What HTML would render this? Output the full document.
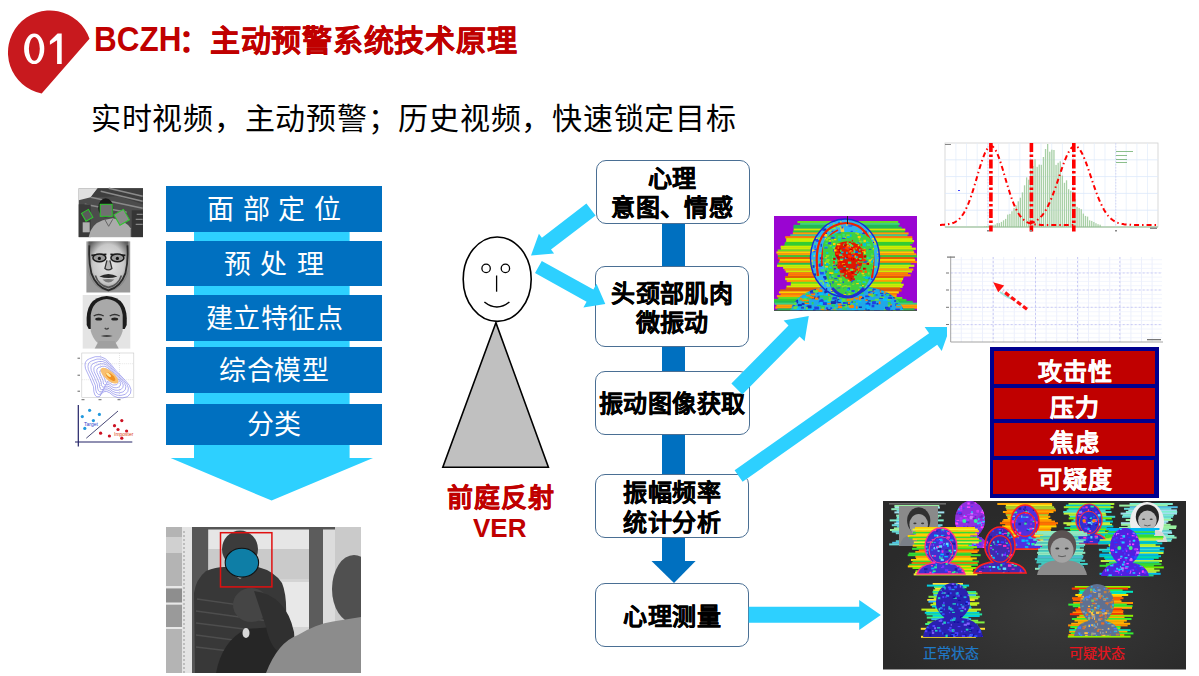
<!DOCTYPE html>
<html lang="zh-CN">
<head>
<meta charset="utf-8">
<style>
html,body{margin:0;padding:0;}
body{width:1199px;height:676px;overflow:hidden;position:relative;background:#fff;font-family:"Liberation Sans",sans-serif;}
.a{position:absolute;left:0;top:0;}
.t{position:absolute;white-space:nowrap;line-height:1;}
.bb{position:absolute;left:166px;width:216px;background:#0070C0;}
.bt{position:absolute;left:166px;width:216px;text-align:center;letter-spacing:0.5px;text-indent:0.5px;color:#fff;font-size:27px;line-height:1;white-space:nowrap;}
.fb{position:absolute;border:1.3px solid #4A6F94;border-radius:10px;background:#fff;box-sizing:border-box;}
.ft{position:absolute;-webkit-text-stroke:0.3px #000;left:595px;width:154px;letter-spacing:0.4px;text-indent:0.4px;text-align:center;color:#000;font-weight:bold;font-size:24px;line-height:1;white-space:nowrap;}
.con{position:absolute;left:662px;width:23px;background:#0070C0;}
.rc{position:absolute;left:994px;width:161px;background:#C00000;}
.rt{position:absolute;-webkit-text-stroke:0.3px #fff;left:994px;width:161px;text-align:center;letter-spacing:1px;text-indent:1px;color:#fff;font-weight:bold;font-size:24px;line-height:1;white-space:nowrap;}
</style>
</head>
<body>
<!-- badge -->
<svg class="a" width="100" height="100">
<path d="M89.5,38.8 A41.9,41.9 0 1 0 41.7,93.5 Z" fill="#C8191E"/>
</svg>
<svg class="a" width="100" height="100"><path fill="#fff" fill-rule="evenodd" d="M24.1,48.85 A10.1,15.25 0 1 0 44.3,48.85 A10.1,15.25 0 1 0 24.1,48.85 Z M28.9,48.85 A5.45,11.95 0 1 0 39.8,48.85 A5.45,11.95 0 1 0 28.9,48.85 Z"/><polygon fill="#fff" points="57.6,33.6 61.7,33.6 61.7,64.1 57.1,64.1 57.1,40.2 49.9,44.8 49.9,41 "/></svg>
<div class="t" style="left:93.5px;top:22px;font-size:34.2px;font-weight:bold;color:#C00000;transform:scaleX(0.92);transform-origin:0 0;">BCZH</div>
<div class="t" style="left:179px;top:26px;font-size:30px;letter-spacing:0.75px;font-weight:bold;color:#C00000;-webkit-text-stroke:0.4px #C00000;">：主动预警系统技术原理</div>
<div class="t" style="left:91px;top:104px;font-size:30px;letter-spacing:0.74px;color:#000;">实时视频，主动预警；历史视频，快速锁定目标</div>

<!-- big cyan arrow -->
<svg class="a" width="400" height="520">
<polygon points="194,186 349.6,186 349.6,458 373,458 271.6,500.6 170.6,458 194,458" fill="#2DD0FF"/>
</svg>
<div class="bb" style="top:186px;height:45.6px;"></div>
<div class="bb" style="top:241px;height:44.6px;"></div>
<div class="bb" style="top:295px;height:45.6px;"></div>
<div class="bb" style="top:347px;height:45.6px;"></div>
<div class="bb" style="top:404px;height:40.6px;"></div>
<div class="bt" style="top:196.5px;letter-spacing:8.7px;text-indent:8.7px">面部定位</div>
<div class="bt" style="top:251.5px;letter-spacing:9.3px;text-indent:9.3px">预处理</div>
<div class="bt" style="top:305.5px;">建立特征点</div>
<div class="bt" style="top:357.5px;">综合模型</div>
<div class="bt" style="top:411.5px;">分类</div>

<svg class="a" width="400" height="676"><g transform="translate(78.7,188.3)"><rect width="64.3" height="48.8" fill="#4C4C4C"/><polygon points="0,0 19,0 12,9 0,12" fill="#E0E0E0"/><polygon points="19,0 64.3,0 64.3,16 40,8 12,9" fill="#3E3E3E"/><path d="M12,9 L64,20 M22,3 L64,13 M6,16 L48,24 M30,0 L64,8" stroke="#8A8A8A" stroke-width="1.6"/><rect x="0" y="16" width="12" height="32.8" fill="#3A3A3A"/><rect x="4" y="34" width="7" height="10" fill="#B0B0B0"/><rect x="53" y="22" width="11.3" height="26.8" fill="#353535"/><path d="M58,26 H64 M57,31 H64 M57,36 H64" stroke="#9a9a9a" stroke-width="1"/><path d="M10,48.8 Q12,36 24,32 L34,30 Q48,33 52,40 L52,48.8 Z" fill="#ABABAB"/><path d="M26,31 L30,38 L34,31" stroke="#666" stroke-width="1" fill="none"/><ellipse cx="27" cy="19.5" rx="7.5" ry="9.5" fill="#1A1A1A"/><rect x="21.5" y="16" width="12" height="12" fill="#707070" stroke="#2EC82E" stroke-width="1"/><rect x="4.5" y="22.5" width="8" height="9" fill="#5a5a5a" stroke="#2EC82E" stroke-width="1" transform="rotate(-30 8.5 27)"/><rect x="37.5" y="23" width="11" height="12" fill="#8a8a8a" stroke="#2EC82E" stroke-width="1" transform="rotate(-30 43 29)"/></g><defs><radialGradient id="t2g" cx="0.5" cy="0.45" r="0.6"><stop offset="0" stop-color="#E6E6E6"/><stop offset="0.65" stop-color="#C8C8C8"/><stop offset="1" stop-color="#606060"/></radialGradient></defs><g transform="translate(86.4,241.4)"><rect width="43.8" height="51.1" fill="#9A9A9A"/><path d="M2,0 L42,0 L42,30 Q38,47 22,50 Q6,47 2,30 Z" fill="url(#t2g)"/><path d="M3,4 Q2,20 5,32 Q10,46 22,49 Q34,46 39,32 Q42,20 41,4" fill="none" stroke="#2a2a2a" stroke-width="1.8"/><path d="M5,14 L20,13 M24,13 L39,14" stroke="#1a1a1a" stroke-width="1.8"/><ellipse cx="13" cy="16.5" rx="6.5" ry="3.8" fill="#9a9a9a" stroke="#1a1a1a" stroke-width="1.5"/><ellipse cx="31" cy="16.5" rx="6.5" ry="3.8" fill="#9a9a9a" stroke="#1a1a1a" stroke-width="1.5"/><circle cx="13" cy="17" r="1.6" fill="#111"/><circle cx="31" cy="17" r="1.6" fill="#111"/><path d="M20.5,19 L18.5,27 Q22,30 25.5,27 L23.5,19" fill="#b8b8b8" stroke="#333" stroke-width="1.3"/><path d="M13,35 Q22,30 31,35 Q22,38 13,35 Z" fill="#2a2a2a"/><path d="M16,38 Q22,37 28,38 Q22,44 16,38 Z" fill="#7a7a7a"/><path d="M9,34 Q12,44 22,46 Q32,44 35,34" fill="none" stroke="#555" stroke-width="1.6"/></g><g transform="translate(82.7,295)"><rect width="47.6" height="53.6" fill="#E4E4E4"/><path d="M4,30 Q2,2 24,1 Q46,2 44,30 L42,34 L6,34 Z" fill="#1C1C1C"/><path d="M8,20 Q10,5 24,4 Q38,5 40,20 L40,36 Q36,50 24,52 Q12,50 8,36 Z" fill="#A9A9A9"/><path d="M12,53.6 L16,46 L32,46 L36,53.6 Z" fill="#A0A0A0"/><path d="M11,21 Q16,18 21,21 M27,21 Q32,18 37,21" stroke="#333" stroke-width="1.4" fill="none"/><ellipse cx="16" cy="24" rx="3.5" ry="1.6" fill="#222"/><ellipse cx="32" cy="24" rx="3.5" ry="1.6" fill="#222"/><path d="M22,33 Q24,35 26,33" stroke="#444" stroke-width="1.2" fill="none"/><path d="M18,41 Q24,39 30,41 Q24,43 18,41 Z" fill="#444"/></g><g transform="translate(79.5,352.7)"><rect x="2.3" y="0.3" width="52" height="44.5" fill="#fff" stroke="#c8c8c8" stroke-width="0.6"/><path d="M2.3,11 H54.3 M2.3,27 H54.3 M21,0.3 V44.8 M40,0.3 V44.8" stroke="#ccc" stroke-width="0.5" stroke-dasharray="1,1"/><g fill="#666"><rect x="-2" y="5" width="2.5" height="1"/><rect x="-2" y="22" width="2.5" height="1"/><rect x="-2" y="38" width="2.5" height="1"/><rect x="2" y="46.5" width="3" height="1"/><rect x="19" y="46.5" width="3" height="1"/><rect x="38" y="46.5" width="3" height="1"/></g><path transform="translate(30,24) scale(1.00)" d="M-20,-18 Q-8,-24 0,-14 Q6,-6 16,4 Q26,14 18,20 Q8,24 0,16 Q-6,12 -10,20 Q-16,22 -16,10 Q-20,0 -24,-8 Q-26,-16 -20,-18 Z" fill="none" stroke="#7878E8" stroke-width="0.60"/><path transform="translate(30,24) scale(0.88)" d="M-20,-18 Q-8,-24 0,-14 Q6,-6 16,4 Q26,14 18,20 Q8,24 0,16 Q-6,12 -10,20 Q-16,22 -16,10 Q-20,0 -24,-8 Q-26,-16 -20,-18 Z" fill="none" stroke="#7878E8" stroke-width="0.68"/><path transform="translate(30,24) scale(0.76)" d="M-20,-18 Q-8,-24 0,-14 Q6,-6 16,4 Q26,14 18,20 Q8,24 0,16 Q-6,12 -10,20 Q-16,22 -16,10 Q-20,0 -24,-8 Q-26,-16 -20,-18 Z" fill="none" stroke="#7878E8" stroke-width="0.79"/><path transform="translate(30,24) scale(0.64)" d="M-20,-18 Q-8,-24 0,-14 Q6,-6 16,4 Q26,14 18,20 Q8,24 0,16 Q-6,12 -10,20 Q-16,22 -16,10 Q-20,0 -24,-8 Q-26,-16 -20,-18 Z" fill="none" stroke="#7878E8" stroke-width="0.94"/><path transform="translate(30,24) scale(0.52)" d="M-20,-18 Q-8,-24 0,-14 Q6,-6 16,4 Q26,14 18,20 Q8,24 0,16 Q-6,12 -10,20 Q-16,22 -16,10 Q-20,0 -24,-8 Q-26,-16 -20,-18 Z" fill="none" stroke="#7878E8" stroke-width="1.15"/><path transform="translate(30,24) scale(0.40)" d="M-20,-18 Q-8,-24 0,-14 Q6,-6 16,4 Q26,14 18,20 Q8,24 0,16 Q-6,12 -10,20 Q-16,22 -16,10 Q-20,0 -24,-8 Q-26,-16 -20,-18 Z" fill="none" stroke="#7878E8" stroke-width="1.50"/><path transform="translate(30,24) scale(0.28)" d="M-20,-18 Q-8,-24 0,-14 Q6,-6 16,4 Q26,14 18,20 Q8,24 0,16 Q-6,12 -10,20 Q-16,22 -16,10 Q-20,0 -24,-8 Q-26,-16 -20,-18 Z" fill="none" stroke="#7878E8" stroke-width="2.14"/><ellipse cx="30" cy="23" rx="11" ry="4.5" transform="rotate(40 30 23)" fill="#F8C070"/><ellipse cx="31" cy="24" rx="6" ry="2.5" transform="rotate(40 31 24)" fill="#F09020"/><ellipse cx="29" cy="22" rx="3" ry="1.3" transform="rotate(40 29 22)" fill="#FFE8A0"/></g><g><path d="M78.3,405 V446.5 M75,442 H132.3" stroke="#222266" stroke-width="1.2"/><path d="M86.3,438.2 L118,411" stroke="#333366" stroke-width="0.9"/><circle cx="89.6" cy="410.3" r="1.6" fill="#2299DD"/><circle cx="82.3" cy="416.6" r="1.6" fill="#2299DD"/><circle cx="93.4" cy="420.6" r="1.6" fill="#2299DD"/><circle cx="99.4" cy="414.4" r="1.6" fill="#2299DD"/><circle cx="84.8" cy="428.4" r="1.6" fill="#2299DD"/><circle cx="121.8" cy="420.6" r="1.6" fill="#CC1122"/><circle cx="114.5" cy="425.7" r="1.6" fill="#CC1122"/><circle cx="118" cy="429.5" r="1.6" fill="#CC1122"/><circle cx="126.6" cy="431" r="1.6" fill="#CC1122"/><circle cx="100.6" cy="433.2" r="1.6" fill="#CC1122"/><circle cx="109.4" cy="436" r="1.6" fill="#CC1122"/><circle cx="121.8" cy="438.2" r="1.6" fill="#CC1122"/><text x="84" y="426" font-size="5" fill="#3344cc" font-family="Liberation Sans">Target</text><text x="114" y="435.5" font-size="5" fill="#dd4411" font-family="Liberation Sans">Imposter</text></g></svg>

<svg class="a" style="left:166px;top:527px" width="195" height="146" viewBox="0 0 195 146"><rect width="195" height="146" fill="#BDBDBD"/><rect x="0" y="0" width="16" height="146" fill="#B4B4B4"/><rect x="0" y="10" width="16" height="16" fill="#D0D0D0"/><rect x="0" y="62" width="16" height="14" fill="#8E8E8E"/><rect x="0" y="78" width="16" height="22" fill="#9A9A9A"/><path d="M0,60 H16 M0,76.5 H16 M0,101 H16" stroke="#E8E8E8" stroke-width="2"/><rect x="16" y="0" width="10" height="146" fill="#E4E4E4"/><path d="M18,4 V146" stroke="#B0B0B0" stroke-width="1.5" stroke-dasharray="2,2"/><rect x="26" y="0" width="16.5" height="146" fill="#575757"/><rect x="42.5" y="2" width="100.5" height="144" fill="#D4D4D4"/><rect x="42.5" y="2" width="100.5" height="20" fill="#E6E6E6"/><rect x="42.5" y="22" width="100.5" height="30" fill="#CACACA"/><rect x="100" y="55" width="43" height="45" fill="#E8E8E8"/><rect x="143" y="0" width="14" height="146" fill="#5C5C5C"/><rect x="157" y="0" width="12" height="146" fill="#DCDCDC"/><rect x="169" y="0" width="26" height="146" fill="#CACACA"/><rect x="26" y="0" width="143" height="2.5" fill="#555"/><path d="M29,146 L28,66 Q30,52 40,44 Q50,40 58,40 L92,40 Q108,44 116,56 Q121,68 120,90 L121,146 Z" fill="#383838"/><path d="M31,72 L116,84 M30,84 L117,96 M30,96 L110,106 M30,108 L90,116 M30,120 L80,126" stroke="#4e4e4e" stroke-width="1.3"/><ellipse cx="74" cy="22" rx="18" ry="18.5" fill="#3C3C3C"/><path d="M62,44 L74,52 L86,44" fill="#9a9a9a"/><path d="M50,146 Q56,114 80,102 L108,100 Q122,108 120,146 Z" fill="#262626"/><ellipse cx="85" cy="78" rx="18" ry="17" fill="#454545"/><path d="M88,64 Q120,68 128,105 Q130,122 118,128 Q105,124 100,100 Z" fill="#303030"/><ellipse cx="80" cy="106" rx="3.5" ry="5" fill="#d8d8d8"/><ellipse cx="188" cy="62" rx="22" ry="34" fill="#505050"/><path d="M100,146 Q112,115 132,108 Q150,97 167,94.5 L195,90 L195,146 Z" fill="#8C8C8C"/><rect x="54.5" y="5.7" width="51.4" height="54.2" fill="none" stroke="#E01010" stroke-width="1.5"/><ellipse cx="75.9" cy="35.7" rx="16.7" ry="14.4" fill="#0E7EA6" stroke="#111" stroke-width="1.1"/></svg>

<!-- stick figure -->
<svg class="a" width="600" height="560">
<polygon points="495.9,322.7 442.8,467.2 548.4,467.2" fill="#C0C0C0" stroke="#000" stroke-width="1.6" stroke-linejoin="miter"/>
<ellipse cx="497.2" cy="279.2" rx="34" ry="42.2" fill="#fff" stroke="#000" stroke-width="1.6"/>
<circle cx="486.1" cy="268.4" r="4.2" fill="none" stroke="#000" stroke-width="1.3"/>
<circle cx="505.4" cy="268.4" r="4.2" fill="none" stroke="#000" stroke-width="1.3"/>
<line x1="496.6" y1="275.5" x2="496.6" y2="291.7" stroke="#000" stroke-width="1.3"/>
<path d="M484.4,302 Q496.9,312 509.4,302" fill="none" stroke="#000" stroke-width="1.5"/>
</svg>
<div class="t" style="left:447px;top:485px;font-size:26px;letter-spacing:0.9px;font-weight:bold;color:#C00000;-webkit-text-stroke:0.35px #C00000;">前庭反射</div>
<div class="t" style="left:473px;top:515px;font-size:26px;font-weight:bold;color:#C00000;">VER</div>

<!-- flowchart -->
<div class="con" style="top:220px;height:50px;"></div>
<div class="con" style="top:343px;height:30px;"></div>
<div class="con" style="top:431px;height:46px;"></div>
<div class="con" style="top:535px;height:27px;"></div>
<svg class="a" width="760" height="600">
<polygon points="651.5,561 695.6,561 674,583" fill="#0070C0"/>
</svg>
<div class="fb" style="left:596px;top:160px;width:154px;height:64px;"></div>
<div class="fb" style="left:595px;top:265.5px;width:154px;height:81.5px;"></div>
<div class="fb" style="left:595px;top:370.5px;width:155px;height:64px;"></div>
<div class="fb" style="left:595px;top:474px;width:154px;height:63.5px;"></div>
<div class="fb" style="left:595px;top:582.5px;width:154px;height:64px;"></div>
<div class="ft" style="top:166.5px;">心理</div>
<div class="ft" style="top:195.5px;">意图、情感</div>
<div class="ft" style="top:281.5px;">头颈部肌肉</div>
<div class="ft" style="top:310.5px;">微振动</div>
<div class="ft" style="top:391.5px;">振动图像获取</div>
<div class="ft" style="top:480.5px;">振幅频率</div>
<div class="ft" style="top:510.5px;">统计分析</div>
<div class="ft" style="top:604.5px;">心理测量</div>

<!-- arrows -->
<svg class="a" width="1199" height="676">
<g fill="#2DD0FF">
<polygon points="586.4,203.5 541.9,237.7 538.9,233.7 531.0,255.5 554.1,253.6 551.0,249.6 595.6,215.5"/>
<polygon points="535.0,273.1 586.6,301.7 583.4,307.4 605.3,304.1 596.5,283.8 593.4,289.5 541.8,260.9"/>
<polygon points="742.4,394.4 799.6,336.4 804.6,341.3 808.8,316.0 783.6,320.6 788.5,325.5 731.4,383.6"/>
<polygon points="742.6,481.7 937.2,344.7 941.7,351.1 950.3,326.9 924.6,326.9 929.1,333.3 734.6,470.3"/>
<polygon points="748.7,606.7 859.2,606.7 859.2,600 880.8,615 859.2,630 859.2,622.7 748.7,622.7"/>
</g>
</svg>

<svg class="a" style="left:774px;top:216px" width="143" height="95.3" viewBox="0 0 143 95.3"><rect width="143" height="95.3" fill="#9A05D2"/><rect x="23.4" y="5.0" width="100.8" height="2.2" fill="#66DD22"/><rect x="26.1" y="6.9" width="99.5" height="2.2" fill="#40D080"/><rect x="19.6" y="8.8" width="105.0" height="2.2" fill="#22BB55"/><rect x="19.4" y="10.7" width="108.3" height="2.2" fill="#22BB55"/><rect x="19.7" y="12.6" width="111.6" height="2.2" fill="#CCEE00"/><rect x="18.9" y="14.5" width="111.8" height="2.2" fill="#33CC33"/><rect x="18.8" y="16.4" width="115.8" height="2.2" fill="#FFA000"/><rect x="16.3" y="18.3" width="117.2" height="2.2" fill="#40D080"/><rect x="11.1" y="20.2" width="127.2" height="2.2" fill="#FF7F00"/><rect x="12.2" y="22.1" width="126.2" height="2.2" fill="#CCEE00"/><rect x="12.2" y="24.0" width="127.9" height="2.2" fill="#CCEE00"/><rect x="10.9" y="25.9" width="127.8" height="2.2" fill="#33CC33"/><rect x="10.3" y="27.8" width="125.9" height="2.2" fill="#33CC33"/><rect x="6.6" y="29.7" width="131.2" height="2.2" fill="#CCEE00"/><rect x="6.8" y="31.6" width="135.0" height="2.2" fill="#CCEE00"/><rect x="3.7" y="33.5" width="135.8" height="2.2" fill="#66DD22"/><rect x="2.4" y="35.4" width="137.8" height="2.2" fill="#FFD000"/><rect x="3.5" y="37.3" width="138.8" height="2.2" fill="#FFA000"/><rect x="4.0" y="39.2" width="140.7" height="2.2" fill="#33CC33"/><rect x="3.8" y="41.1" width="136.7" height="2.2" fill="#E06000"/><rect x="5.7" y="43.0" width="135.5" height="2.2" fill="#FFD000"/><rect x="4.8" y="44.9" width="138.1" height="2.2" fill="#FF7F00"/><rect x="3.5" y="46.8" width="133.2" height="2.2" fill="#22BB55"/><rect x="3.0" y="48.7" width="137.3" height="2.2" fill="#CCEE00"/><rect x="9.1" y="50.6" width="125.8" height="2.2" fill="#CCEE00"/><rect x="10.5" y="52.5" width="128.8" height="2.2" fill="#FFA000"/><rect x="11.7" y="54.4" width="126.2" height="2.2" fill="#CCEE00"/><rect x="14.5" y="56.3" width="119.5" height="2.2" fill="#FF7F00"/><rect x="14.0" y="58.2" width="122.6" height="2.2" fill="#FF7F00"/><rect x="11.0" y="60.1" width="118.9" height="2.2" fill="#E06000"/><rect x="11.2" y="62.0" width="117.9" height="2.2" fill="#CCEE00"/><rect x="12.7" y="63.9" width="115.4" height="2.2" fill="#FFA000"/><rect x="16.9" y="65.8" width="110.3" height="2.2" fill="#66DD22"/><rect x="16.8" y="67.7" width="112.9" height="2.2" fill="#CCEE00"/><rect x="12.5" y="69.6" width="116.1" height="2.2" fill="#CCEE00"/><rect x="11.8" y="71.5" width="114.4" height="2.2" fill="#E06000"/><rect x="6.2" y="73.4" width="121.4" height="2.2" fill="#E06000"/><rect x="4.9" y="75.3" width="119.9" height="2.2" fill="#FFD000"/><rect x="6.6" y="77.2" width="116.2" height="2.2" fill="#FF7F00"/><rect x="2.9" y="79.1" width="119.7" height="2.2" fill="#FFA000"/><rect x="4.2" y="81.0" width="124.1" height="2.2" fill="#66DD22"/><rect x="-0.7" y="82.9" width="133.1" height="2.2" fill="#33CC33"/><rect x="-0.8" y="84.8" width="139.6" height="2.2" fill="#22BB55"/><rect x="0.6" y="86.7" width="143.9" height="2.2" fill="#40D080"/><rect x="2.4" y="88.6" width="141.1" height="2.2" fill="#FFA000"/><rect x="1.3" y="90.5" width="143.4" height="2.2" fill="#FFA000"/><rect x="3.2" y="92.4" width="137.3" height="2.2" fill="#22BB55"/><rect x="-1.1" y="94.3" width="143.7" height="2.2" fill="#33CC33"/><clipPath id="hsh"><path d="M16,95.3 Q22,76 50,71 L95,71 Q124,76 130,95.3 Z"/></clipPath><path d="M16,95.3 Q22,76 50,71 L95,71 Q124,76 130,95.3 Z" fill="#20A8E8"/><g clip-path="url(#hsh)"><rect x="57.5" y="77.9" width="2.8" height="2.2" fill="#00C0FF"/><rect x="105.8" y="72.7" width="4.3" height="2.9" fill="#1830B0"/><rect x="99.8" y="77.8" width="2.3" height="2.6" fill="#30D060"/><rect x="53.4" y="87.2" width="3.8" height="1.2" fill="#FF8000"/><rect x="52.7" y="78.4" width="4.4" height="1.9" fill="#30D060"/><rect x="25.1" y="88.8" width="2.3" height="2.1" fill="#00C0FF"/><rect x="41.7" y="73.1" width="3.4" height="1.4" fill="#FF8000"/><rect x="36.9" y="77.0" width="4.3" height="2.3" fill="#FF8000"/><rect x="55.4" y="73.3" width="2.5" height="2.6" fill="#00C0FF"/><rect x="69.0" y="86.0" width="2.5" height="2.1" fill="#2040E0"/><rect x="120.9" y="73.9" width="1.5" height="2.9" fill="#FF8000"/><rect x="128.5" y="81.0" width="4.8" height="2.9" fill="#30D060"/><rect x="19.7" y="81.6" width="4.1" height="2.5" fill="#00C0FF"/><rect x="78.0" y="92.5" width="4.5" height="2.7" fill="#00C0FF"/><rect x="29.7" y="76.2" width="1.6" height="2.6" fill="#FF8000"/><rect x="121.3" y="92.7" width="4.6" height="2.2" fill="#2040E0"/><rect x="70.8" y="73.1" width="3.3" height="1.5" fill="#2040E0"/><rect x="75.8" y="80.5" width="4.8" height="2.2" fill="#00C0FF"/><rect x="30.3" y="94.6" width="3.4" height="2.6" fill="#2040E0"/><rect x="56.1" y="75.0" width="3.4" height="2.6" fill="#30D060"/><rect x="43.3" y="76.9" width="4.6" height="1.3" fill="#2040E0"/><rect x="71.6" y="84.4" width="2.9" height="2.5" fill="#30D060"/><rect x="46.6" y="83.3" width="3.0" height="1.9" fill="#2040E0"/><rect x="113.7" y="89.6" width="1.7" height="1.1" fill="#60E040"/><rect x="127.1" y="91.6" width="1.8" height="2.0" fill="#00C0FF"/><rect x="33.9" y="71.8" width="2.9" height="1.8" fill="#00C0FF"/><rect x="57.1" y="74.8" width="2.7" height="1.2" fill="#FF8000"/><rect x="16.4" y="88.3" width="4.3" height="2.1" fill="#2040E0"/><rect x="58.6" y="85.3" width="4.2" height="1.8" fill="#2040E0"/><rect x="87.0" y="80.9" width="2.8" height="2.0" fill="#1830B0"/><rect x="51.9" y="94.0" width="3.0" height="1.0" fill="#30D060"/><rect x="77.1" y="87.6" width="1.8" height="1.8" fill="#60E040"/><rect x="30.9" y="70.7" width="2.6" height="2.9" fill="#FF8000"/><rect x="106.2" y="76.6" width="3.1" height="1.2" fill="#1830B0"/><rect x="91.5" y="92.4" width="4.3" height="2.3" fill="#1830B0"/><rect x="52.3" y="83.5" width="4.3" height="2.4" fill="#60E040"/><rect x="32.4" y="89.6" width="1.7" height="1.2" fill="#2040E0"/><rect x="91.1" y="79.5" width="4.4" height="1.7" fill="#2040E0"/><rect x="18.9" y="72.9" width="3.2" height="2.4" fill="#00C0FF"/><rect x="82.0" y="90.2" width="1.6" height="2.5" fill="#FF8000"/><rect x="76.3" y="76.0" width="3.4" height="1.2" fill="#FF8000"/><rect x="23.0" y="78.2" width="3.5" height="2.7" fill="#30D060"/><rect x="129.8" y="86.3" width="3.1" height="2.4" fill="#60E040"/><rect x="44.8" y="85.2" width="4.8" height="2.1" fill="#2040E0"/><rect x="58.8" y="76.0" width="4.8" height="2.7" fill="#30D060"/><rect x="63.3" y="84.4" width="3.5" height="2.8" fill="#1830B0"/><rect x="71.1" y="86.3" width="4.6" height="1.3" fill="#2040E0"/><rect x="72.8" y="82.2" width="3.9" height="2.9" fill="#FF8000"/><rect x="98.0" y="74.7" width="2.4" height="1.4" fill="#FF8000"/><rect x="74.8" y="93.7" width="4.5" height="2.1" fill="#00C0FF"/><rect x="92.5" y="91.6" width="3.6" height="2.2" fill="#00C0FF"/><rect x="117.4" y="77.8" width="2.4" height="2.6" fill="#30D060"/><rect x="35.6" y="79.1" width="2.6" height="2.5" fill="#30D060"/><rect x="63.7" y="87.6" width="4.0" height="1.4" fill="#FF8000"/><rect x="111.1" y="90.8" width="3.4" height="2.0" fill="#1830B0"/><rect x="24.3" y="94.0" width="4.2" height="2.8" fill="#2040E0"/><rect x="69.3" y="75.8" width="2.3" height="2.4" fill="#1830B0"/><rect x="23.9" y="75.5" width="2.4" height="2.8" fill="#00C0FF"/><rect x="31.7" y="85.7" width="3.9" height="1.1" fill="#00C0FF"/><rect x="35.3" y="71.1" width="2.1" height="1.2" fill="#2040E0"/><rect x="29.4" y="76.7" width="4.7" height="1.1" fill="#60E040"/><rect x="82.2" y="87.1" width="1.5" height="1.7" fill="#60E040"/><rect x="59.3" y="72.0" width="3.8" height="2.5" fill="#60E040"/><rect x="60.6" y="83.8" width="1.9" height="1.5" fill="#1830B0"/><rect x="65.3" y="81.1" width="3.3" height="1.5" fill="#FF8000"/><rect x="123.3" y="79.5" width="4.2" height="2.5" fill="#00C0FF"/><rect x="91.6" y="87.0" width="4.8" height="2.6" fill="#2040E0"/><rect x="102.0" y="94.3" width="3.9" height="2.1" fill="#2040E0"/><rect x="92.0" y="82.9" width="1.7" height="1.6" fill="#1830B0"/><rect x="80.6" y="74.6" width="3.8" height="2.3" fill="#30D060"/><rect x="58.3" y="93.3" width="3.1" height="1.2" fill="#FF8000"/><rect x="32.1" y="78.4" width="4.0" height="2.2" fill="#FF8000"/><rect x="50.3" y="74.7" width="3.2" height="2.6" fill="#1830B0"/><rect x="23.8" y="88.1" width="4.1" height="2.1" fill="#1830B0"/><rect x="60.7" y="72.5" width="2.4" height="1.1" fill="#30D060"/><rect x="20.8" y="82.8" width="2.4" height="2.5" fill="#00C0FF"/><rect x="115.8" y="93.9" width="3.1" height="2.6" fill="#2040E0"/><rect x="56.2" y="91.4" width="1.9" height="1.5" fill="#2040E0"/><rect x="93.7" y="84.3" width="4.7" height="1.2" fill="#1830B0"/><rect x="37.6" y="80.5" width="4.1" height="2.6" fill="#1830B0"/><rect x="30.6" y="85.4" width="4.5" height="2.6" fill="#FF8000"/><rect x="76.1" y="84.4" width="2.2" height="1.5" fill="#00C0FF"/><rect x="19.4" y="90.3" width="4.6" height="2.9" fill="#60E040"/><rect x="52.0" y="92.9" width="2.6" height="2.0" fill="#FF8000"/><rect x="94.3" y="77.6" width="4.5" height="2.0" fill="#FF8000"/><rect x="37.7" y="86.0" width="1.9" height="2.5" fill="#30D060"/><rect x="72.1" y="83.2" width="3.1" height="1.4" fill="#FF8000"/><rect x="40.2" y="90.6" width="4.7" height="2.9" fill="#2040E0"/><rect x="80.5" y="94.3" width="4.6" height="1.3" fill="#2040E0"/><rect x="87.1" y="71.3" width="2.8" height="1.5" fill="#2040E0"/><rect x="72.8" y="70.5" width="2.7" height="1.7" fill="#00C0FF"/><rect x="95.2" y="73.4" width="4.5" height="2.2" fill="#2040E0"/><rect x="97.6" y="88.7" width="2.7" height="2.6" fill="#2040E0"/><rect x="114.2" y="81.1" width="4.1" height="2.0" fill="#2040E0"/><rect x="105.7" y="80.3" width="4.5" height="2.4" fill="#60E040"/><rect x="72.7" y="87.7" width="3.4" height="1.8" fill="#1830B0"/><rect x="71.7" y="70.6" width="3.1" height="2.4" fill="#60E040"/><rect x="36.6" y="92.8" width="4.0" height="1.7" fill="#00C0FF"/><rect x="67.0" y="79.1" width="2.9" height="2.9" fill="#30D060"/><rect x="45.5" y="79.4" width="4.5" height="2.1" fill="#30D060"/><rect x="39.9" y="74.3" width="2.9" height="1.3" fill="#2040E0"/><rect x="31.9" y="85.4" width="3.0" height="1.4" fill="#2040E0"/><rect x="62.0" y="78.0" width="1.6" height="2.4" fill="#30D060"/><rect x="62.0" y="80.0" width="1.6" height="2.9" fill="#30D060"/><rect x="43.5" y="79.8" width="2.2" height="1.7" fill="#2040E0"/><rect x="55.5" y="73.1" width="1.7" height="2.5" fill="#00C0FF"/><rect x="127.9" y="93.8" width="4.3" height="2.9" fill="#60E040"/><rect x="44.5" y="76.7" width="4.4" height="2.3" fill="#00C0FF"/><rect x="52.1" y="71.4" width="3.0" height="1.2" fill="#FF8000"/><rect x="16.4" y="70.8" width="1.8" height="1.3" fill="#2040E0"/><rect x="70.9" y="74.8" width="3.3" height="1.7" fill="#60E040"/><rect x="54.8" y="82.1" width="2.7" height="2.3" fill="#60E040"/><rect x="50.7" y="85.4" width="4.8" height="1.2" fill="#00C0FF"/><rect x="37.0" y="80.5" width="3.3" height="2.1" fill="#FF8000"/><rect x="93.5" y="93.5" width="2.1" height="2.5" fill="#1830B0"/><rect x="60.0" y="93.7" width="2.8" height="1.4" fill="#60E040"/><rect x="66.0" y="81.2" width="4.0" height="1.7" fill="#30D060"/><rect x="73.8" y="89.0" width="4.7" height="2.4" fill="#60E040"/><rect x="20.9" y="74.3" width="4.1" height="2.6" fill="#2040E0"/><rect x="102.5" y="87.1" width="1.8" height="1.5" fill="#1830B0"/><rect x="22.4" y="85.5" width="1.7" height="1.9" fill="#1830B0"/><rect x="89.7" y="95.2" width="1.5" height="1.4" fill="#2040E0"/><rect x="54.6" y="77.9" width="3.1" height="2.6" fill="#30D060"/><rect x="43.4" y="71.2" width="2.0" height="2.3" fill="#FF8000"/><rect x="128.3" y="72.8" width="2.5" height="1.4" fill="#FF8000"/><rect x="74.8" y="82.8" width="4.7" height="1.6" fill="#FF8000"/><rect x="105.2" y="81.8" width="3.7" height="1.1" fill="#2040E0"/><rect x="84.2" y="91.7" width="1.9" height="2.9" fill="#00C0FF"/><rect x="25.8" y="81.8" width="2.3" height="2.7" fill="#FF8000"/><rect x="28.4" y="82.3" width="3.8" height="2.4" fill="#60E040"/><rect x="84.8" y="81.3" width="1.9" height="2.7" fill="#FF8000"/><rect x="66.6" y="79.6" width="1.9" height="1.0" fill="#00C0FF"/><rect x="99.0" y="72.0" width="2.7" height="2.0" fill="#2040E0"/><rect x="121.3" y="87.4" width="2.8" height="2.6" fill="#2040E0"/><rect x="85.1" y="75.4" width="2.7" height="3.0" fill="#00C0FF"/><rect x="42.9" y="81.1" width="2.4" height="1.6" fill="#1830B0"/><rect x="122.1" y="88.4" width="4.6" height="3.0" fill="#FF8000"/><rect x="68.8" y="88.0" width="4.5" height="1.7" fill="#30D060"/><rect x="119.0" y="94.0" width="3.2" height="2.5" fill="#60E040"/><rect x="69.5" y="84.9" width="1.6" height="2.9" fill="#2040E0"/><rect x="37.0" y="72.4" width="4.0" height="1.6" fill="#FF8000"/><rect x="23.0" y="81.9" width="2.2" height="1.4" fill="#60E040"/><rect x="65.3" y="78.7" width="4.1" height="2.5" fill="#00C0FF"/><rect x="32.3" y="81.2" width="4.7" height="1.9" fill="#30D060"/><rect x="33.5" y="89.3" width="4.0" height="3.0" fill="#1830B0"/><rect x="58.5" y="74.1" width="2.6" height="1.9" fill="#FF8000"/><rect x="129.8" y="75.6" width="4.8" height="1.6" fill="#2040E0"/><rect x="68.8" y="92.4" width="4.3" height="1.6" fill="#30D060"/><rect x="122.0" y="83.1" width="1.6" height="2.3" fill="#30D060"/><rect x="77.1" y="74.2" width="1.7" height="1.4" fill="#60E040"/><rect x="56.5" y="94.4" width="2.8" height="2.1" fill="#60E040"/><rect x="37.1" y="70.3" width="3.0" height="1.7" fill="#2040E0"/><rect x="84.8" y="90.5" width="3.1" height="1.5" fill="#1830B0"/><rect x="107.4" y="80.6" width="2.4" height="1.1" fill="#60E040"/><rect x="20.3" y="95.2" width="2.1" height="2.5" fill="#FF8000"/><rect x="44.2" y="73.4" width="4.2" height="2.6" fill="#FF8000"/><rect x="101.6" y="78.5" width="2.0" height="1.0" fill="#2040E0"/><rect x="17.9" y="86.3" width="4.6" height="2.8" fill="#60E040"/><rect x="75.4" y="89.1" width="4.5" height="3.0" fill="#FF8000"/><rect x="63.2" y="83.1" width="2.1" height="1.4" fill="#1830B0"/><rect x="31.9" y="91.1" width="1.9" height="2.5" fill="#60E040"/><rect x="67.9" y="90.3" width="3.1" height="2.9" fill="#30D060"/><rect x="81.8" y="73.5" width="1.6" height="2.0" fill="#30D060"/><rect x="110.3" y="93.6" width="3.6" height="1.1" fill="#FF8000"/><rect x="84.1" y="72.9" width="1.9" height="2.6" fill="#00C0FF"/><rect x="27.7" y="86.9" width="2.8" height="2.0" fill="#1830B0"/><rect x="67.1" y="77.9" width="2.7" height="2.3" fill="#60E040"/><rect x="52.0" y="76.9" width="4.8" height="2.9" fill="#00C0FF"/><rect x="85.6" y="84.0" width="1.6" height="1.8" fill="#60E040"/><rect x="127.7" y="72.0" width="2.3" height="1.4" fill="#2040E0"/><rect x="95.6" y="72.9" width="3.7" height="1.2" fill="#2040E0"/><rect x="123.4" y="94.7" width="3.9" height="1.9" fill="#60E040"/><rect x="68.6" y="77.3" width="3.5" height="1.3" fill="#60E040"/><rect x="125.2" y="73.6" width="4.7" height="1.4" fill="#60E040"/><rect x="92.9" y="86.4" width="2.0" height="1.1" fill="#1830B0"/><rect x="36.1" y="74.8" width="4.4" height="2.7" fill="#2040E0"/><rect x="75.7" y="73.8" width="2.2" height="2.6" fill="#60E040"/><rect x="60.4" y="95.0" width="2.5" height="1.3" fill="#30D060"/><rect x="49.6" y="79.7" width="4.8" height="2.2" fill="#30D060"/><rect x="16.8" y="79.4" width="2.0" height="2.0" fill="#2040E0"/><rect x="56.4" y="94.1" width="3.2" height="2.4" fill="#00C0FF"/><rect x="69.9" y="88.7" width="3.4" height="2.7" fill="#60E040"/><rect x="80.9" y="81.7" width="3.4" height="1.9" fill="#FF8000"/><rect x="68.0" y="79.7" width="4.1" height="1.6" fill="#1830B0"/><rect x="112.7" y="74.5" width="4.9" height="2.7" fill="#30D060"/><rect x="52.1" y="91.3" width="2.0" height="2.2" fill="#2040E0"/><rect x="62.7" y="92.1" width="1.9" height="1.0" fill="#2040E0"/><rect x="106.5" y="95.1" width="3.9" height="2.1" fill="#00C0FF"/><rect x="26.5" y="83.7" width="3.0" height="1.3" fill="#FF8000"/><rect x="40.9" y="81.5" width="3.5" height="2.3" fill="#FF8000"/><rect x="56.9" y="85.2" width="4.9" height="2.9" fill="#1830B0"/><rect x="111.2" y="77.3" width="4.9" height="1.5" fill="#2040E0"/><rect x="84.6" y="75.6" width="5.0" height="2.5" fill="#30D060"/><rect x="48.2" y="94.5" width="3.1" height="2.0" fill="#FF8000"/><rect x="105.9" y="74.4" width="3.7" height="2.0" fill="#FF8000"/><rect x="21.9" y="80.6" width="3.4" height="2.2" fill="#00C0FF"/><rect x="22.8" y="91.6" width="2.8" height="3.0" fill="#00C0FF"/><rect x="74.6" y="71.4" width="3.2" height="1.2" fill="#1830B0"/><rect x="114.9" y="88.0" width="2.8" height="1.6" fill="#FF8000"/><rect x="58.3" y="81.1" width="4.7" height="2.4" fill="#2040E0"/><rect x="82.6" y="73.7" width="2.3" height="1.7" fill="#FF8000"/><rect x="16.0" y="92.4" width="2.2" height="1.9" fill="#30D060"/><rect x="19.4" y="83.6" width="4.7" height="2.1" fill="#1830B0"/><rect x="57.5" y="88.2" width="4.3" height="1.4" fill="#00C0FF"/><rect x="93.8" y="73.1" width="4.6" height="1.8" fill="#60E040"/><rect x="31.8" y="77.8" width="3.4" height="1.2" fill="#30D060"/><rect x="84.3" y="72.1" width="1.6" height="1.7" fill="#2040E0"/><rect x="71.9" y="94.9" width="3.2" height="1.3" fill="#30D060"/><rect x="74.3" y="80.9" width="3.7" height="2.3" fill="#60E040"/><rect x="48.7" y="86.2" width="4.1" height="2.8" fill="#2040E0"/><rect x="66.4" y="89.1" width="5.0" height="1.1" fill="#2040E0"/><rect x="53.0" y="93.1" width="3.7" height="1.2" fill="#1830B0"/><rect x="53.8" y="80.6" width="3.5" height="2.8" fill="#30D060"/><rect x="89.9" y="94.2" width="1.7" height="2.0" fill="#FF8000"/><rect x="75.7" y="84.5" width="1.8" height="1.5" fill="#60E040"/><rect x="110.0" y="93.2" width="2.9" height="1.7" fill="#60E040"/><rect x="91.4" y="83.4" width="2.2" height="1.6" fill="#FF8000"/><rect x="31.2" y="83.4" width="3.7" height="1.7" fill="#FF8000"/><rect x="113.8" y="88.7" width="2.2" height="1.1" fill="#60E040"/><rect x="113.8" y="85.9" width="3.2" height="2.7" fill="#30D060"/><rect x="109.8" y="93.7" width="1.9" height="2.8" fill="#60E040"/><rect x="112.0" y="78.0" width="4.1" height="1.7" fill="#30D060"/><rect x="59.8" y="91.5" width="4.4" height="1.1" fill="#60E040"/><rect x="57.8" y="75.7" width="2.5" height="1.7" fill="#2040E0"/><rect x="95.1" y="78.6" width="1.9" height="1.4" fill="#60E040"/><rect x="35.7" y="74.3" width="3.2" height="1.4" fill="#1830B0"/><rect x="57.6" y="75.9" width="3.9" height="2.1" fill="#FF8000"/><rect x="77.5" y="85.1" width="3.7" height="1.9" fill="#2040E0"/><rect x="25.0" y="83.6" width="3.1" height="1.0" fill="#30D060"/><rect x="46.6" y="92.7" width="3.9" height="1.4" fill="#FF8000"/><rect x="128.4" y="78.8" width="5.0" height="2.0" fill="#30D060"/><rect x="29.1" y="80.6" width="4.5" height="1.3" fill="#00C0FF"/><rect x="28.3" y="83.4" width="4.5" height="2.0" fill="#FF8000"/><rect x="33.3" y="93.3" width="2.8" height="1.1" fill="#00C0FF"/><rect x="109.9" y="75.1" width="1.8" height="2.5" fill="#FF8000"/><rect x="83.6" y="84.8" width="3.9" height="1.6" fill="#00C0FF"/><rect x="128.7" y="91.1" width="4.1" height="1.6" fill="#2040E0"/><rect x="64.2" y="84.1" width="4.2" height="1.8" fill="#00C0FF"/><rect x="80.7" y="76.3" width="3.9" height="2.1" fill="#60E040"/><rect x="97.3" y="78.2" width="2.1" height="2.8" fill="#60E040"/><rect x="35.7" y="80.0" width="2.2" height="1.8" fill="#FF8000"/><rect x="57.7" y="88.3" width="3.6" height="2.4" fill="#30D060"/><rect x="73.6" y="74.2" width="1.9" height="2.1" fill="#60E040"/><rect x="115.0" y="83.0" width="2.9" height="1.1" fill="#00C0FF"/><rect x="94.0" y="75.8" width="2.4" height="1.4" fill="#2040E0"/><rect x="70.3" y="81.0" width="2.4" height="2.9" fill="#30D060"/><rect x="46.2" y="89.7" width="4.8" height="2.3" fill="#30D060"/><rect x="128.3" y="90.0" width="4.1" height="2.8" fill="#2040E0"/><rect x="115.0" y="73.4" width="1.8" height="3.0" fill="#00C0FF"/><rect x="127.1" y="78.3" width="4.2" height="1.3" fill="#1830B0"/><rect x="72.0" y="95.2" width="2.0" height="2.8" fill="#60E040"/><rect x="100.9" y="82.8" width="3.9" height="1.9" fill="#60E040"/><rect x="45.4" y="83.8" width="3.5" height="1.8" fill="#2040E0"/><rect x="19.6" y="80.9" width="1.5" height="2.6" fill="#30D060"/><rect x="73.6" y="94.1" width="4.5" height="2.5" fill="#00C0FF"/><rect x="45.3" y="85.9" width="3.5" height="2.9" fill="#00C0FF"/><rect x="39.1" y="74.0" width="4.9" height="2.5" fill="#60E040"/><rect x="64.8" y="77.3" width="1.9" height="1.7" fill="#FF8000"/><rect x="99.3" y="76.6" width="1.8" height="1.2" fill="#1830B0"/><rect x="31.7" y="70.2" width="1.8" height="2.6" fill="#60E040"/><rect x="96.7" y="84.0" width="3.8" height="1.9" fill="#30D060"/><rect x="95.9" y="70.1" width="2.5" height="2.4" fill="#30D060"/><rect x="16.8" y="78.5" width="4.0" height="2.7" fill="#00C0FF"/><rect x="27.6" y="90.3" width="2.9" height="2.6" fill="#60E040"/><rect x="122.7" y="88.2" width="3.7" height="1.9" fill="#30D060"/><rect x="107.2" y="78.7" width="2.3" height="1.8" fill="#2040E0"/><rect x="61.1" y="94.8" width="1.9" height="2.3" fill="#30D060"/><rect x="49.1" y="70.6" width="1.6" height="1.7" fill="#30D060"/><rect x="67.8" y="82.9" width="3.7" height="3.0" fill="#60E040"/><rect x="91.5" y="88.6" width="3.3" height="1.9" fill="#00C0FF"/><rect x="107.2" y="74.5" width="3.1" height="2.1" fill="#00C0FF"/><rect x="121.6" y="84.7" width="3.7" height="1.9" fill="#30D060"/><rect x="51.2" y="83.2" width="2.3" height="2.1" fill="#00C0FF"/><rect x="29.9" y="82.6" width="3.2" height="1.5" fill="#60E040"/><rect x="18.3" y="70.6" width="3.7" height="1.1" fill="#FF8000"/><rect x="115.1" y="92.9" width="1.7" height="2.4" fill="#00C0FF"/><rect x="109.1" y="82.4" width="4.2" height="2.6" fill="#00C0FF"/><rect x="87.3" y="72.2" width="4.9" height="1.1" fill="#1830B0"/><rect x="37.8" y="72.1" width="4.1" height="2.1" fill="#1830B0"/><rect x="74.0" y="86.0" width="1.8" height="2.3" fill="#FF8000"/><rect x="113.4" y="82.9" width="3.2" height="1.7" fill="#60E040"/><rect x="121.6" y="80.7" width="4.0" height="2.1" fill="#60E040"/><rect x="65.5" y="78.7" width="4.8" height="1.6" fill="#60E040"/><rect x="100.1" y="76.5" width="3.2" height="1.5" fill="#00C0FF"/><rect x="27.1" y="76.6" width="3.2" height="1.8" fill="#30D060"/><rect x="98.1" y="85.2" width="3.8" height="3.0" fill="#2040E0"/><rect x="85.7" y="76.1" width="2.1" height="1.2" fill="#30D060"/><rect x="120.1" y="81.4" width="3.0" height="1.8" fill="#FF8000"/><rect x="54.8" y="80.9" width="1.6" height="2.5" fill="#60E040"/><rect x="57.5" y="88.4" width="2.5" height="1.4" fill="#30D060"/><rect x="116.2" y="89.4" width="1.6" height="1.8" fill="#2040E0"/><rect x="84.9" y="80.1" width="3.2" height="2.0" fill="#FF8000"/><rect x="65.3" y="75.1" width="2.9" height="2.3" fill="#1830B0"/><rect x="34.4" y="70.6" width="3.5" height="2.4" fill="#1830B0"/><rect x="27.1" y="90.7" width="2.9" height="2.0" fill="#2040E0"/><rect x="29.9" y="85.0" width="4.8" height="1.6" fill="#30D060"/><rect x="119.3" y="81.0" width="2.0" height="1.4" fill="#1830B0"/><rect x="64.1" y="78.0" width="3.1" height="2.9" fill="#00C0FF"/><rect x="78.7" y="84.9" width="2.7" height="2.1" fill="#30D060"/><rect x="127.2" y="77.1" width="1.8" height="2.8" fill="#30D060"/><rect x="113.4" y="92.1" width="2.7" height="2.5" fill="#2040E0"/><rect x="54.0" y="77.7" width="2.3" height="2.1" fill="#FF8000"/><rect x="99.2" y="70.0" width="3.8" height="2.6" fill="#30D060"/><rect x="122.5" y="89.1" width="4.4" height="1.1" fill="#00C0FF"/><rect x="55.2" y="77.4" width="2.7" height="1.4" fill="#30D060"/><rect x="120.2" y="84.1" width="1.9" height="1.9" fill="#2040E0"/><rect x="76.8" y="80.0" width="3.5" height="2.7" fill="#FF8000"/><rect x="38.9" y="93.3" width="2.6" height="2.3" fill="#2040E0"/><rect x="64.1" y="89.6" width="4.0" height="2.6" fill="#FF8000"/><rect x="43.1" y="88.9" width="3.6" height="1.2" fill="#30D060"/><rect x="115.3" y="78.7" width="2.1" height="1.7" fill="#2040E0"/><rect x="104.8" y="85.4" width="1.7" height="2.8" fill="#FF8000"/><rect x="49.2" y="82.3" width="4.2" height="1.9" fill="#30D060"/><rect x="71.0" y="73.0" width="2.1" height="2.7" fill="#60E040"/><rect x="47.7" y="91.4" width="2.2" height="1.9" fill="#60E040"/><rect x="57.2" y="79.3" width="1.5" height="2.1" fill="#60E040"/><rect x="80.3" y="83.5" width="1.5" height="1.1" fill="#00C0FF"/><rect x="37.2" y="94.8" width="1.9" height="2.7" fill="#30D060"/><rect x="100.0" y="94.3" width="2.6" height="1.7" fill="#2040E0"/><rect x="111.6" y="91.4" width="4.6" height="3.0" fill="#2040E0"/></g><clipPath id="hhd"><ellipse cx="71" cy="42" rx="34.5" ry="39"/></clipPath><ellipse cx="71" cy="42" rx="34.5" ry="39" fill="#30B0F0"/><g clip-path="url(#hhd)"><rect x="104.9" y="16.0" width="2.9" height="2.0" fill="#00D0FF"/><rect x="88.1" y="65.9" width="4.0" height="2.4" fill="#FFD020"/><rect x="74.4" y="9.4" width="3.7" height="1.2" fill="#2050F0"/><rect x="50.1" y="11.2" width="1.2" height="1.7" fill="#40E070"/><rect x="39.5" y="37.8" width="1.4" height="2.8" fill="#FFD020"/><rect x="51.0" y="58.7" width="3.2" height="2.2" fill="#00D0FF"/><rect x="84.9" y="4.1" width="1.6" height="2.1" fill="#2050F0"/><rect x="51.2" y="49.4" width="1.4" height="2.7" fill="#80F040"/><rect x="72.4" y="35.4" width="2.4" height="2.2" fill="#00D0FF"/><rect x="96.2" y="25.2" width="1.7" height="1.3" fill="#00D0FF"/><rect x="66.7" y="33.8" width="2.6" height="2.4" fill="#00D0FF"/><rect x="56.4" y="30.2" width="3.3" height="1.3" fill="#00D0FF"/><rect x="41.2" y="76.3" width="3.2" height="2.2" fill="#80F040"/><rect x="103.6" y="43.3" width="3.5" height="2.8" fill="#FFD020"/><rect x="60.6" y="50.5" width="2.1" height="2.9" fill="#FFD020"/><rect x="80.8" y="44.9" width="3.5" height="1.5" fill="#80F040"/><rect x="73.4" y="61.8" width="3.3" height="2.5" fill="#00D0FF"/><rect x="42.1" y="57.6" width="3.4" height="2.6" fill="#80F040"/><rect x="85.8" y="19.0" width="1.8" height="1.3" fill="#1830C0"/><rect x="99.5" y="23.7" width="4.0" height="2.9" fill="#FFD020"/><rect x="103.0" y="38.9" width="2.7" height="1.6" fill="#FFD020"/><rect x="49.4" y="43.8" width="1.3" height="1.7" fill="#00D0FF"/><rect x="70.2" y="6.5" width="3.4" height="1.6" fill="#00D0FF"/><rect x="48.5" y="39.3" width="2.7" height="1.6" fill="#1830C0"/><rect x="69.3" y="22.0" width="1.6" height="1.1" fill="#1830C0"/><rect x="41.2" y="67.9" width="1.5" height="1.9" fill="#00D0FF"/><rect x="42.6" y="70.3" width="2.7" height="1.5" fill="#FFD020"/><rect x="71.6" y="45.5" width="1.0" height="2.1" fill="#FFD020"/><rect x="105.8" y="14.2" width="1.9" height="1.5" fill="#00D0FF"/><rect x="76.6" y="14.8" width="2.3" height="2.4" fill="#2050F0"/><rect x="68.4" y="34.8" width="1.1" height="2.3" fill="#1830C0"/><rect x="41.6" y="75.5" width="2.3" height="1.7" fill="#2050F0"/><rect x="48.6" y="66.1" width="1.3" height="2.5" fill="#80F040"/><rect x="84.3" y="36.4" width="1.7" height="1.2" fill="#80F040"/><rect x="39.0" y="24.0" width="2.1" height="1.9" fill="#FFD020"/><rect x="60.4" y="35.6" width="1.1" height="1.5" fill="#1830C0"/><rect x="61.0" y="43.1" width="3.2" height="2.6" fill="#00D0FF"/><rect x="84.6" y="25.7" width="1.5" height="1.7" fill="#FFD020"/><rect x="36.0" y="54.2" width="2.5" height="1.4" fill="#1830C0"/><rect x="97.1" y="80.4" width="3.3" height="2.1" fill="#80F040"/><rect x="97.9" y="16.0" width="3.5" height="2.7" fill="#80F040"/><rect x="89.2" y="34.0" width="1.6" height="2.3" fill="#40E070"/><rect x="97.1" y="55.3" width="2.1" height="2.6" fill="#00D0FF"/><rect x="57.2" y="74.4" width="3.0" height="1.8" fill="#1830C0"/><rect x="90.1" y="15.2" width="2.0" height="1.2" fill="#00D0FF"/><rect x="98.0" y="62.9" width="1.8" height="1.4" fill="#FFD020"/><rect x="84.6" y="34.5" width="3.5" height="2.3" fill="#40E070"/><rect x="72.6" y="32.5" width="2.8" height="1.9" fill="#FFD020"/><rect x="99.1" y="12.3" width="3.2" height="2.0" fill="#2050F0"/><rect x="82.0" y="48.8" width="3.6" height="1.1" fill="#1830C0"/><rect x="74.3" y="77.1" width="1.9" height="1.7" fill="#FFD020"/><rect x="72.8" y="23.4" width="3.8" height="2.6" fill="#80F040"/><rect x="89.8" y="56.1" width="1.8" height="1.5" fill="#FFD020"/><rect x="96.1" y="63.4" width="3.3" height="1.2" fill="#00D0FF"/><rect x="36.8" y="47.6" width="2.5" height="1.1" fill="#80F040"/><rect x="66.3" y="12.2" width="2.2" height="1.8" fill="#00D0FF"/><rect x="60.9" y="73.9" width="2.2" height="1.2" fill="#40E070"/><rect x="41.0" y="23.0" width="3.3" height="1.2" fill="#1830C0"/><rect x="40.8" y="21.5" width="2.6" height="1.6" fill="#FFD020"/><rect x="93.8" y="48.8" width="2.9" height="1.6" fill="#80F040"/><rect x="39.4" y="8.9" width="2.7" height="1.3" fill="#1830C0"/><rect x="51.8" y="65.6" width="1.6" height="1.3" fill="#2050F0"/><rect x="47.8" y="80.2" width="2.4" height="2.8" fill="#00D0FF"/><rect x="50.5" y="65.1" width="2.2" height="1.4" fill="#2050F0"/><rect x="42.2" y="8.4" width="3.2" height="2.3" fill="#40E070"/><rect x="48.8" y="17.5" width="3.1" height="1.1" fill="#80F040"/><rect x="71.0" y="15.1" width="1.7" height="2.3" fill="#00D0FF"/><rect x="64.3" y="56.1" width="3.7" height="1.5" fill="#00D0FF"/><rect x="93.6" y="31.0" width="1.2" height="1.3" fill="#FFD020"/><rect x="79.4" y="38.4" width="3.3" height="1.5" fill="#2050F0"/><rect x="95.9" y="69.2" width="2.7" height="2.8" fill="#FFD020"/><rect x="50.8" y="64.3" width="3.8" height="1.6" fill="#80F040"/><rect x="53.5" y="39.4" width="1.4" height="2.9" fill="#1830C0"/><rect x="79.8" y="50.8" width="1.5" height="2.3" fill="#1830C0"/><rect x="54.7" y="12.9" width="3.4" height="2.8" fill="#80F040"/><rect x="37.9" y="33.5" width="3.5" height="2.1" fill="#FFD020"/><rect x="47.5" y="9.0" width="2.4" height="2.6" fill="#40E070"/><rect x="52.6" y="67.7" width="3.5" height="2.9" fill="#80F040"/><rect x="100.0" y="39.3" width="1.2" height="2.8" fill="#00D0FF"/><rect x="77.5" y="7.9" width="3.8" height="1.6" fill="#2050F0"/><rect x="48.6" y="12.4" width="3.6" height="2.4" fill="#1830C0"/><rect x="105.2" y="52.9" width="3.6" height="2.6" fill="#FFD020"/><rect x="98.8" y="7.0" width="2.0" height="2.7" fill="#00D0FF"/><rect x="50.3" y="61.5" width="2.0" height="2.2" fill="#1830C0"/><rect x="88.3" y="32.9" width="2.2" height="1.2" fill="#1830C0"/><rect x="50.9" y="56.0" width="3.9" height="1.8" fill="#2050F0"/><rect x="79.0" y="77.6" width="2.6" height="2.5" fill="#FFD020"/><rect x="53.3" y="20.5" width="3.2" height="1.8" fill="#FFD020"/><rect x="80.4" y="26.0" width="3.1" height="2.9" fill="#40E070"/><rect x="85.2" y="52.6" width="3.8" height="1.0" fill="#40E070"/><rect x="71.4" y="38.8" width="3.2" height="1.8" fill="#80F040"/><rect x="88.0" y="43.5" width="1.9" height="1.8" fill="#80F040"/><rect x="91.3" y="27.0" width="3.1" height="2.2" fill="#FFD020"/><rect x="58.1" y="11.4" width="3.7" height="1.8" fill="#80F040"/><rect x="54.2" y="39.7" width="1.3" height="1.5" fill="#1830C0"/><rect x="85.8" y="71.4" width="1.5" height="1.2" fill="#80F040"/><rect x="86.1" y="19.7" width="2.3" height="1.0" fill="#1830C0"/><rect x="104.8" y="56.6" width="1.9" height="1.3" fill="#40E070"/><rect x="86.6" y="6.3" width="2.2" height="1.8" fill="#80F040"/><rect x="96.3" y="37.0" width="1.0" height="2.5" fill="#80F040"/><rect x="103.2" y="35.5" width="1.3" height="1.4" fill="#FFD020"/><rect x="83.8" y="53.9" width="1.3" height="2.1" fill="#FFD020"/><rect x="99.7" y="75.6" width="3.2" height="1.7" fill="#2050F0"/><rect x="57.7" y="53.6" width="2.9" height="2.2" fill="#80F040"/><rect x="59.1" y="3.2" width="2.1" height="2.4" fill="#2050F0"/><rect x="97.6" y="77.4" width="1.0" height="1.5" fill="#00D0FF"/><rect x="76.7" y="8.5" width="2.9" height="1.0" fill="#2050F0"/><rect x="57.2" y="76.0" width="3.7" height="1.3" fill="#80F040"/><rect x="53.3" y="37.4" width="2.5" height="1.1" fill="#2050F0"/><rect x="53.3" y="4.5" width="3.1" height="1.6" fill="#1830C0"/><rect x="39.3" y="20.9" width="1.2" height="1.2" fill="#FFD020"/><rect x="96.4" y="22.2" width="1.5" height="2.7" fill="#00D0FF"/><rect x="48.0" y="78.0" width="2.1" height="2.1" fill="#2050F0"/><rect x="99.5" y="17.1" width="1.3" height="2.7" fill="#00D0FF"/><rect x="51.8" y="72.0" width="1.4" height="2.1" fill="#1830C0"/><rect x="68.5" y="25.9" width="1.3" height="1.1" fill="#2050F0"/><rect x="93.5" y="73.9" width="2.7" height="1.5" fill="#FFD020"/><rect x="50.1" y="16.5" width="2.9" height="2.7" fill="#1830C0"/><rect x="72.8" y="58.5" width="3.6" height="1.4" fill="#FFD020"/><rect x="105.2" y="65.6" width="3.3" height="1.2" fill="#40E070"/><rect x="64.0" y="3.8" width="3.4" height="2.9" fill="#2050F0"/><rect x="62.1" y="81.7" width="2.1" height="2.1" fill="#00D0FF"/><rect x="90.5" y="37.9" width="4.0" height="2.7" fill="#00D0FF"/><rect x="85.5" y="18.4" width="3.1" height="2.2" fill="#80F040"/><rect x="51.8" y="38.3" width="3.1" height="2.4" fill="#00D0FF"/><rect x="92.8" y="40.6" width="1.4" height="2.0" fill="#40E070"/><rect x="59.7" y="14.8" width="2.0" height="2.7" fill="#00D0FF"/><rect x="36.2" y="21.6" width="2.1" height="1.5" fill="#1830C0"/><rect x="67.1" y="13.2" width="1.4" height="2.0" fill="#00D0FF"/><rect x="77.7" y="43.7" width="3.1" height="2.8" fill="#80F040"/><rect x="98.9" y="9.4" width="2.2" height="2.7" fill="#1830C0"/><rect x="44.7" y="47.9" width="3.3" height="2.7" fill="#1830C0"/><rect x="37.2" y="37.7" width="3.6" height="1.6" fill="#00D0FF"/><rect x="64.0" y="61.5" width="3.7" height="1.2" fill="#80F040"/><rect x="42.2" y="44.7" width="1.4" height="2.2" fill="#1830C0"/><rect x="67.7" y="24.6" width="2.9" height="2.4" fill="#2050F0"/><rect x="63.6" y="3.8" width="3.5" height="2.1" fill="#00D0FF"/><rect x="82.1" y="23.2" width="3.7" height="1.7" fill="#40E070"/><rect x="87.8" y="16.7" width="3.4" height="2.2" fill="#2050F0"/><rect x="65.2" y="38.0" width="3.9" height="2.9" fill="#80F040"/><rect x="52.8" y="28.9" width="2.5" height="1.5" fill="#00D0FF"/><rect x="37.8" y="49.2" width="2.7" height="2.6" fill="#1830C0"/><rect x="67.2" y="40.3" width="2.8" height="2.4" fill="#2050F0"/><rect x="88.2" y="42.3" width="3.1" height="1.3" fill="#00D0FF"/><rect x="89.0" y="30.7" width="1.1" height="1.9" fill="#80F040"/><rect x="57.9" y="49.9" width="1.1" height="2.1" fill="#40E070"/><rect x="89.3" y="44.8" width="1.9" height="2.7" fill="#80F040"/><rect x="70.2" y="43.6" width="1.9" height="1.7" fill="#00D0FF"/><rect x="99.6" y="77.3" width="3.0" height="1.3" fill="#40E070"/><rect x="69.3" y="47.0" width="1.2" height="1.0" fill="#1830C0"/><rect x="70.3" y="36.6" width="3.0" height="2.7" fill="#80F040"/><rect x="84.9" y="32.8" width="2.1" height="2.4" fill="#1830C0"/><rect x="39.7" y="43.6" width="2.5" height="1.4" fill="#40E070"/><rect x="46.6" y="27.8" width="1.2" height="3.0" fill="#1830C0"/><rect x="72.5" y="34.5" width="2.1" height="1.6" fill="#40E070"/><rect x="36.5" y="4.5" width="2.4" height="1.6" fill="#FFD020"/><rect x="57.5" y="80.3" width="3.8" height="1.3" fill="#FFD020"/><rect x="44.7" y="68.1" width="1.5" height="1.3" fill="#1830C0"/><rect x="91.1" y="53.3" width="3.9" height="2.1" fill="#FFD020"/><rect x="68.2" y="69.3" width="3.9" height="2.0" fill="#40E070"/><rect x="82.8" y="28.1" width="1.9" height="2.3" fill="#00D0FF"/><rect x="84.1" y="45.3" width="3.1" height="1.4" fill="#00D0FF"/><rect x="44.9" y="74.4" width="2.9" height="1.6" fill="#40E070"/><rect x="65.3" y="31.5" width="3.6" height="1.9" fill="#2050F0"/><rect x="97.3" y="36.9" width="2.3" height="2.5" fill="#1830C0"/><rect x="72.8" y="31.2" width="3.8" height="1.7" fill="#FFD020"/><rect x="53.9" y="68.2" width="1.4" height="1.2" fill="#00D0FF"/><rect x="62.2" y="44.9" width="2.8" height="2.4" fill="#00D0FF"/><rect x="36.3" y="69.1" width="3.6" height="1.4" fill="#1830C0"/><rect x="79.8" y="27.0" width="3.2" height="1.8" fill="#1830C0"/><rect x="92.2" y="34.5" width="2.1" height="2.6" fill="#FFD020"/><rect x="88.9" y="77.5" width="1.7" height="1.4" fill="#40E070"/><rect x="45.1" y="64.3" width="3.8" height="1.5" fill="#80F040"/><rect x="56.8" y="65.2" width="2.5" height="1.9" fill="#2050F0"/><rect x="65.4" y="32.9" width="2.4" height="1.5" fill="#80F040"/><rect x="42.3" y="23.5" width="4.0" height="2.5" fill="#2050F0"/><rect x="88.5" y="13.6" width="2.2" height="2.9" fill="#FFD020"/><rect x="105.4" y="67.8" width="3.1" height="2.5" fill="#FFD020"/><rect x="66.0" y="5.6" width="1.9" height="1.0" fill="#00D0FF"/><rect x="80.0" y="31.3" width="3.8" height="2.4" fill="#1830C0"/><rect x="61.1" y="43.8" width="2.8" height="2.9" fill="#2050F0"/><rect x="69.3" y="46.8" width="2.1" height="2.1" fill="#80F040"/><rect x="82.0" y="67.3" width="1.0" height="2.8" fill="#00D0FF"/><rect x="96.7" y="27.8" width="2.8" height="1.3" fill="#00D0FF"/><rect x="55.4" y="22.7" width="3.2" height="1.9" fill="#40E070"/><rect x="71.7" y="67.3" width="1.7" height="2.6" fill="#2050F0"/><rect x="95.0" y="53.6" width="3.4" height="1.6" fill="#40E070"/><rect x="73.1" y="4.8" width="1.3" height="2.5" fill="#FFD020"/><rect x="86.7" y="43.1" width="2.6" height="1.2" fill="#1830C0"/><rect x="39.9" y="57.7" width="2.7" height="2.0" fill="#80F040"/><rect x="81.5" y="30.7" width="1.7" height="2.5" fill="#1830C0"/><rect x="64.0" y="61.8" width="3.4" height="1.8" fill="#40E070"/><rect x="63.0" y="18.8" width="1.0" height="2.4" fill="#2050F0"/><rect x="90.6" y="30.0" width="1.3" height="2.0" fill="#80F040"/><rect x="49.3" y="49.2" width="2.7" height="1.7" fill="#80F040"/><rect x="82.5" y="74.6" width="2.8" height="2.9" fill="#80F040"/><rect x="102.7" y="62.4" width="2.6" height="2.0" fill="#1830C0"/><rect x="99.7" y="4.5" width="2.3" height="2.1" fill="#2050F0"/><rect x="42.9" y="80.5" width="2.1" height="3.0" fill="#1830C0"/><rect x="55.1" y="19.8" width="3.7" height="3.0" fill="#1830C0"/><rect x="69.8" y="62.1" width="3.9" height="2.0" fill="#1830C0"/><rect x="56.2" y="68.3" width="3.9" height="2.1" fill="#2050F0"/><rect x="97.8" y="21.9" width="3.8" height="1.7" fill="#FFD020"/><rect x="80.9" y="58.3" width="1.5" height="2.0" fill="#FFD020"/><rect x="62.1" y="18.6" width="1.5" height="1.0" fill="#80F040"/><rect x="104.5" y="10.1" width="1.2" height="1.4" fill="#FFD020"/><rect x="92.0" y="20.8" width="3.4" height="1.8" fill="#2050F0"/><rect x="38.8" y="57.4" width="3.4" height="2.4" fill="#1830C0"/><rect x="93.2" y="51.5" width="3.6" height="2.1" fill="#2050F0"/><rect x="41.3" y="50.9" width="3.2" height="1.4" fill="#FFD020"/><rect x="43.4" y="73.7" width="1.8" height="2.5" fill="#40E070"/><rect x="38.8" y="20.1" width="2.8" height="1.8" fill="#FFD020"/><rect x="80.9" y="5.4" width="2.3" height="1.5" fill="#40E070"/><rect x="46.1" y="77.3" width="2.1" height="2.7" fill="#80F040"/><rect x="83.1" y="39.0" width="3.2" height="2.6" fill="#FFD020"/><rect x="61.7" y="35.1" width="2.2" height="1.8" fill="#1830C0"/><rect x="102.7" y="70.5" width="2.1" height="1.3" fill="#00D0FF"/><rect x="93.0" y="19.0" width="1.3" height="2.8" fill="#FFD020"/><rect x="45.8" y="41.2" width="4.0" height="2.2" fill="#1830C0"/><rect x="54.8" y="45.0" width="2.9" height="2.9" fill="#00D0FF"/><rect x="79.1" y="68.8" width="1.1" height="1.6" fill="#1830C0"/><rect x="50.1" y="43.2" width="2.4" height="1.4" fill="#80F040"/><rect x="41.5" y="81.8" width="1.9" height="1.7" fill="#80F040"/><rect x="103.8" y="20.2" width="2.1" height="2.9" fill="#2050F0"/><rect x="87.0" y="43.5" width="1.6" height="2.8" fill="#1830C0"/><rect x="66.3" y="10.8" width="3.7" height="3.0" fill="#FFD020"/><rect x="48.6" y="70.0" width="1.5" height="1.1" fill="#00D0FF"/><rect x="57.3" y="14.8" width="2.1" height="1.1" fill="#2050F0"/><rect x="49.2" y="60.0" width="3.8" height="2.2" fill="#1830C0"/><rect x="67.5" y="45.9" width="3.4" height="1.6" fill="#1830C0"/><rect x="38.6" y="56.4" width="1.1" height="2.3" fill="#80F040"/><rect x="64.3" y="72.8" width="1.5" height="2.3" fill="#40E070"/><rect x="61.5" y="9.4" width="3.8" height="1.4" fill="#40E070"/><rect x="77.1" y="33.7" width="3.3" height="2.7" fill="#00D0FF"/><rect x="50.2" y="80.6" width="2.3" height="2.4" fill="#00D0FF"/><rect x="75.7" y="61.4" width="3.1" height="1.5" fill="#FFD020"/><rect x="86.0" y="39.2" width="3.3" height="1.4" fill="#1830C0"/><rect x="48.5" y="18.1" width="2.2" height="1.9" fill="#FFD020"/><rect x="44.1" y="45.1" width="2.4" height="2.4" fill="#40E070"/><rect x="52.1" y="74.9" width="2.4" height="2.0" fill="#2050F0"/><rect x="77.0" y="17.6" width="2.2" height="1.7" fill="#00D0FF"/><rect x="52.4" y="25.8" width="1.9" height="2.1" fill="#00D0FF"/><rect x="72.0" y="45.1" width="3.7" height="1.8" fill="#1830C0"/><rect x="83.8" y="60.9" width="3.2" height="1.8" fill="#40E070"/><rect x="61.2" y="58.5" width="1.5" height="1.1" fill="#00D0FF"/><rect x="40.7" y="64.9" width="3.7" height="2.9" fill="#2050F0"/><rect x="43.9" y="81.0" width="1.6" height="2.3" fill="#00D0FF"/><rect x="49.3" y="20.2" width="1.1" height="1.6" fill="#1830C0"/><rect x="50.7" y="4.7" width="2.2" height="1.1" fill="#FFD020"/><rect x="57.4" y="30.1" width="3.2" height="2.9" fill="#1830C0"/><rect x="54.2" y="56.3" width="2.9" height="1.5" fill="#40E070"/><rect x="102.8" y="31.1" width="2.7" height="2.3" fill="#00D0FF"/><rect x="98.8" y="62.9" width="2.3" height="2.5" fill="#FFD020"/><rect x="61.6" y="74.6" width="1.1" height="1.9" fill="#00D0FF"/><rect x="63.1" y="56.9" width="1.5" height="2.8" fill="#FFD020"/><rect x="89.7" y="71.0" width="1.2" height="2.9" fill="#40E070"/><rect x="89.5" y="81.5" width="1.9" height="1.3" fill="#40E070"/><rect x="57.5" y="17.7" width="2.8" height="1.6" fill="#FFD020"/><rect x="61.2" y="64.1" width="2.1" height="1.7" fill="#80F040"/><rect x="93.0" y="70.3" width="3.1" height="2.7" fill="#00D0FF"/><rect x="91.6" y="40.1" width="2.3" height="2.1" fill="#80F040"/><rect x="56.7" y="72.3" width="3.6" height="2.9" fill="#FFD020"/><rect x="64.9" y="70.0" width="2.8" height="2.3" fill="#80F040"/><rect x="93.5" y="26.1" width="1.7" height="2.1" fill="#40E070"/><rect x="103.3" y="29.7" width="2.9" height="1.8" fill="#00D0FF"/><rect x="97.8" y="63.4" width="2.6" height="1.1" fill="#1830C0"/><rect x="78.9" y="73.2" width="2.6" height="2.0" fill="#00D0FF"/><rect x="91.4" y="70.6" width="2.6" height="1.3" fill="#80F040"/><rect x="73.6" y="48.9" width="3.8" height="2.5" fill="#00D0FF"/><rect x="81.7" y="14.0" width="1.9" height="1.0" fill="#40E070"/><rect x="53.5" y="43.2" width="1.2" height="2.6" fill="#FFD020"/><rect x="105.8" y="30.9" width="3.1" height="1.9" fill="#FFD020"/><rect x="66.1" y="65.6" width="2.4" height="2.5" fill="#40E070"/><rect x="55.0" y="57.6" width="1.6" height="1.2" fill="#40E070"/><rect x="60.9" y="3.2" width="2.3" height="1.4" fill="#40E070"/><rect x="101.2" y="71.9" width="2.1" height="2.1" fill="#40E070"/><rect x="45.4" y="47.3" width="3.8" height="2.4" fill="#2050F0"/><rect x="64.9" y="59.6" width="2.6" height="1.1" fill="#40E070"/><rect x="86.5" y="64.3" width="1.4" height="1.2" fill="#00D0FF"/><rect x="66.4" y="4.9" width="1.1" height="2.6" fill="#FFD020"/><rect x="53.0" y="5.4" width="1.8" height="2.8" fill="#1830C0"/><rect x="88.2" y="80.3" width="3.6" height="2.8" fill="#80F040"/><rect x="99.3" y="50.1" width="3.6" height="1.5" fill="#FFD020"/><rect x="64.4" y="6.9" width="1.5" height="1.8" fill="#2050F0"/><rect x="69.0" y="71.4" width="1.6" height="1.5" fill="#40E070"/><rect x="83.3" y="81.1" width="2.4" height="2.2" fill="#FFD020"/><rect x="84.0" y="47.7" width="3.3" height="2.1" fill="#2050F0"/><rect x="65.9" y="34.2" width="2.4" height="3.0" fill="#1830C0"/><rect x="95.4" y="26.9" width="3.0" height="1.7" fill="#40E070"/><rect x="64.8" y="16.2" width="2.4" height="2.4" fill="#00D0FF"/><rect x="75.5" y="37.6" width="2.1" height="1.9" fill="#2050F0"/><rect x="40.4" y="32.6" width="3.1" height="1.8" fill="#2050F0"/><rect x="73.6" y="15.8" width="2.9" height="1.2" fill="#00D0FF"/><rect x="77.1" y="70.4" width="3.6" height="2.4" fill="#40E070"/><rect x="82.8" y="45.9" width="1.2" height="2.9" fill="#40E070"/><rect x="77.7" y="15.9" width="2.9" height="2.7" fill="#00D0FF"/><rect x="71.7" y="67.1" width="3.8" height="2.4" fill="#2050F0"/><rect x="44.4" y="22.0" width="3.3" height="2.4" fill="#40E070"/><rect x="54.1" y="43.5" width="2.4" height="2.8" fill="#80F040"/><rect x="103.7" y="37.9" width="2.9" height="3.0" fill="#2050F0"/><rect x="48.3" y="13.3" width="1.6" height="1.2" fill="#2050F0"/><rect x="74.0" y="40.6" width="2.1" height="2.0" fill="#80F040"/><rect x="41.0" y="17.0" width="1.1" height="1.4" fill="#80F040"/><rect x="96.8" y="62.2" width="1.5" height="1.8" fill="#2050F0"/><rect x="60.9" y="48.2" width="1.6" height="2.6" fill="#00D0FF"/><rect x="71.0" y="36.8" width="3.5" height="2.4" fill="#40E070"/><rect x="65.7" y="38.1" width="1.3" height="1.8" fill="#00D0FF"/><rect x="97.8" y="75.8" width="3.4" height="1.1" fill="#00D0FF"/><rect x="100.5" y="26.5" width="1.9" height="2.1" fill="#FFD020"/><rect x="83.3" y="24.1" width="2.0" height="1.9" fill="#40E070"/><rect x="67.4" y="10.5" width="2.0" height="2.0" fill="#2050F0"/><rect x="91.1" y="61.7" width="2.2" height="1.0" fill="#80F040"/><rect x="54.4" y="10.9" width="3.3" height="2.8" fill="#00D0FF"/><rect x="98.2" y="25.7" width="1.1" height="1.2" fill="#FFD020"/><rect x="46.9" y="5.2" width="3.7" height="2.6" fill="#40E070"/><rect x="104.7" y="80.6" width="1.1" height="2.2" fill="#FFD020"/><rect x="84.7" y="45.2" width="1.2" height="2.1" fill="#FFD020"/><rect x="43.7" y="69.7" width="2.0" height="2.4" fill="#FFD020"/><rect x="104.4" y="38.3" width="3.6" height="2.4" fill="#00D0FF"/><rect x="68.9" y="17.7" width="1.9" height="2.4" fill="#FFD020"/><rect x="50.3" y="34.3" width="3.0" height="1.2" fill="#FFD020"/><rect x="95.2" y="68.0" width="3.6" height="1.9" fill="#40E070"/><rect x="91.1" y="78.8" width="2.7" height="1.8" fill="#00D0FF"/><rect x="101.5" y="50.1" width="2.1" height="2.2" fill="#40E070"/><rect x="61.6" y="19.8" width="3.0" height="1.0" fill="#00D0FF"/><rect x="103.8" y="43.2" width="1.6" height="3.0" fill="#40E070"/><rect x="103.7" y="3.9" width="2.3" height="2.0" fill="#FFD020"/><rect x="60.9" y="22.1" width="1.9" height="1.8" fill="#40E070"/><rect x="94.7" y="16.3" width="3.4" height="2.2" fill="#FFD020"/><rect x="37.0" y="53.9" width="2.3" height="2.2" fill="#2050F0"/><rect x="86.2" y="77.4" width="2.4" height="2.9" fill="#80F040"/><rect x="75.8" y="47.0" width="3.1" height="1.3" fill="#80F040"/><rect x="46.5" y="45.3" width="2.0" height="1.1" fill="#1830C0"/><rect x="58.8" y="74.4" width="2.1" height="1.4" fill="#80F040"/><rect x="100.2" y="22.7" width="1.1" height="2.2" fill="#40E070"/><rect x="72.9" y="23.7" width="2.1" height="1.0" fill="#2050F0"/><rect x="86.9" y="34.5" width="3.5" height="1.3" fill="#2050F0"/><rect x="71.8" y="19.9" width="3.8" height="1.3" fill="#40E070"/><rect x="66.4" y="67.5" width="2.0" height="1.2" fill="#2050F0"/><rect x="51.8" y="60.0" width="1.7" height="2.6" fill="#1830C0"/><rect x="45.1" y="36.7" width="3.3" height="1.5" fill="#80F040"/><rect x="40.0" y="3.0" width="1.2" height="1.5" fill="#2050F0"/><rect x="104.1" y="47.3" width="1.5" height="3.0" fill="#2050F0"/><rect x="65.0" y="42.2" width="2.1" height="2.1" fill="#2050F0"/><rect x="78.6" y="49.2" width="3.5" height="1.2" fill="#FFD020"/><rect x="36.5" y="68.6" width="3.0" height="1.2" fill="#00D0FF"/><rect x="45.3" y="75.2" width="1.9" height="1.4" fill="#80F040"/><rect x="59.0" y="29.5" width="2.5" height="2.6" fill="#FFD020"/><rect x="53.3" y="12.4" width="2.2" height="2.4" fill="#FFD020"/><rect x="100.5" y="32.2" width="2.9" height="1.1" fill="#40E070"/><rect x="50.7" y="22.1" width="3.6" height="2.5" fill="#FFD020"/><rect x="87.9" y="48.8" width="2.9" height="1.7" fill="#FFD020"/><rect x="44.5" y="38.3" width="3.7" height="2.3" fill="#00D0FF"/><rect x="105.0" y="39.8" width="3.8" height="2.3" fill="#2050F0"/><rect x="89.3" y="14.8" width="3.3" height="2.9" fill="#1830C0"/><rect x="71.5" y="70.0" width="3.5" height="2.6" fill="#00D0FF"/><rect x="62.9" y="66.9" width="2.5" height="2.3" fill="#40E070"/><rect x="93.6" y="69.0" width="1.1" height="1.0" fill="#2050F0"/><rect x="75.9" y="69.5" width="3.5" height="2.7" fill="#80F040"/><rect x="76.5" y="67.2" width="3.6" height="2.0" fill="#FFD020"/><rect x="64.7" y="37.8" width="2.6" height="2.1" fill="#80F040"/><rect x="77.1" y="16.2" width="2.6" height="1.2" fill="#80F040"/><rect x="48.3" y="31.8" width="2.8" height="1.7" fill="#40E070"/><rect x="59.3" y="36.9" width="3.2" height="2.0" fill="#FFD020"/><rect x="45.9" y="55.6" width="3.9" height="2.9" fill="#2050F0"/><rect x="60.6" y="66.2" width="1.6" height="1.6" fill="#40E070"/><rect x="67.7" y="16.3" width="3.5" height="2.0" fill="#40E070"/><rect x="85.7" y="55.3" width="1.4" height="1.8" fill="#FFD020"/><rect x="39.3" y="35.1" width="2.4" height="1.1" fill="#2050F0"/><rect x="58.9" y="7.5" width="1.9" height="1.8" fill="#80F040"/><rect x="73.9" y="73.4" width="1.1" height="1.4" fill="#80F040"/><rect x="86.5" y="25.6" width="3.0" height="1.6" fill="#40E070"/><rect x="40.5" y="29.2" width="1.2" height="2.8" fill="#2050F0"/><rect x="95.2" y="23.3" width="2.2" height="1.6" fill="#00D0FF"/><rect x="94.3" y="77.0" width="1.4" height="1.6" fill="#2050F0"/><rect x="69.7" y="64.1" width="3.1" height="2.4" fill="#1830C0"/><rect x="40.4" y="27.5" width="2.0" height="1.2" fill="#40E070"/><rect x="69.2" y="65.8" width="3.3" height="1.6" fill="#80F040"/><rect x="100.2" y="27.3" width="2.7" height="1.6" fill="#80F040"/><rect x="41.3" y="23.7" width="4.0" height="1.5" fill="#2050F0"/><rect x="89.1" y="65.9" width="2.7" height="2.4" fill="#1830C0"/><rect x="103.1" y="26.5" width="1.4" height="2.8" fill="#1830C0"/><rect x="72.3" y="7.6" width="1.0" height="2.4" fill="#FFD020"/><rect x="100.0" y="64.0" width="2.1" height="2.4" fill="#80F040"/><rect x="65.3" y="51.4" width="2.2" height="1.7" fill="#40E070"/><rect x="43.0" y="72.6" width="2.2" height="2.1" fill="#80F040"/><rect x="81.2" y="21.3" width="1.4" height="2.7" fill="#40E070"/><rect x="70.6" y="68.7" width="2.5" height="2.5" fill="#1830C0"/><rect x="36.1" y="25.2" width="2.6" height="1.9" fill="#40E070"/><rect x="104.6" y="77.3" width="2.3" height="2.8" fill="#40E070"/><rect x="53.8" y="4.7" width="2.8" height="1.5" fill="#FFD020"/><rect x="44.2" y="21.2" width="3.6" height="2.8" fill="#80F040"/><rect x="52.5" y="17.9" width="1.8" height="3.0" fill="#40E070"/><rect x="94.4" y="58.0" width="2.5" height="1.1" fill="#FFD020"/><rect x="91.8" y="33.9" width="2.4" height="2.2" fill="#40E070"/><rect x="88.6" y="49.7" width="2.1" height="2.6" fill="#00D0FF"/><rect x="96.2" y="55.6" width="1.9" height="2.5" fill="#40E070"/><rect x="47.1" y="6.8" width="3.3" height="1.6" fill="#00D0FF"/><rect x="98.5" y="67.6" width="1.7" height="2.9" fill="#1830C0"/><rect x="41.3" y="73.1" width="2.9" height="1.6" fill="#80F040"/><rect x="98.8" y="25.9" width="1.3" height="1.1" fill="#1830C0"/><rect x="37.2" y="73.8" width="1.9" height="1.9" fill="#00D0FF"/><rect x="85.8" y="51.0" width="3.5" height="2.3" fill="#80F040"/><rect x="103.8" y="71.1" width="2.8" height="1.8" fill="#1830C0"/><rect x="79.8" y="48.2" width="3.1" height="2.2" fill="#00D0FF"/><rect x="63.2" y="9.7" width="3.9" height="1.7" fill="#80F040"/><rect x="95.6" y="51.9" width="2.0" height="1.5" fill="#40E070"/><rect x="78.2" y="77.1" width="2.1" height="1.9" fill="#00D0FF"/><rect x="50.0" y="31.6" width="1.3" height="2.1" fill="#80F040"/><rect x="52.7" y="8.2" width="2.1" height="1.9" fill="#80F040"/><rect x="83.6" y="46.1" width="1.1" height="2.1" fill="#1830C0"/><rect x="71.5" y="21.0" width="1.6" height="2.9" fill="#2050F0"/><rect x="62.6" y="44.8" width="1.3" height="1.0" fill="#1830C0"/><rect x="54.2" y="20.0" width="3.2" height="2.7" fill="#2050F0"/><rect x="36.7" y="49.3" width="1.8" height="2.5" fill="#80F040"/><rect x="90.7" y="9.9" width="3.0" height="2.1" fill="#00D0FF"/><rect x="50.4" y="18.0" width="2.7" height="2.6" fill="#FFD020"/><rect x="102.7" y="21.2" width="3.6" height="1.3" fill="#FFD020"/><rect x="93.0" y="5.3" width="1.5" height="1.7" fill="#2050F0"/><rect x="51.4" y="35.5" width="1.6" height="2.7" fill="#FFD020"/><rect x="78.9" y="29.4" width="3.0" height="1.5" fill="#FFD020"/><rect x="41.6" y="72.8" width="2.5" height="2.9" fill="#00D0FF"/><rect x="97.6" y="51.6" width="2.4" height="2.0" fill="#80F040"/><rect x="57.3" y="69.3" width="1.6" height="2.7" fill="#2050F0"/><rect x="66.6" y="14.0" width="3.6" height="1.9" fill="#FFD020"/><rect x="101.0" y="61.3" width="1.9" height="1.5" fill="#40E070"/><rect x="101.6" y="16.4" width="2.0" height="1.0" fill="#40E070"/><rect x="83.2" y="15.1" width="2.2" height="1.3" fill="#00D0FF"/><rect x="36.9" y="43.7" width="1.7" height="2.5" fill="#FFD020"/><rect x="95.4" y="81.8" width="1.1" height="2.7" fill="#00D0FF"/><rect x="90.2" y="57.8" width="1.6" height="2.6" fill="#2050F0"/><rect x="69.8" y="52.2" width="2.9" height="1.7" fill="#FFD020"/><rect x="52.8" y="66.3" width="2.7" height="1.2" fill="#00D0FF"/><rect x="92.9" y="72.5" width="3.9" height="1.7" fill="#00D0FF"/><rect x="37.4" y="46.2" width="1.3" height="1.2" fill="#80F040"/><rect x="94.8" y="54.7" width="3.6" height="2.9" fill="#00D0FF"/><rect x="74.1" y="12.8" width="1.5" height="1.0" fill="#00D0FF"/><rect x="59.1" y="71.3" width="2.0" height="1.8" fill="#80F040"/><rect x="96.2" y="66.5" width="1.2" height="1.7" fill="#FFD020"/><rect x="46.6" y="53.1" width="3.9" height="2.7" fill="#40E070"/><rect x="91.1" y="49.1" width="2.1" height="2.1" fill="#2050F0"/><rect x="101.9" y="75.1" width="2.7" height="2.2" fill="#40E070"/><rect x="87.5" y="37.7" width="1.7" height="2.3" fill="#2050F0"/><rect x="96.8" y="66.0" width="1.5" height="1.6" fill="#00D0FF"/><rect x="81.2" y="31.9" width="3.8" height="1.7" fill="#80F040"/><rect x="95.7" y="48.4" width="3.1" height="2.9" fill="#FFD020"/><rect x="82.9" y="80.0" width="3.2" height="1.9" fill="#2050F0"/><rect x="37.2" y="19.0" width="3.9" height="2.2" fill="#40E070"/><rect x="61.0" y="42.3" width="1.2" height="1.6" fill="#FFD020"/><rect x="59.5" y="15.3" width="1.7" height="2.3" fill="#40E070"/></g><ellipse cx="71" cy="42" rx="34.5" ry="39" fill="none" stroke="#1A2AD0" stroke-width="1.4"/><path d="M44,60 Q38,20 60,10 Q72,4 84,10 Q104,22 98,62" fill="none" stroke="#F02000" stroke-width="2.2"/><path d="M48,50 Q46,22 64,14" fill="none" stroke="#F02000" stroke-width="1.6"/><clipPath id="hfc"><path d="M49,30 Q50,16 74,16 Q99,16 100,32 Q101,62 88,74 Q74,86 60,74 Q48,62 49,30 Z"/></clipPath><path d="M49,30 Q50,16 74,16 Q99,16 100,32 Q101,62 88,74 Q74,86 60,74 Q48,62 49,30 Z" fill="#40D040"/><g clip-path="url(#hfc)"><path d="M63,28 Q72,23 82,27 Q91,32 89,44 Q87,55 82,60 Q75,66 69,60 Q61,51 64,44 Q58,36 63,28 Z" fill="#E01800"/><rect x="56.0" y="62.9" width="2.4" height="1.4" fill="#2050E0"/><rect x="63.1" y="63.8" width="1.0" height="1.4" fill="#00C0E0"/><rect x="63.5" y="59.6" width="1.5" height="1.2" fill="#FFD000"/><rect x="85.3" y="45.4" width="3.5" height="1.3" fill="#40D040"/><rect x="88.2" y="77.2" width="2.0" height="1.5" fill="#2050E0"/><rect x="61.5" y="53.8" width="2.5" height="1.7" fill="#30E080"/><rect x="63.9" y="19.7" width="3.2" height="1.9" fill="#30E080"/><rect x="87.6" y="69.0" width="1.9" height="2.3" fill="#2050E0"/><rect x="50.6" y="30.7" width="1.4" height="1.5" fill="#30E080"/><rect x="65.0" y="38.2" width="3.4" height="1.8" fill="#30E080"/><rect x="90.4" y="54.5" width="2.5" height="2.4" fill="#FF6000"/><rect x="89.4" y="45.4" width="3.2" height="1.8" fill="#2050E0"/><rect x="61.5" y="65.2" width="1.4" height="1.6" fill="#40D040"/><rect x="74.4" y="63.1" width="3.3" height="1.9" fill="#E81000"/><rect x="55.4" y="76.0" width="2.0" height="2.0" fill="#40D040"/><rect x="69.4" y="32.0" width="3.3" height="1.9" fill="#E81000"/><rect x="73.3" y="69.6" width="3.4" height="1.6" fill="#90E020"/><rect x="97.1" y="45.1" width="1.8" height="1.1" fill="#00C0E0"/><rect x="96.2" y="29.6" width="1.1" height="1.0" fill="#90E020"/><rect x="93.5" y="41.5" width="3.0" height="1.4" fill="#00C0E0"/><rect x="64.4" y="58.8" width="3.2" height="1.6" fill="#30E080"/><rect x="69.7" y="69.0" width="3.2" height="1.6" fill="#90E020"/><rect x="91.2" y="74.1" width="2.0" height="1.3" fill="#FFD000"/><rect x="51.6" y="42.4" width="1.3" height="2.0" fill="#00C0E0"/><rect x="63.3" y="67.7" width="2.5" height="1.9" fill="#FFD000"/><rect x="73.7" y="73.0" width="1.4" height="2.0" fill="#2050E0"/><rect x="72.2" y="35.8" width="1.4" height="2.2" fill="#00C0E0"/><rect x="74.6" y="74.4" width="2.6" height="1.3" fill="#30E080"/><rect x="93.0" y="69.7" width="2.8" height="2.0" fill="#00C0E0"/><rect x="77.9" y="23.9" width="1.0" height="1.7" fill="#E81000"/><rect x="89.0" y="80.4" width="2.3" height="2.3" fill="#30E080"/><rect x="75.7" y="52.7" width="3.4" height="2.3" fill="#30E080"/><rect x="53.9" y="69.4" width="2.8" height="1.2" fill="#2050E0"/><rect x="51.2" y="40.0" width="2.6" height="1.5" fill="#40D040"/><rect x="99.9" y="63.5" width="2.6" height="1.3" fill="#2050E0"/><rect x="58.2" y="65.2" width="1.5" height="2.3" fill="#2050E0"/><rect x="64.3" y="22.5" width="2.4" height="1.5" fill="#30E080"/><rect x="77.4" y="53.2" width="3.5" height="1.1" fill="#FFD000"/><rect x="92.2" y="80.9" width="3.1" height="2.3" fill="#00C0E0"/><rect x="48.6" y="17.7" width="3.2" height="1.6" fill="#FFD000"/><rect x="59.1" y="33.2" width="2.4" height="2.4" fill="#2050E0"/><rect x="81.5" y="15.3" width="2.4" height="2.2" fill="#FFD000"/><rect x="69.5" y="53.4" width="2.7" height="1.3" fill="#C80000"/><rect x="77.4" y="35.9" width="3.3" height="2.0" fill="#FF6000"/><rect x="82.2" y="17.3" width="2.9" height="2.1" fill="#40D040"/><rect x="59.3" y="16.2" width="3.1" height="1.9" fill="#30E080"/><rect x="73.9" y="39.4" width="2.6" height="2.4" fill="#FF6000"/><rect x="97.1" y="43.2" width="1.9" height="1.6" fill="#40D040"/><rect x="89.6" y="39.4" width="2.2" height="2.3" fill="#C80000"/><rect x="92.6" y="70.8" width="1.7" height="2.4" fill="#40D040"/><rect x="64.8" y="61.9" width="3.1" height="2.3" fill="#90E020"/><rect x="100.6" y="54.2" width="2.3" height="1.2" fill="#FFD000"/><rect x="60.2" y="61.9" width="3.1" height="1.3" fill="#2050E0"/><rect x="58.1" y="82.4" width="1.3" height="1.1" fill="#2050E0"/><rect x="76.0" y="28.1" width="2.1" height="2.4" fill="#90E020"/><rect x="65.4" y="35.2" width="1.1" height="1.3" fill="#C80000"/><rect x="65.7" y="57.8" width="3.0" height="1.0" fill="#FF6000"/><rect x="78.7" y="59.6" width="1.4" height="1.1" fill="#2050E0"/><rect x="68.9" y="82.0" width="3.3" height="2.2" fill="#40D040"/><rect x="72.4" y="76.4" width="1.2" height="2.0" fill="#40D040"/><rect x="66.1" y="16.3" width="2.2" height="1.5" fill="#40D040"/><rect x="81.6" y="50.6" width="2.2" height="1.8" fill="#2050E0"/><rect x="89.3" y="65.0" width="2.3" height="2.0" fill="#90E020"/><rect x="78.0" y="34.8" width="1.3" height="1.8" fill="#FF3000"/><rect x="95.0" y="68.8" width="1.5" height="1.1" fill="#FFD000"/><rect x="94.1" y="60.9" width="2.6" height="2.4" fill="#2050E0"/><rect x="61.5" y="38.3" width="2.1" height="1.9" fill="#C80000"/><rect x="85.4" y="70.0" width="2.9" height="1.4" fill="#90E020"/><rect x="80.6" y="30.9" width="3.1" height="1.0" fill="#FF3000"/><rect x="90.1" y="42.4" width="1.9" height="1.4" fill="#90E020"/><rect x="98.9" y="74.3" width="2.8" height="2.4" fill="#FFD000"/><rect x="96.2" y="60.4" width="2.7" height="1.5" fill="#00C0E0"/><rect x="89.1" y="28.2" width="3.1" height="1.2" fill="#90E020"/><rect x="71.6" y="72.9" width="1.9" height="1.4" fill="#00C0E0"/><rect x="83.1" y="26.2" width="2.7" height="1.5" fill="#2050E0"/><rect x="65.1" y="72.5" width="1.5" height="2.1" fill="#40D040"/><rect x="66.2" y="35.8" width="1.9" height="2.4" fill="#2050E0"/><rect x="69.4" y="79.3" width="2.3" height="2.3" fill="#2050E0"/><rect x="92.6" y="74.3" width="1.4" height="1.1" fill="#00C0E0"/><rect x="59.6" y="51.9" width="2.0" height="2.5" fill="#2050E0"/><rect x="86.4" y="32.2" width="2.1" height="1.5" fill="#FF3000"/><rect x="95.5" y="46.5" width="1.1" height="1.6" fill="#30E080"/><rect x="64.4" y="81.6" width="3.1" height="1.9" fill="#2050E0"/><rect x="52.9" y="18.3" width="1.8" height="1.8" fill="#FFD000"/><rect x="49.4" y="64.0" width="3.0" height="1.4" fill="#40D040"/><rect x="94.0" y="21.5" width="2.6" height="1.7" fill="#40D040"/><rect x="55.9" y="61.4" width="1.0" height="1.0" fill="#FFD000"/><rect x="73.7" y="63.8" width="1.8" height="1.8" fill="#FFD000"/><rect x="65.8" y="64.4" width="2.1" height="1.9" fill="#90E020"/><rect x="58.2" y="76.3" width="2.1" height="1.9" fill="#90E020"/><rect x="97.7" y="38.3" width="2.7" height="1.8" fill="#40D040"/><rect x="95.6" y="84.2" width="3.0" height="1.3" fill="#30E080"/><rect x="53.4" y="71.7" width="3.3" height="1.2" fill="#40D040"/><rect x="95.3" y="76.0" width="2.6" height="2.4" fill="#40D040"/><rect x="97.9" y="51.3" width="3.1" height="2.4" fill="#90E020"/><rect x="67.6" y="79.1" width="2.1" height="2.4" fill="#FFD000"/><rect x="67.2" y="57.4" width="2.9" height="1.2" fill="#30E080"/><rect x="54.8" y="24.3" width="2.3" height="1.3" fill="#FFD000"/><rect x="64.7" y="59.4" width="3.4" height="1.1" fill="#FF3000"/><rect x="55.7" y="22.4" width="2.8" height="1.6" fill="#40D040"/><rect x="55.2" y="50.6" width="2.3" height="1.4" fill="#30E080"/><rect x="97.9" y="32.6" width="3.1" height="1.0" fill="#90E020"/><rect x="60.4" y="41.5" width="2.4" height="1.8" fill="#00C0E0"/><rect x="86.3" y="22.5" width="2.1" height="1.0" fill="#30E080"/><rect x="67.9" y="47.4" width="3.5" height="1.9" fill="#FFD000"/><rect x="51.8" y="64.2" width="2.6" height="1.3" fill="#90E020"/><rect x="98.2" y="83.9" width="3.3" height="1.7" fill="#90E020"/><rect x="64.7" y="59.7" width="1.3" height="1.0" fill="#40D040"/><rect x="92.9" y="40.7" width="1.9" height="2.3" fill="#30E080"/><rect x="50.2" y="50.2" width="1.5" height="2.2" fill="#30E080"/><rect x="74.3" y="77.6" width="2.2" height="1.1" fill="#FFD000"/><rect x="65.7" y="35.1" width="1.9" height="2.3" fill="#C80000"/><rect x="77.9" y="28.9" width="1.4" height="2.0" fill="#30E080"/><rect x="63.1" y="76.2" width="2.1" height="1.4" fill="#00C0E0"/><rect x="62.2" y="71.6" width="1.3" height="1.7" fill="#2050E0"/><rect x="61.8" y="48.3" width="1.8" height="1.5" fill="#00C0E0"/><rect x="70.9" y="41.4" width="2.7" height="1.7" fill="#00C0E0"/><rect x="99.1" y="59.3" width="1.6" height="2.1" fill="#40D040"/><rect x="83.0" y="84.5" width="1.8" height="1.5" fill="#90E020"/><rect x="54.5" y="26.5" width="1.3" height="1.8" fill="#FFD000"/><rect x="50.2" y="50.4" width="2.1" height="1.3" fill="#00C0E0"/><rect x="64.4" y="31.8" width="2.0" height="2.4" fill="#C80000"/><rect x="99.2" y="31.7" width="1.8" height="1.5" fill="#FFD000"/><rect x="56.7" y="80.1" width="3.4" height="2.1" fill="#30E080"/><rect x="78.1" y="66.9" width="2.1" height="2.0" fill="#90E020"/><rect x="85.5" y="70.8" width="2.5" height="1.5" fill="#00C0E0"/><rect x="60.4" y="26.6" width="1.0" height="1.4" fill="#90E020"/><rect x="96.1" y="71.7" width="3.4" height="1.1" fill="#2050E0"/><rect x="98.9" y="19.9" width="1.0" height="2.4" fill="#FFD000"/><rect x="58.2" y="71.5" width="2.2" height="1.8" fill="#30E080"/><rect x="50.6" y="46.1" width="1.7" height="2.0" fill="#FFD000"/><rect x="73.4" y="25.0" width="1.1" height="2.3" fill="#40D040"/><rect x="98.5" y="18.4" width="3.2" height="1.6" fill="#90E020"/><rect x="85.1" y="32.9" width="1.4" height="1.8" fill="#30E080"/><rect x="77.0" y="36.3" width="2.2" height="1.4" fill="#40D040"/><rect x="73.0" y="28.6" width="1.9" height="1.4" fill="#FFD000"/><rect x="100.4" y="38.2" width="3.4" height="1.2" fill="#30E080"/><rect x="79.0" y="32.1" width="1.8" height="2.0" fill="#FF6000"/><rect x="79.2" y="22.3" width="1.4" height="1.2" fill="#40D040"/><rect x="74.1" y="75.6" width="1.6" height="1.4" fill="#40D040"/><rect x="56.6" y="82.2" width="1.8" height="1.3" fill="#30E080"/><rect x="87.1" y="24.8" width="2.5" height="2.1" fill="#30E080"/><rect x="48.4" y="64.3" width="2.9" height="1.5" fill="#FFD000"/><rect x="88.5" y="65.3" width="3.1" height="1.7" fill="#00C0E0"/><rect x="60.9" y="83.1" width="2.6" height="1.5" fill="#30E080"/><rect x="55.1" y="16.7" width="1.6" height="2.1" fill="#90E020"/><rect x="79.7" y="71.5" width="3.2" height="1.6" fill="#40D040"/><rect x="78.0" y="63.0" width="2.5" height="1.8" fill="#2050E0"/><rect x="89.3" y="17.5" width="2.2" height="1.6" fill="#30E080"/><rect x="77.4" y="84.1" width="1.4" height="1.1" fill="#00C0E0"/><rect x="72.6" y="26.4" width="1.9" height="1.5" fill="#90E020"/><rect x="77.9" y="73.2" width="1.9" height="1.7" fill="#00C0E0"/><rect x="100.8" y="55.5" width="3.3" height="1.6" fill="#90E020"/><rect x="100.8" y="64.2" width="3.3" height="2.1" fill="#30E080"/><rect x="93.0" y="27.9" width="3.4" height="2.0" fill="#30E080"/><rect x="63.0" y="75.6" width="1.1" height="1.6" fill="#90E020"/><rect x="63.5" y="49.9" width="2.6" height="2.2" fill="#E81000"/><rect x="69.4" y="31.9" width="1.3" height="1.1" fill="#2050E0"/><rect x="74.7" y="27.1" width="2.2" height="2.2" fill="#30E080"/><rect x="51.4" y="54.6" width="1.4" height="2.2" fill="#2050E0"/><rect x="89.6" y="32.2" width="1.9" height="1.7" fill="#90E020"/><rect x="72.0" y="55.7" width="1.1" height="1.7" fill="#FF6000"/><rect x="50.6" y="30.4" width="3.1" height="1.6" fill="#00C0E0"/><rect x="97.4" y="37.4" width="1.1" height="2.1" fill="#30E080"/><rect x="61.0" y="71.9" width="1.7" height="1.2" fill="#40D040"/><rect x="83.5" y="45.2" width="1.9" height="1.6" fill="#90E020"/><rect x="60.8" y="65.0" width="2.7" height="1.2" fill="#90E020"/><rect x="87.8" y="25.9" width="1.3" height="2.1" fill="#40D040"/><rect x="85.6" y="52.7" width="1.0" height="1.1" fill="#30E080"/><rect x="62.4" y="46.6" width="1.8" height="2.3" fill="#C80000"/><rect x="97.3" y="53.2" width="1.6" height="1.1" fill="#2050E0"/><rect x="67.1" y="35.5" width="2.4" height="1.6" fill="#00C0E0"/><rect x="92.5" y="60.6" width="3.3" height="1.2" fill="#00C0E0"/><rect x="94.8" y="32.9" width="2.4" height="1.0" fill="#2050E0"/><rect x="58.7" y="30.5" width="1.5" height="1.5" fill="#00C0E0"/><rect x="68.0" y="42.5" width="1.8" height="1.1" fill="#2050E0"/><rect x="77.1" y="39.0" width="3.5" height="2.3" fill="#FF3000"/><rect x="88.5" y="59.0" width="2.5" height="1.2" fill="#90E020"/><rect x="83.8" y="42.8" width="1.6" height="1.4" fill="#C80000"/><rect x="55.4" y="63.3" width="3.4" height="1.8" fill="#90E020"/><rect x="84.5" y="66.7" width="2.4" height="1.3" fill="#00C0E0"/><rect x="48.2" y="68.1" width="1.9" height="1.5" fill="#30E080"/><rect x="84.6" y="83.8" width="1.1" height="2.3" fill="#2050E0"/><rect x="94.2" y="50.0" width="3.3" height="2.3" fill="#40D040"/><rect x="63.7" y="44.0" width="2.1" height="1.8" fill="#FF6000"/><rect x="65.4" y="53.9" width="2.1" height="1.1" fill="#FF3000"/><rect x="80.7" y="56.4" width="2.3" height="1.4" fill="#30E080"/><rect x="69.3" y="28.6" width="2.8" height="1.4" fill="#90E020"/><rect x="86.6" y="27.7" width="1.5" height="2.4" fill="#FF3000"/><rect x="56.0" y="28.9" width="1.3" height="2.0" fill="#30E080"/><rect x="52.4" y="37.4" width="3.0" height="1.2" fill="#40D040"/><rect x="82.1" y="46.4" width="3.0" height="1.4" fill="#FF3000"/><rect x="55.7" y="71.1" width="1.0" height="1.8" fill="#00C0E0"/><rect x="50.8" y="69.1" width="2.5" height="1.4" fill="#00C0E0"/><rect x="64.4" y="15.0" width="2.3" height="1.7" fill="#2050E0"/><rect x="79.0" y="38.5" width="1.1" height="1.9" fill="#C80000"/><rect x="99.7" y="33.7" width="2.2" height="1.5" fill="#90E020"/><rect x="78.5" y="60.3" width="3.1" height="1.3" fill="#90E020"/><rect x="52.0" y="47.1" width="2.8" height="2.3" fill="#00C0E0"/><rect x="58.2" y="15.9" width="3.4" height="1.3" fill="#40D040"/><rect x="92.4" y="24.8" width="1.8" height="1.6" fill="#30E080"/><rect x="57.7" y="42.7" width="1.3" height="1.1" fill="#90E020"/><rect x="51.4" y="16.3" width="3.1" height="1.9" fill="#00C0E0"/><rect x="81.8" y="46.3" width="1.2" height="1.4" fill="#40D040"/><rect x="90.2" y="77.9" width="1.7" height="1.5" fill="#FFD000"/><rect x="93.2" y="69.6" width="3.2" height="2.4" fill="#30E080"/><rect x="73.9" y="45.6" width="3.4" height="2.2" fill="#30E080"/><rect x="71.3" y="76.1" width="1.0" height="1.5" fill="#2050E0"/><rect x="69.3" y="78.2" width="2.8" height="1.3" fill="#FFD000"/><rect x="55.6" y="21.4" width="1.0" height="2.1" fill="#2050E0"/><rect x="52.0" y="75.3" width="1.4" height="1.9" fill="#FFD000"/><rect x="73.3" y="17.0" width="1.7" height="1.9" fill="#40D040"/><rect x="59.0" y="27.0" width="2.4" height="2.1" fill="#FFD000"/><rect x="96.7" y="78.1" width="2.0" height="1.9" fill="#FFD000"/><rect x="76.5" y="61.9" width="2.1" height="1.6" fill="#C80000"/><rect x="80.0" y="83.6" width="2.0" height="2.4" fill="#FFD000"/><rect x="60.0" y="44.3" width="3.0" height="2.3" fill="#30E080"/><rect x="73.9" y="32.4" width="2.4" height="1.5" fill="#FF3000"/><rect x="68.1" y="39.7" width="1.5" height="1.4" fill="#FF6000"/><rect x="88.0" y="69.0" width="1.9" height="1.8" fill="#FFD000"/><rect x="94.2" y="44.7" width="2.3" height="1.3" fill="#30E080"/><rect x="89.6" y="52.5" width="1.4" height="2.0" fill="#30E080"/><rect x="81.2" y="25.8" width="2.0" height="1.3" fill="#40D040"/><rect x="77.0" y="42.2" width="3.4" height="2.0" fill="#C80000"/><rect x="99.2" y="66.5" width="2.2" height="1.6" fill="#00C0E0"/><rect x="84.3" y="82.7" width="2.7" height="1.2" fill="#FFD000"/><rect x="62.8" y="69.1" width="3.2" height="1.0" fill="#30E080"/><rect x="77.0" y="65.0" width="2.0" height="1.9" fill="#2050E0"/><rect x="72.8" y="82.2" width="2.2" height="1.1" fill="#40D040"/><rect x="58.1" y="30.2" width="2.2" height="1.4" fill="#00C0E0"/><rect x="66.3" y="43.6" width="2.3" height="1.6" fill="#FFD000"/><rect x="89.9" y="44.5" width="2.6" height="1.0" fill="#E81000"/><rect x="54.4" y="46.8" width="1.5" height="1.3" fill="#90E020"/><rect x="69.3" y="48.7" width="2.2" height="1.4" fill="#E81000"/><rect x="72.3" y="18.6" width="3.0" height="1.8" fill="#40D040"/><rect x="81.6" y="32.1" width="1.3" height="1.2" fill="#90E020"/><rect x="73.9" y="39.8" width="3.0" height="2.1" fill="#FF3000"/><rect x="86.4" y="18.4" width="1.0" height="1.4" fill="#30E080"/><rect x="75.3" y="59.7" width="2.3" height="1.5" fill="#E81000"/><rect x="59.9" y="33.4" width="2.7" height="2.1" fill="#FFD000"/><rect x="84.8" y="42.0" width="2.5" height="1.3" fill="#90E020"/><rect x="57.7" y="60.1" width="1.4" height="1.8" fill="#2050E0"/><rect x="79.0" y="59.3" width="3.1" height="2.2" fill="#40D040"/><rect x="71.1" y="46.8" width="1.7" height="2.4" fill="#E81000"/><rect x="51.4" y="26.8" width="2.4" height="1.3" fill="#30E080"/><rect x="55.6" y="57.8" width="1.1" height="1.6" fill="#2050E0"/><rect x="82.9" y="63.9" width="3.4" height="1.5" fill="#30E080"/><rect x="90.6" y="75.6" width="2.5" height="2.2" fill="#FFD000"/><rect x="52.8" y="53.4" width="2.4" height="1.2" fill="#30E080"/><rect x="84.8" y="61.8" width="3.2" height="1.3" fill="#40D040"/><rect x="91.0" y="61.3" width="3.3" height="1.7" fill="#00C0E0"/><rect x="73.5" y="71.5" width="2.5" height="2.4" fill="#2050E0"/><rect x="86.1" y="20.1" width="1.7" height="1.5" fill="#40D040"/><rect x="89.3" y="60.7" width="3.2" height="1.3" fill="#00C0E0"/><rect x="92.0" y="60.0" width="1.0" height="2.1" fill="#00C0E0"/><rect x="92.8" y="46.2" width="2.7" height="2.5" fill="#FFD000"/><rect x="95.8" y="64.8" width="1.9" height="1.5" fill="#2050E0"/><rect x="57.4" y="22.4" width="1.3" height="1.7" fill="#30E080"/><rect x="94.3" y="71.1" width="2.3" height="1.2" fill="#FFD000"/><rect x="83.9" y="84.5" width="1.1" height="1.5" fill="#30E080"/><rect x="97.1" y="42.6" width="2.4" height="1.2" fill="#FFD000"/><rect x="50.6" y="63.3" width="1.6" height="2.3" fill="#00C0E0"/><rect x="66.4" y="48.7" width="3.5" height="2.1" fill="#E81000"/><rect x="77.2" y="25.8" width="1.5" height="1.1" fill="#40D040"/><rect x="58.0" y="84.9" width="1.4" height="1.2" fill="#00C0E0"/><rect x="50.6" y="80.4" width="1.3" height="2.0" fill="#FFD000"/><rect x="80.9" y="38.8" width="2.2" height="1.3" fill="#E81000"/><rect x="86.3" y="21.1" width="2.5" height="2.3" fill="#40D040"/><rect x="100.6" y="57.5" width="2.4" height="1.5" fill="#FFD000"/><rect x="100.5" y="32.8" width="2.2" height="2.4" fill="#FFD000"/><rect x="51.0" y="50.1" width="2.9" height="1.7" fill="#FFD000"/><rect x="57.2" y="20.9" width="3.5" height="1.9" fill="#2050E0"/><rect x="92.9" y="71.3" width="1.3" height="1.4" fill="#00C0E0"/><rect x="71.4" y="61.5" width="2.3" height="1.3" fill="#FF3000"/><rect x="94.4" y="16.6" width="1.8" height="1.2" fill="#FFD000"/><rect x="98.0" y="76.1" width="2.2" height="2.2" fill="#FFD000"/><rect x="99.4" y="25.6" width="3.3" height="2.1" fill="#00C0E0"/><rect x="69.0" y="71.6" width="2.6" height="1.3" fill="#2050E0"/><rect x="55.1" y="56.3" width="2.2" height="1.3" fill="#FFD000"/><rect x="63.3" y="58.9" width="2.8" height="2.1" fill="#2050E0"/><rect x="91.5" y="50.3" width="1.9" height="1.2" fill="#40D040"/><rect x="92.5" y="46.7" width="2.7" height="2.2" fill="#C80000"/><rect x="87.0" y="19.4" width="1.7" height="1.8" fill="#00C0E0"/><rect x="100.8" y="39.0" width="2.6" height="1.1" fill="#30E080"/><rect x="88.9" y="27.3" width="3.1" height="2.1" fill="#00C0E0"/><rect x="94.7" y="43.5" width="2.9" height="2.0" fill="#FFD000"/><rect x="49.7" y="84.0" width="1.2" height="1.4" fill="#40D040"/><rect x="97.7" y="71.5" width="2.7" height="1.9" fill="#FFD000"/><rect x="88.8" y="33.1" width="3.3" height="2.3" fill="#FF6000"/><rect x="88.2" y="42.7" width="3.5" height="2.3" fill="#FF3000"/><rect x="82.9" y="57.7" width="1.9" height="1.5" fill="#30E080"/><rect x="74.3" y="80.6" width="2.3" height="2.0" fill="#40D040"/><rect x="63.6" y="30.6" width="1.6" height="2.3" fill="#FF6000"/><rect x="80.6" y="39.4" width="1.6" height="2.4" fill="#FFD000"/><rect x="79.8" y="74.8" width="1.3" height="2.5" fill="#00C0E0"/><rect x="66.4" y="66.9" width="1.1" height="1.4" fill="#30E080"/><rect x="99.3" y="50.7" width="2.4" height="2.2" fill="#30E080"/><rect x="84.6" y="21.7" width="1.4" height="2.3" fill="#90E020"/><rect x="69.8" y="20.8" width="2.4" height="1.0" fill="#FFD000"/><rect x="65.4" y="52.4" width="3.2" height="1.1" fill="#2050E0"/><rect x="59.0" y="30.9" width="2.0" height="1.9" fill="#90E020"/><rect x="58.6" y="48.2" width="2.0" height="1.2" fill="#FFD000"/><rect x="79.5" y="35.7" width="3.0" height="1.4" fill="#30E080"/><rect x="51.6" y="22.5" width="2.6" height="2.2" fill="#90E020"/><rect x="81.8" y="41.7" width="1.5" height="1.5" fill="#90E020"/><rect x="49.5" y="51.4" width="2.8" height="2.1" fill="#30E080"/><rect x="94.7" y="18.9" width="1.5" height="1.7" fill="#40D040"/><rect x="92.8" y="80.7" width="2.9" height="2.1" fill="#FFD000"/><rect x="70.8" y="31.1" width="2.6" height="2.2" fill="#FF3000"/><rect x="68.5" y="48.1" width="2.9" height="1.1" fill="#C80000"/><rect x="88.1" y="34.8" width="2.9" height="1.3" fill="#FFD000"/><rect x="74.8" y="30.6" width="2.2" height="1.8" fill="#FFD000"/><rect x="67.7" y="69.7" width="2.9" height="1.6" fill="#90E020"/><rect x="65.8" y="75.7" width="1.6" height="2.0" fill="#40D040"/><rect x="63.9" y="71.4" width="2.4" height="1.0" fill="#2050E0"/><rect x="48.4" y="26.6" width="1.3" height="1.6" fill="#40D040"/><rect x="97.7" y="24.2" width="1.9" height="1.9" fill="#00C0E0"/><rect x="99.3" y="81.6" width="1.2" height="1.4" fill="#FFD000"/><rect x="65.9" y="42.6" width="3.3" height="1.6" fill="#30E080"/><rect x="92.7" y="69.5" width="3.0" height="2.4" fill="#FFD000"/><rect x="65.5" y="84.7" width="2.5" height="1.5" fill="#30E080"/><rect x="73.7" y="54.6" width="2.8" height="1.5" fill="#FF6000"/><rect x="78.5" y="62.2" width="2.4" height="1.8" fill="#E81000"/><rect x="63.5" y="53.0" width="1.9" height="2.4" fill="#00C0E0"/><rect x="63.5" y="76.7" width="1.9" height="2.3" fill="#00C0E0"/><rect x="96.8" y="80.4" width="2.1" height="2.0" fill="#2050E0"/><rect x="62.8" y="34.1" width="1.4" height="1.2" fill="#FF3000"/><rect x="76.9" y="72.4" width="3.1" height="2.3" fill="#40D040"/><rect x="72.0" y="82.8" width="3.4" height="1.3" fill="#30E080"/><rect x="52.2" y="36.2" width="2.1" height="1.6" fill="#00C0E0"/><rect x="88.1" y="34.3" width="2.3" height="1.0" fill="#E81000"/><rect x="88.5" y="46.9" width="3.2" height="1.4" fill="#FF6000"/><rect x="100.3" y="26.7" width="1.9" height="1.4" fill="#40D040"/><rect x="77.4" y="58.1" width="3.4" height="1.5" fill="#FF3000"/><rect x="63.6" y="79.9" width="3.4" height="2.2" fill="#2050E0"/><rect x="60.4" y="19.8" width="1.7" height="1.8" fill="#00C0E0"/><rect x="98.1" y="43.1" width="2.7" height="1.5" fill="#00C0E0"/><rect x="62.0" y="48.1" width="1.3" height="2.0" fill="#C80000"/><rect x="97.3" y="82.3" width="2.7" height="2.4" fill="#FFD000"/><rect x="81.0" y="34.8" width="3.0" height="2.2" fill="#2050E0"/><rect x="68.2" y="80.3" width="1.2" height="1.1" fill="#40D040"/><rect x="55.5" y="29.1" width="2.4" height="1.2" fill="#90E020"/><rect x="83.3" y="76.8" width="2.0" height="1.3" fill="#30E080"/><rect x="77.5" y="60.1" width="2.5" height="1.6" fill="#E81000"/><rect x="75.0" y="32.0" width="3.1" height="1.0" fill="#FF3000"/><rect x="74.7" y="34.6" width="1.9" height="2.1" fill="#FF6000"/><rect x="74.4" y="41.6" width="1.4" height="1.6" fill="#E81000"/><rect x="83.7" y="19.9" width="3.0" height="2.2" fill="#FFD000"/><rect x="76.4" y="33.3" width="1.1" height="2.3" fill="#FFD000"/><rect x="85.0" y="24.6" width="2.6" height="1.9" fill="#90E020"/><rect x="72.5" y="70.0" width="1.8" height="1.0" fill="#90E020"/><rect x="88.2" y="75.6" width="1.6" height="2.3" fill="#2050E0"/><rect x="98.5" y="71.6" width="2.1" height="1.1" fill="#40D040"/><rect x="48.2" y="67.5" width="2.1" height="1.5" fill="#40D040"/><rect x="77.8" y="41.6" width="1.2" height="2.1" fill="#E81000"/><rect x="65.2" y="45.0" width="3.5" height="1.8" fill="#E81000"/><rect x="52.3" y="43.0" width="3.3" height="2.3" fill="#90E020"/><rect x="66.0" y="33.7" width="1.7" height="2.4" fill="#40D040"/><rect x="90.0" y="71.9" width="1.4" height="1.2" fill="#90E020"/><rect x="90.0" y="35.8" width="1.7" height="2.3" fill="#FFD000"/><rect x="69.4" y="49.8" width="2.5" height="1.0" fill="#30E080"/><rect x="96.3" y="46.0" width="1.5" height="1.7" fill="#90E020"/><rect x="67.0" y="54.1" width="2.8" height="1.5" fill="#C80000"/><rect x="77.1" y="55.5" width="2.4" height="2.4" fill="#C80000"/><rect x="69.2" y="71.5" width="3.4" height="2.4" fill="#40D040"/><rect x="60.9" y="46.4" width="2.8" height="2.2" fill="#40D040"/><rect x="69.6" y="27.6" width="1.5" height="2.2" fill="#30E080"/><rect x="89.1" y="83.6" width="3.3" height="1.4" fill="#2050E0"/><rect x="55.2" y="60.3" width="1.5" height="2.2" fill="#00C0E0"/><rect x="81.3" y="77.5" width="2.2" height="1.4" fill="#30E080"/><rect x="82.0" y="76.6" width="2.6" height="2.0" fill="#FFD000"/><rect x="62.0" y="82.9" width="2.0" height="2.0" fill="#40D040"/><rect x="59.1" y="45.0" width="1.8" height="2.5" fill="#FF3000"/><rect x="64.1" y="22.5" width="2.8" height="2.3" fill="#00C0E0"/><rect x="77.8" y="39.0" width="1.8" height="1.5" fill="#2050E0"/><rect x="59.2" y="41.8" width="2.5" height="2.0" fill="#C80000"/><rect x="91.0" y="52.3" width="1.6" height="1.0" fill="#FF3000"/><rect x="77.7" y="65.8" width="1.9" height="2.4" fill="#40D040"/><rect x="84.5" y="50.3" width="2.3" height="1.0" fill="#40D040"/><rect x="72.3" y="29.2" width="1.0" height="1.4" fill="#FF6000"/><rect x="100.4" y="77.1" width="2.6" height="1.6" fill="#90E020"/><rect x="99.7" y="48.7" width="1.1" height="1.8" fill="#30E080"/><rect x="98.6" y="20.3" width="1.7" height="2.4" fill="#40D040"/><rect x="57.4" y="39.7" width="1.6" height="1.9" fill="#30E080"/><rect x="94.5" y="19.9" width="2.2" height="1.4" fill="#FFD000"/><rect x="87.0" y="56.7" width="2.0" height="1.0" fill="#90E020"/><rect x="49.8" y="79.6" width="2.5" height="1.4" fill="#FFD000"/><rect x="92.8" y="34.2" width="1.0" height="1.3" fill="#30E080"/><rect x="77.9" y="37.6" width="2.7" height="1.2" fill="#FF3000"/><rect x="84.5" y="73.3" width="1.0" height="1.8" fill="#FFD000"/><rect x="86.5" y="54.3" width="2.2" height="2.3" fill="#FF6000"/><rect x="67.9" y="21.6" width="3.5" height="1.4" fill="#2050E0"/><rect x="81.7" y="26.6" width="3.2" height="1.2" fill="#30E080"/><rect x="82.2" y="17.4" width="2.1" height="1.2" fill="#FFD000"/><rect x="84.3" y="82.0" width="2.5" height="1.8" fill="#00C0E0"/><rect x="81.1" y="83.4" width="1.4" height="2.1" fill="#90E020"/><rect x="74.4" y="31.1" width="2.1" height="1.1" fill="#2050E0"/><rect x="55.5" y="67.1" width="1.4" height="1.7" fill="#2050E0"/><rect x="50.2" y="31.5" width="3.4" height="1.0" fill="#2050E0"/><rect x="89.6" y="79.9" width="1.2" height="1.8" fill="#00C0E0"/><rect x="81.3" y="18.1" width="1.7" height="1.3" fill="#2050E0"/><rect x="92.6" y="80.5" width="2.0" height="1.7" fill="#90E020"/><rect x="91.4" y="44.7" width="2.1" height="1.5" fill="#2050E0"/><rect x="53.9" y="26.9" width="2.6" height="1.2" fill="#2050E0"/><rect x="57.9" y="59.1" width="2.4" height="2.1" fill="#30E080"/><rect x="70.0" y="28.3" width="2.6" height="1.7" fill="#C80000"/><rect x="83.1" y="50.4" width="2.4" height="2.2" fill="#FF6000"/><rect x="50.3" y="56.0" width="1.0" height="1.0" fill="#00C0E0"/><rect x="94.4" y="34.7" width="2.3" height="1.5" fill="#40D040"/><rect x="68.6" y="65.5" width="1.4" height="1.5" fill="#2050E0"/><rect x="89.6" y="28.6" width="2.5" height="1.8" fill="#00C0E0"/><rect x="82.1" y="54.6" width="2.1" height="1.8" fill="#40D040"/><rect x="87.8" y="56.9" width="2.4" height="1.5" fill="#FFD000"/><rect x="88.2" y="70.0" width="2.7" height="1.4" fill="#40D040"/><rect x="77.5" y="74.0" width="3.1" height="2.0" fill="#2050E0"/><rect x="82.7" y="48.5" width="1.7" height="1.3" fill="#2050E0"/><rect x="82.2" y="67.0" width="2.7" height="1.2" fill="#FFD000"/><rect x="60.6" y="53.8" width="1.3" height="1.4" fill="#00C0E0"/><rect x="89.4" y="77.1" width="2.8" height="1.7" fill="#00C0E0"/><rect x="64.8" y="37.6" width="2.4" height="1.6" fill="#FF6000"/><rect x="81.6" y="16.8" width="3.4" height="1.9" fill="#90E020"/><rect x="83.8" y="28.8" width="1.3" height="1.5" fill="#FFD000"/><rect x="60.5" y="55.3" width="3.3" height="1.7" fill="#00C0E0"/><rect x="90.8" y="65.9" width="1.5" height="1.4" fill="#30E080"/><rect x="68.7" y="19.7" width="2.1" height="2.0" fill="#30E080"/><rect x="57.6" y="84.3" width="1.8" height="1.9" fill="#00C0E0"/><rect x="57.5" y="23.3" width="2.2" height="2.1" fill="#90E020"/><rect x="53.0" y="68.8" width="1.7" height="2.1" fill="#90E020"/><rect x="91.0" y="39.3" width="1.3" height="1.9" fill="#C80000"/><rect x="89.5" y="23.8" width="2.4" height="2.4" fill="#FFD000"/><rect x="85.6" y="54.2" width="2.0" height="1.3" fill="#FF3000"/><rect x="72.6" y="29.6" width="3.2" height="1.9" fill="#FF6000"/><rect x="82.4" y="51.6" width="2.5" height="1.0" fill="#FF6000"/><rect x="62.7" y="40.4" width="3.0" height="2.2" fill="#C80000"/><rect x="97.6" y="58.1" width="1.9" height="2.2" fill="#40D040"/><rect x="75.5" y="18.4" width="2.1" height="2.4" fill="#00C0E0"/><rect x="100.1" y="81.0" width="2.5" height="2.4" fill="#40D040"/><rect x="53.4" y="17.1" width="1.3" height="1.1" fill="#00C0E0"/><rect x="55.8" y="56.3" width="3.5" height="1.7" fill="#FFD000"/><rect x="51.5" y="44.5" width="3.4" height="2.4" fill="#90E020"/><rect x="68.4" y="17.8" width="2.5" height="1.9" fill="#30E080"/><rect x="61.8" y="37.0" width="3.0" height="1.8" fill="#FF3000"/><rect x="73.3" y="72.8" width="1.9" height="1.9" fill="#00C0E0"/><rect x="50.8" y="81.2" width="3.0" height="1.0" fill="#FFD000"/><rect x="97.8" y="60.8" width="1.3" height="2.3" fill="#00C0E0"/><rect x="79.6" y="33.7" width="1.7" height="2.4" fill="#30E080"/><rect x="52.0" y="38.9" width="3.5" height="2.2" fill="#90E020"/><rect x="94.0" y="56.3" width="1.6" height="2.2" fill="#90E020"/><rect x="85.6" y="42.1" width="2.0" height="1.7" fill="#30E080"/><rect x="83.9" y="36.5" width="3.2" height="1.3" fill="#30E080"/><rect x="52.6" y="51.7" width="1.5" height="2.5" fill="#00C0E0"/><rect x="90.4" y="71.0" width="1.7" height="2.1" fill="#2050E0"/><rect x="75.9" y="56.8" width="1.7" height="2.2" fill="#E81000"/><rect x="99.2" y="44.3" width="1.7" height="2.0" fill="#FFD000"/><rect x="48.4" y="81.7" width="2.1" height="2.3" fill="#40D040"/><rect x="50.8" y="15.0" width="2.7" height="2.4" fill="#30E080"/><rect x="63.0" y="27.7" width="3.3" height="1.6" fill="#FFD000"/><rect x="72.3" y="18.5" width="3.4" height="2.2" fill="#90E020"/><rect x="63.6" y="15.6" width="3.2" height="1.7" fill="#2050E0"/><rect x="48.3" y="39.5" width="1.5" height="2.4" fill="#30E080"/><rect x="65.6" y="38.0" width="1.2" height="2.2" fill="#30E080"/><rect x="91.7" y="79.8" width="1.8" height="1.4" fill="#FFD000"/><rect x="92.2" y="26.2" width="3.3" height="1.0" fill="#00C0E0"/><rect x="97.5" y="20.7" width="3.3" height="1.6" fill="#00C0E0"/><rect x="58.4" y="17.9" width="2.3" height="1.9" fill="#00C0E0"/><rect x="97.2" y="39.3" width="2.7" height="1.2" fill="#90E020"/><rect x="81.8" y="80.4" width="1.1" height="1.1" fill="#40D040"/><rect x="60.5" y="52.0" width="1.2" height="1.1" fill="#C80000"/><rect x="79.4" y="52.3" width="1.5" height="1.3" fill="#C80000"/><rect x="54.3" y="26.0" width="2.9" height="2.5" fill="#2050E0"/><rect x="65.6" y="68.1" width="1.7" height="1.3" fill="#FFD000"/><rect x="66.8" y="53.8" width="1.7" height="1.8" fill="#E81000"/><rect x="84.0" y="52.7" width="1.3" height="2.2" fill="#FF6000"/><rect x="72.1" y="40.8" width="2.0" height="1.7" fill="#C80000"/><rect x="71.8" y="58.9" width="1.3" height="1.9" fill="#30E080"/><rect x="54.7" y="39.7" width="3.5" height="2.4" fill="#40D040"/><rect x="98.6" y="47.4" width="1.6" height="1.7" fill="#30E080"/><rect x="95.0" y="72.4" width="3.3" height="1.7" fill="#90E020"/><rect x="64.4" y="47.1" width="1.3" height="2.2" fill="#FF3000"/><rect x="84.0" y="50.1" width="1.2" height="1.5" fill="#40D040"/><rect x="97.1" y="44.5" width="1.9" height="2.3" fill="#00C0E0"/><rect x="72.8" y="20.2" width="2.9" height="1.8" fill="#00C0E0"/><rect x="58.1" y="80.4" width="2.9" height="1.4" fill="#00C0E0"/><rect x="60.0" y="22.9" width="2.3" height="1.4" fill="#FFD000"/><rect x="59.1" y="48.7" width="2.5" height="1.4" fill="#2050E0"/><rect x="54.9" y="17.4" width="2.5" height="1.9" fill="#2050E0"/><rect x="58.3" y="30.6" width="1.3" height="1.7" fill="#30E080"/><rect x="53.2" y="21.1" width="3.3" height="2.0" fill="#90E020"/><rect x="72.6" y="32.5" width="1.7" height="1.0" fill="#FF6000"/><rect x="72.0" y="51.8" width="2.4" height="1.7" fill="#30E080"/><rect x="81.2" y="40.4" width="2.9" height="1.4" fill="#00C0E0"/><rect x="56.6" y="50.7" width="1.4" height="1.8" fill="#00C0E0"/><rect x="100.0" y="52.7" width="1.5" height="1.8" fill="#FFD000"/><rect x="80.1" y="18.3" width="2.7" height="2.1" fill="#40D040"/><rect x="49.0" y="78.6" width="2.4" height="1.9" fill="#00C0E0"/><rect x="75.5" y="32.8" width="2.5" height="1.3" fill="#C80000"/><rect x="68.9" y="74.9" width="1.5" height="1.0" fill="#40D040"/><rect x="99.6" y="26.6" width="1.6" height="1.7" fill="#00C0E0"/><rect x="89.0" y="51.7" width="2.6" height="2.0" fill="#C80000"/><rect x="50.7" y="41.3" width="2.4" height="1.0" fill="#FFD000"/></g><path d="M58,72 Q74,90 90,72" fill="none" stroke="#2030D0" stroke-width="3"/><rect x="0" y="94.3" width="143" height="1" fill="#444"/><rect x="73" y="0" width="1" height="8" fill="#222"/></svg>

<svg class="a" width="1199" height="676"><rect x="945" y="143" width="213" height="84" fill="#fff" stroke="#D0D0D0" stroke-width="0.8"/><line x1="955.9" y1="143" x2="955.9" y2="227" stroke="#E2ECFA" stroke-width="0.7"/><line x1="966.5" y1="143" x2="966.5" y2="227" stroke="#E2ECFA" stroke-width="0.7"/><line x1="977.2" y1="143" x2="977.2" y2="227" stroke="#E2ECFA" stroke-width="0.7"/><line x1="987.8" y1="143" x2="987.8" y2="227" stroke="#E2ECFA" stroke-width="0.7"/><line x1="998.5" y1="143" x2="998.5" y2="227" stroke="#E2ECFA" stroke-width="0.7"/><line x1="1009.1" y1="143" x2="1009.1" y2="227" stroke="#E2ECFA" stroke-width="0.7"/><line x1="1019.8" y1="143" x2="1019.8" y2="227" stroke="#E2ECFA" stroke-width="0.7"/><line x1="1030.4" y1="143" x2="1030.4" y2="227" stroke="#E2ECFA" stroke-width="0.7"/><line x1="1041.0" y1="143" x2="1041.0" y2="227" stroke="#E2ECFA" stroke-width="0.7"/><line x1="1051.7" y1="143" x2="1051.7" y2="227" stroke="#E2ECFA" stroke-width="0.7"/><line x1="1062.4" y1="143" x2="1062.4" y2="227" stroke="#E2ECFA" stroke-width="0.7"/><line x1="1073.0" y1="143" x2="1073.0" y2="227" stroke="#E2ECFA" stroke-width="0.7"/><line x1="1083.7" y1="143" x2="1083.7" y2="227" stroke="#E2ECFA" stroke-width="0.7"/><line x1="1094.3" y1="143" x2="1094.3" y2="227" stroke="#E2ECFA" stroke-width="0.7"/><line x1="1105.0" y1="143" x2="1105.0" y2="227" stroke="#E2ECFA" stroke-width="0.7"/><line x1="1115.6" y1="143" x2="1115.6" y2="227" stroke="#E2ECFA" stroke-width="0.7"/><line x1="1126.2" y1="143" x2="1126.2" y2="227" stroke="#E2ECFA" stroke-width="0.7"/><line x1="1136.9" y1="143" x2="1136.9" y2="227" stroke="#E2ECFA" stroke-width="0.7"/><line x1="1147.5" y1="143" x2="1147.5" y2="227" stroke="#E2ECFA" stroke-width="0.7"/><line x1="945" y1="159.8" x2="1158" y2="159.8" stroke="#DCE8FA" stroke-width="0.8"/><line x1="945" y1="176.6" x2="1158" y2="176.6" stroke="#DCE8FA" stroke-width="0.8"/><line x1="945" y1="193.4" x2="1158" y2="193.4" stroke="#DCE8FA" stroke-width="0.8"/><line x1="945" y1="210.2" x2="1158" y2="210.2" stroke="#DCE8FA" stroke-width="0.8"/><line x1="988" y1="143" x2="988" y2="227" stroke="#C8C8F0" stroke-width="0.7" stroke-dasharray="1.5,1.5"/><line x1="1030.6" y1="143" x2="1030.6" y2="227" stroke="#C8C8F0" stroke-width="0.7" stroke-dasharray="1.5,1.5"/><line x1="1073.2" y1="143" x2="1073.2" y2="227" stroke="#C8C8F0" stroke-width="0.7" stroke-dasharray="1.5,1.5"/><line x1="1115.8" y1="143" x2="1115.8" y2="227" stroke="#C8C8F0" stroke-width="0.7" stroke-dasharray="1.5,1.5"/><rect x="984.0" y="226.5" width="1.3" height="0.5" fill="#A8D0A6"/><rect x="986.1" y="226.1" width="1.3" height="0.9" fill="#A8D0A6"/><rect x="988.2" y="225.7" width="1.3" height="1.3" fill="#A8D0A6"/><rect x="990.3" y="225.3" width="1.3" height="1.7" fill="#A8D0A6"/><rect x="992.4" y="225.2" width="1.3" height="1.8" fill="#A8D0A6"/><rect x="994.5" y="224.6" width="1.3" height="2.4" fill="#A8D0A6"/><rect x="996.6" y="223.1" width="1.3" height="3.9" fill="#A8D0A6"/><rect x="998.7" y="223.1" width="1.3" height="3.9" fill="#A8D0A6"/><rect x="1000.8" y="221.9" width="1.3" height="5.1" fill="#A8D0A6"/><rect x="1002.9" y="220.3" width="1.3" height="6.7" fill="#A8D0A6"/><rect x="1005.0" y="218.9" width="1.3" height="8.1" fill="#A8D0A6"/><rect x="1007.1" y="214.6" width="1.3" height="12.4" fill="#A8D0A6"/><rect x="1009.2" y="213.9" width="1.3" height="13.1" fill="#A8D0A6"/><rect x="1011.3" y="211.2" width="1.3" height="15.8" fill="#A8D0A6"/><rect x="1013.4" y="207.9" width="1.3" height="19.1" fill="#A8D0A6"/><rect x="1015.5" y="205.3" width="1.3" height="21.7" fill="#A8D0A6"/><rect x="1017.6" y="201.3" width="1.3" height="25.7" fill="#A8D0A6"/><rect x="1019.7" y="197.7" width="1.3" height="29.3" fill="#A8D0A6"/><rect x="1021.8" y="192.4" width="1.3" height="34.6" fill="#A8D0A6"/><rect x="1023.9" y="185.3" width="1.3" height="41.7" fill="#A8D0A6"/><rect x="1026.0" y="177.4" width="1.3" height="49.6" fill="#A8D0A6"/><rect x="1028.1" y="179.7" width="1.3" height="47.3" fill="#A8D0A6"/><rect x="1030.2" y="169.7" width="1.3" height="57.3" fill="#A8D0A6"/><rect x="1032.3" y="166.0" width="1.3" height="61.0" fill="#A8D0A6"/><rect x="1034.4" y="159.2" width="1.3" height="67.8" fill="#A8D0A6"/><rect x="1036.5" y="166.8" width="1.3" height="60.2" fill="#A8D0A6"/><rect x="1038.6" y="164.6" width="1.3" height="62.4" fill="#A8D0A6"/><rect x="1040.7" y="164.8" width="1.3" height="62.2" fill="#A8D0A6"/><rect x="1042.8" y="157.0" width="1.3" height="70.0" fill="#A8D0A6"/><rect x="1044.9" y="149.0" width="1.3" height="78.0" fill="#A8D0A6"/><rect x="1047.0" y="144.0" width="1.3" height="83.0" fill="#A8D0A6"/><rect x="1049.1" y="151.7" width="1.3" height="75.3" fill="#A8D0A6"/><rect x="1051.2" y="149.7" width="1.3" height="77.3" fill="#A8D0A6"/><rect x="1053.3" y="150.0" width="1.3" height="77.0" fill="#A8D0A6"/><rect x="1055.4" y="164.9" width="1.3" height="62.1" fill="#A8D0A6"/><rect x="1057.5" y="162.8" width="1.3" height="64.2" fill="#A8D0A6"/><rect x="1059.6" y="161.3" width="1.3" height="65.7" fill="#A8D0A6"/><rect x="1061.7" y="175.6" width="1.3" height="51.4" fill="#A8D0A6"/><rect x="1063.8" y="182.8" width="1.3" height="44.2" fill="#A8D0A6"/><rect x="1065.9" y="180.3" width="1.3" height="46.7" fill="#A8D0A6"/><rect x="1068.0" y="189.2" width="1.3" height="37.8" fill="#A8D0A6"/><rect x="1070.1" y="190.7" width="1.3" height="36.3" fill="#A8D0A6"/><rect x="1072.2" y="191.9" width="1.3" height="35.1" fill="#A8D0A6"/><rect x="1074.3" y="199.1" width="1.3" height="27.9" fill="#A8D0A6"/><rect x="1076.4" y="206.8" width="1.3" height="20.2" fill="#A8D0A6"/><rect x="1078.5" y="208.1" width="1.3" height="18.9" fill="#A8D0A6"/><rect x="1080.6" y="209.2" width="1.3" height="17.8" fill="#A8D0A6"/><rect x="1082.7" y="213.6" width="1.3" height="13.4" fill="#A8D0A6"/><rect x="1084.8" y="215.9" width="1.3" height="11.1" fill="#A8D0A6"/><rect x="1086.9" y="216.6" width="1.3" height="10.4" fill="#A8D0A6"/><rect x="1089.0" y="220.3" width="1.3" height="6.7" fill="#A8D0A6"/><rect x="1091.1" y="220.9" width="1.3" height="6.1" fill="#A8D0A6"/><rect x="1093.2" y="222.0" width="1.3" height="5.0" fill="#A8D0A6"/><rect x="1095.3" y="223.2" width="1.3" height="3.8" fill="#A8D0A6"/><rect x="1097.4" y="224.2" width="1.3" height="2.8" fill="#A8D0A6"/><rect x="1099.5" y="224.7" width="1.3" height="2.3" fill="#A8D0A6"/><line x1="945" y1="227" x2="1158" y2="227" stroke="#8FBF8F" stroke-width="1"/><path d="M940.0,224.9 L941.0,224.9 L942.0,224.8 L943.0,224.8 L944.0,224.7 L945.0,224.6 L946.0,224.5 L947.0,224.4 L948.0,224.3 L949.0,224.1 L950.0,223.9 L951.0,223.7 L952.0,223.4 L953.0,223.0 L954.0,222.6 L955.0,222.1 L956.0,221.5 L957.0,220.9 L958.0,220.1 L959.0,219.2 L960.0,218.2 L961.0,217.0 L962.0,215.8 L963.0,214.3 L964.0,212.7 L965.0,210.9 L966.0,209.0 L967.0,206.8 L968.0,204.5 L969.0,202.0 L970.0,199.4 L971.0,196.5 L972.0,193.5 L973.0,190.4 L974.0,187.2 L975.0,183.9 L976.0,180.5 L977.0,177.1 L978.0,173.7 L979.0,170.3 L980.0,167.0 L981.0,163.8 L982.0,160.7 L983.0,157.9 L984.0,155.3 L985.0,152.9 L986.0,150.9 L987.0,149.2 L988.0,147.8 L989.0,146.8 L990.0,146.2 L991.0,146.0 L992.0,146.2 L993.0,146.8 L994.0,147.8 L995.0,149.2 L996.0,150.9 L997.0,152.9 L998.0,155.3 L999.0,157.9 L1000.0,160.7 L1001.0,163.8 L1002.0,167.0 L1003.0,170.3 L1004.0,173.7 L1005.0,177.1 L1006.0,180.5 L1007.0,183.9 L1008.0,187.2 L1009.0,190.4 L1010.0,193.5 L1011.0,196.5 L1012.0,199.4 L1013.0,202.0 L1014.0,204.5 L1015.0,206.8 L1016.0,209.0 L1017.0,210.9 L1018.0,212.7 L1019.0,214.3 L1020.0,215.8 L1021.0,217.0 L1022.0,218.2 L1023.0,219.2 L1024.0,220.1 L1025.0,220.9 L1026.0,221.5 L1027.0,222.1 L1028.0,222.6 L1029.0,223.0 L1030.0,223.4 L1031.0,223.7 L1032.0,223.9 L1033.0,224.1 L1034.0,224.3 L1035.0,224.4 L1036.0,224.5 L1037.0,224.6 L1038.0,224.7 L1039.0,224.8 L1040.0,224.8 L1041.0,224.9 L1042.0,224.9 L1043.0,224.9 L1044.0,224.9 L1045.0,225.0 L1046.0,225.0 L1047.0,225.0 L1048.0,225.0 L1049.0,225.0 L1050.0,225.0 L1051.0,225.0 L1052.0,225.0 L1053.0,225.0 L1054.0,225.0 L1055.0,225.0 L1056.0,225.0 L1057.0,225.0 L1058.0,225.0 L1059.0,225.0 L1060.0,225.0 L1061.0,225.0 L1062.0,225.0 L1063.0,225.0 L1064.0,225.0 L1065.0,225.0 L1066.0,225.0 L1067.0,225.0 L1068.0,225.0 L1069.0,225.0 L1070.0,225.0 L1071.0,225.0 L1072.0,225.0 L1073.0,225.0 L1074.0,225.0 L1075.0,225.0" fill="none" stroke="#FF0000" stroke-width="2" stroke-dasharray="5,3,1.5,3"/><path d="M1030.0,223.5 L1031.0,223.2 L1032.0,222.9 L1033.0,222.5 L1034.0,222.0 L1035.0,221.5 L1036.0,220.9 L1037.0,220.3 L1038.0,219.5 L1039.0,218.7 L1040.0,217.8 L1041.0,216.7 L1042.0,215.6 L1043.0,214.3 L1044.0,212.9 L1045.0,211.4 L1046.0,209.7 L1047.0,207.9 L1048.0,206.0 L1049.0,203.9 L1050.0,201.7 L1051.0,199.4 L1052.0,196.9 L1053.0,194.3 L1054.0,191.6 L1055.0,188.8 L1056.0,186.0 L1057.0,183.0 L1058.0,180.1 L1059.0,177.1 L1060.0,174.1 L1061.0,171.1 L1062.0,168.2 L1063.0,165.4 L1064.0,162.6 L1065.0,160.0 L1066.0,157.6 L1067.0,155.3 L1068.0,153.2 L1069.0,151.4 L1070.0,149.8 L1071.0,148.4 L1072.0,147.4 L1073.0,146.6 L1074.0,146.2 L1075.0,146.0 L1076.0,146.2 L1077.0,146.6 L1078.0,147.4 L1079.0,148.4 L1080.0,149.8 L1081.0,151.4 L1082.0,153.2 L1083.0,155.3 L1084.0,157.6 L1085.0,160.0 L1086.0,162.6 L1087.0,165.4 L1088.0,168.2 L1089.0,171.1 L1090.0,174.1 L1091.0,177.1 L1092.0,180.1 L1093.0,183.0 L1094.0,186.0 L1095.0,188.8 L1096.0,191.6 L1097.0,194.3 L1098.0,196.9 L1099.0,199.4 L1100.0,201.7 L1101.0,203.9 L1102.0,206.0 L1103.0,207.9 L1104.0,209.7 L1105.0,211.4 L1106.0,212.9 L1107.0,214.3 L1108.0,215.6 L1109.0,216.7 L1110.0,217.8 L1111.0,218.7 L1112.0,219.5 L1113.0,220.3 L1114.0,220.9 L1115.0,221.5 L1116.0,222.0 L1117.0,222.5 L1118.0,222.9 L1119.0,223.2 L1120.0,223.5 L1121.0,223.7 L1122.0,223.9 L1123.0,224.1 L1124.0,224.3 L1125.0,224.4 L1126.0,224.5 L1127.0,224.6 L1128.0,224.7 L1129.0,224.7 L1130.0,224.8 L1131.0,224.8 L1132.0,224.9 L1133.0,224.9 L1134.0,224.9 L1135.0,224.9 L1136.0,224.9 L1137.0,225.0 L1138.0,225.0 L1139.0,225.0 L1140.0,225.0 L1141.0,225.0 L1142.0,225.0 L1143.0,225.0 L1144.0,225.0 L1145.0,225.0 L1146.0,225.0 L1147.0,225.0 L1148.0,225.0 L1149.0,225.0 L1150.0,225.0 L1151.0,225.0 L1152.0,225.0 L1153.0,225.0 L1154.0,225.0 L1155.0,225.0 L1156.0,225.0 L1157.0,225.0 L1158.0,225.0" fill="none" stroke="#FF0000" stroke-width="2" stroke-dasharray="5,3,1.5,3"/><line x1="990.9" y1="143" x2="990.9" y2="231.5" stroke="#FF0000" stroke-width="3.6" stroke-dasharray="9,2.5,2.5,2.5"/><line x1="1031.4" y1="143" x2="1031.4" y2="231.5" stroke="#FF0000" stroke-width="3.6" stroke-dasharray="9,2.5,2.5,2.5"/><line x1="1073.8" y1="143" x2="1073.8" y2="231.5" stroke="#FF0000" stroke-width="3.6" stroke-dasharray="9,2.5,2.5,2.5"/><g fill="#70B070"><rect x="1116" y="151" width="17" height="0.8"/><rect x="1116" y="155" width="11" height="0.8"/><rect x="1116" y="159" width="11" height="0.8"/><rect x="1116" y="162" width="11" height="0.8"/></g><rect x="958" y="190" width="2" height="1" fill="#4040ff"/><g fill="#888"><rect x="945" y="144" width="6" height="1"/><rect x="1150" y="227.5" width="7" height="1.5"/><rect x="987" y="230" width="2" height="1.5"/><rect x="1030" y="230" width="2" height="1.5"/><rect x="1115" y="230" width="2" height="1.5"/></g><rect x="947" y="254" width="217" height="92" fill="#fff"/><line x1="961.3" y1="257" x2="961.3" y2="342" stroke="#E8ECFB" stroke-width="0.8"/><line x1="971.9" y1="257" x2="971.9" y2="342" stroke="#E8ECFB" stroke-width="0.8"/><line x1="982.5" y1="257" x2="982.5" y2="342" stroke="#E8ECFB" stroke-width="0.8"/><line x1="993.1" y1="257" x2="993.1" y2="342" stroke="#E8ECFB" stroke-width="0.8"/><line x1="1003.7" y1="257" x2="1003.7" y2="342" stroke="#E8ECFB" stroke-width="0.8"/><line x1="1014.3" y1="257" x2="1014.3" y2="342" stroke="#E8ECFB" stroke-width="0.8"/><line x1="1024.9" y1="257" x2="1024.9" y2="342" stroke="#E8ECFB" stroke-width="0.8"/><line x1="1035.5" y1="257" x2="1035.5" y2="342" stroke="#E8ECFB" stroke-width="0.8"/><line x1="1046.1" y1="257" x2="1046.1" y2="342" stroke="#E8ECFB" stroke-width="0.8"/><line x1="1056.7" y1="257" x2="1056.7" y2="342" stroke="#E8ECFB" stroke-width="0.8"/><line x1="1067.3" y1="257" x2="1067.3" y2="342" stroke="#E8ECFB" stroke-width="0.8"/><line x1="1077.9" y1="257" x2="1077.9" y2="342" stroke="#E8ECFB" stroke-width="0.8"/><line x1="1088.5" y1="257" x2="1088.5" y2="342" stroke="#E8ECFB" stroke-width="0.8"/><line x1="1099.1" y1="257" x2="1099.1" y2="342" stroke="#E8ECFB" stroke-width="0.8"/><line x1="1109.7" y1="257" x2="1109.7" y2="342" stroke="#E8ECFB" stroke-width="0.8"/><line x1="1120.3" y1="257" x2="1120.3" y2="342" stroke="#E8ECFB" stroke-width="0.8"/><line x1="1130.9" y1="257" x2="1130.9" y2="342" stroke="#E8ECFB" stroke-width="0.8"/><line x1="1141.5" y1="257" x2="1141.5" y2="342" stroke="#E8ECFB" stroke-width="0.8"/><line x1="1152.1" y1="257" x2="1152.1" y2="342" stroke="#E8ECFB" stroke-width="0.8"/><line x1="950.7" y1="337.7" x2="1162" y2="337.7" stroke="#EDF0FC" stroke-width="0.7"/><line x1="950.7" y1="333.3" x2="1162" y2="333.3" stroke="#EDF0FC" stroke-width="0.7"/><line x1="950.7" y1="329.0" x2="1162" y2="329.0" stroke="#EDF0FC" stroke-width="0.7"/><line x1="950.7" y1="324.7" x2="1162" y2="324.7" stroke="#EDF0FC" stroke-width="0.7"/><line x1="950.7" y1="320.4" x2="1162" y2="320.4" stroke="#EDF0FC" stroke-width="0.7"/><line x1="950.7" y1="316.0" x2="1162" y2="316.0" stroke="#EDF0FC" stroke-width="0.7"/><line x1="950.7" y1="311.7" x2="1162" y2="311.7" stroke="#EDF0FC" stroke-width="0.7"/><line x1="950.7" y1="307.4" x2="1162" y2="307.4" stroke="#EDF0FC" stroke-width="0.7"/><line x1="950.7" y1="303.0" x2="1162" y2="303.0" stroke="#EDF0FC" stroke-width="0.7"/><line x1="950.7" y1="298.7" x2="1162" y2="298.7" stroke="#EDF0FC" stroke-width="0.7"/><line x1="950.7" y1="294.4" x2="1162" y2="294.4" stroke="#EDF0FC" stroke-width="0.7"/><line x1="950.7" y1="290.0" x2="1162" y2="290.0" stroke="#EDF0FC" stroke-width="0.7"/><line x1="950.7" y1="285.7" x2="1162" y2="285.7" stroke="#EDF0FC" stroke-width="0.7"/><line x1="950.7" y1="281.4" x2="1162" y2="281.4" stroke="#EDF0FC" stroke-width="0.7"/><line x1="950.7" y1="277.1" x2="1162" y2="277.1" stroke="#EDF0FC" stroke-width="0.7"/><line x1="950.7" y1="272.7" x2="1162" y2="272.7" stroke="#EDF0FC" stroke-width="0.7"/><line x1="950.7" y1="268.4" x2="1162" y2="268.4" stroke="#EDF0FC" stroke-width="0.7"/><line x1="950.7" y1="264.1" x2="1162" y2="264.1" stroke="#EDF0FC" stroke-width="0.7"/><line x1="950.7" y1="259.7" x2="1162" y2="259.7" stroke="#EDF0FC" stroke-width="0.7"/><line x1="993.2" y1="257" x2="993.2" y2="342" stroke="#BCBCF2" stroke-width="0.7" stroke-dasharray="2,2"/><line x1="1035.5" y1="257" x2="1035.5" y2="342" stroke="#BCBCF2" stroke-width="0.7" stroke-dasharray="2,2"/><line x1="1077.5" y1="257" x2="1077.5" y2="342" stroke="#BCBCF2" stroke-width="0.7" stroke-dasharray="2,2"/><line x1="1119.8" y1="257" x2="1119.8" y2="342" stroke="#BCBCF2" stroke-width="0.7" stroke-dasharray="2,2"/><line x1="950.7" y1="273" x2="1162" y2="273" stroke="#BCBCF2" stroke-width="0.7" stroke-dasharray="2,2"/><line x1="950.7" y1="290" x2="1162" y2="290" stroke="#BCBCF2" stroke-width="0.7" stroke-dasharray="2,2"/><line x1="950.7" y1="307.3" x2="1162" y2="307.3" stroke="#BCBCF2" stroke-width="0.7" stroke-dasharray="2,2"/><line x1="950.7" y1="324.6" x2="1162" y2="324.6" stroke="#BCBCF2" stroke-width="0.7" stroke-dasharray="2,2"/><path d="M950.7,256.5 L950.7,342 L1163,342" fill="none" stroke="#999" stroke-width="0.9"/><g fill="#777"><rect x="946" y="272.5" width="3" height="1"/><rect x="946" y="289.5" width="3" height="1"/><rect x="946" y="306.8" width="3" height="1"/><rect x="946" y="324" width="3" height="1"/><rect x="947" y="256.5" width="8" height="1.2"/><rect x="1147" y="339" width="14" height="1.3"/></g><path d="M1000,292 Q1006,297 1012,299" stroke="#9FE8E0" stroke-width="2" fill="none"/><line x1="1027" y1="309.3" x2="1003" y2="291" stroke="#FF1010" stroke-width="3.2" stroke-dasharray="5,2.5"/><polygon points="993.2,282.2 1004.2,285.6 998.2,292.2" fill="#FF1010"/></svg>

<!-- red list -->
<div class="a" style="left:990px;top:347px;width:169px;height:151px;background:#00008E;"></div>
<div class="rc" style="top:351px;height:33px;"></div>
<div class="rc" style="top:388px;height:31px;"></div>
<div class="rc" style="top:423px;height:32.5px;"></div>
<div class="rc" style="top:459.7px;height:34px;left:993.4px;"></div>
<div class="rt" style="top:359.5px;">攻击性</div>
<div class="rt" style="top:395.5px;">压力</div>
<div class="rt" style="top:430.5px;">焦虑</div>
<div class="rt" style="top:467.5px;">可疑度</div>

<svg class="a" style="left:883px;top:501px" width="303" height="168.5" viewBox="883 501 303 168.5"><defs><radialGradient id="fbg" cx="0.55" cy="0.65" r="0.6"><stop offset="0" stop-color="#3A3A3A"/><stop offset="1" stop-color="#2A2A2A"/></radialGradient></defs><rect x="883" y="501" width="303" height="168.5" fill="url(#fbg)"/><rect x="889" y="503.5" width="57" height="0.8" fill="#aaa"/><rect x="894.4" y="505.0" width="44.9" height="2.0" fill="#9AF0A0"/><rect x="894.6" y="506.6" width="45.3" height="2.0" fill="#A0E0F0"/><rect x="891.3" y="508.2" width="45.1" height="2.0" fill="#90E8B8"/><rect x="896.6" y="509.8" width="39.9" height="2.0" fill="#66D8D8"/><rect x="894.4" y="511.4" width="49.9" height="2.0" fill="#A0E0F0"/><rect x="898.7" y="513.0" width="39.0" height="2.0" fill="#66D8D8"/><rect x="896.1" y="514.6" width="45.1" height="2.0" fill="#90E8B8"/><rect x="896.8" y="516.2" width="41.8" height="2.0" fill="#7FEFD0"/><rect x="896.5" y="517.8" width="39.5" height="2.0" fill="#66D8D8"/><rect x="889.7" y="519.4" width="54.0" height="2.0" fill="#7FEFD0"/><rect x="896.2" y="521.0" width="40.5" height="2.0" fill="#50C0E8"/><rect x="894.3" y="522.6" width="41.6" height="2.0" fill="#A0E0F0"/><rect x="891.8" y="524.2" width="50.7" height="2.0" fill="#66D8D8"/><rect x="896.9" y="525.8" width="43.6" height="2.0" fill="#50C0E8"/><rect x="893.9" y="527.4" width="45.5" height="2.0" fill="#9AF0A0"/><rect x="890.0" y="529.0" width="53.0" height="2.0" fill="#9AF0A0"/><rect x="891.8" y="530.6" width="50.8" height="2.0" fill="#66D8D8"/><rect x="895.8" y="532.2" width="48.9" height="2.0" fill="#66D8D8"/><rect x="899.2" y="533.8" width="42.2" height="2.0" fill="#66D8D8"/><rect x="899.2" y="535.4" width="46.8" height="2.0" fill="#7FEFD0"/><rect x="900.1" y="537.0" width="45.2" height="2.0" fill="#90E8B8"/><rect x="900.8" y="538.6" width="40.5" height="2.0" fill="#66D8D8"/><rect x="895.8" y="540.2" width="47.8" height="2.0" fill="#5ACCCC"/><rect x="892.2" y="541.8" width="52.7" height="2.0" fill="#50C0E8"/><rect x="889.2" y="543.4" width="51.9" height="2.0" fill="#66D8D8"/><rect x="899" y="506" width="39" height="40" fill="#8A8A8A"/><path d="M899.7,546.0 Q901.6,535.3 913.2,533.9 Q907.2,527.6 907.7,522.0 A11.0,14.0 0 0 1 929.7,522.0 Q930.2,527.6 924.2,533.9 Q935.8,535.3 937.7,546.0 Z" fill="#7A8088"/><ellipse cx="918.7" cy="520.6" rx="11.6" ry="13.3" fill="#303030"/><ellipse cx="918.7" cy="524.8" rx="9.3" ry="10.9" fill="#9C9C9C"/><ellipse cx="914.9" cy="523.4" rx="1.6" ry="0.8" fill="#3a3a3a"/><ellipse cx="922.6" cy="523.4" rx="1.6" ry="0.8" fill="#3a3a3a"/><path d="M915.4,529.7 Q918.7,531.2 922.0,529.7" stroke="#555" fill="none" stroke-width="0.9"/><clipPath id="c144521862"><path d="M952.0,548.0 Q953.8,538.0 962.5,536.1 Q954.2,527.6 955.0,520.0 A15.0,19.0 0 0 1 985.0,520.0 Q985.8,527.6 977.5,536.1 Q986.2,538.0 988.0,548.0 Z"/></clipPath><path d="M952.0,548.0 Q953.8,538.0 962.5,536.1 Q954.2,527.6 955.0,520.0 A15.0,19.0 0 0 1 985.0,520.0 Q985.8,527.6 977.5,536.1 Q986.2,538.0 988.0,548.0 Z" fill="#9030E0"/><g clip-path="url(#c144521862)"><rect x="960.9" y="505.7" width="1.1" height="2.2" fill="#FF40FF"/><rect x="976.6" y="509.9" width="2.3" height="2.5" fill="#FF40FF"/><rect x="967.1" y="519.0" width="2.0" height="2.5" fill="#B030FF"/><rect x="961.7" y="546.6" width="3.0" height="1.5" fill="#B030FF"/><rect x="959.6" y="519.5" width="3.1" height="2.0" fill="#B030FF"/><rect x="953.5" y="507.9" width="2.1" height="1.0" fill="#20D0FF"/><rect x="963.8" y="514.9" width="1.2" height="1.1" fill="#20D0FF"/><rect x="974.9" y="501.7" width="1.9" height="1.9" fill="#FF40FF"/><rect x="986.5" y="523.7" width="2.4" height="2.3" fill="#FF40FF"/><rect x="974.6" y="515.6" width="1.6" height="1.9" fill="#7020C0"/><rect x="958.8" y="535.8" width="3.4" height="1.3" fill="#D070FF"/><rect x="983.8" y="529.4" width="2.1" height="1.2" fill="#B030FF"/><rect x="970.4" y="513.0" width="2.8" height="1.6" fill="#D070FF"/><rect x="981.7" y="529.0" width="1.7" height="1.3" fill="#7020C0"/><rect x="987.2" y="506.9" width="2.2" height="2.0" fill="#20D0FF"/><rect x="974.1" y="514.2" width="3.3" height="1.3" fill="#B030FF"/><rect x="954.5" y="520.3" width="1.6" height="1.1" fill="#4040FF"/><rect x="965.3" y="527.9" width="1.3" height="1.5" fill="#D070FF"/><rect x="987.3" y="531.9" width="2.7" height="1.9" fill="#FF40FF"/><rect x="973.2" y="544.4" width="2.2" height="1.5" fill="#4040FF"/><rect x="986.7" y="502.0" width="2.6" height="1.7" fill="#7020C0"/><rect x="963.2" y="507.4" width="1.2" height="1.7" fill="#4040FF"/><rect x="978.5" y="543.3" width="2.8" height="2.1" fill="#4040FF"/><rect x="964.7" y="533.2" width="3.3" height="2.3" fill="#D070FF"/><rect x="986.0" y="502.4" width="2.2" height="1.0" fill="#7020C0"/><rect x="965.8" y="528.4" width="2.5" height="1.1" fill="#7020C0"/><rect x="956.2" y="513.1" width="2.0" height="1.5" fill="#7020C0"/><rect x="977.0" y="522.5" width="2.2" height="1.8" fill="#20D0FF"/><rect x="979.0" y="502.4" width="2.5" height="1.7" fill="#FF40FF"/><rect x="986.5" y="506.3" width="2.9" height="2.0" fill="#D070FF"/><rect x="961.2" y="501.5" width="1.8" height="2.0" fill="#FF40FF"/><rect x="970.7" y="536.4" width="1.9" height="2.4" fill="#D070FF"/><rect x="984.1" y="516.4" width="2.7" height="1.3" fill="#D070FF"/><rect x="980.9" y="536.5" width="1.5" height="1.3" fill="#FF40FF"/><rect x="973.0" y="515.9" width="1.3" height="1.7" fill="#B030FF"/><rect x="977.6" y="545.7" width="1.7" height="1.3" fill="#D070FF"/><rect x="969.0" y="544.5" width="3.1" height="1.6" fill="#20D0FF"/><rect x="969.8" y="515.8" width="3.1" height="2.5" fill="#D070FF"/><rect x="963.5" y="540.0" width="1.7" height="1.9" fill="#7020C0"/><rect x="977.5" y="527.8" width="1.8" height="2.2" fill="#B030FF"/><rect x="975.1" y="520.0" width="1.5" height="2.2" fill="#4040FF"/><rect x="960.5" y="507.6" width="1.1" height="1.9" fill="#D070FF"/><rect x="955.9" y="526.2" width="2.6" height="1.6" fill="#B030FF"/><rect x="976.6" y="510.4" width="2.2" height="1.3" fill="#B030FF"/><rect x="979.2" y="526.1" width="1.1" height="1.3" fill="#4040FF"/><rect x="971.4" y="545.5" width="2.3" height="2.5" fill="#FF40FF"/><rect x="966.2" y="538.2" width="3.3" height="1.1" fill="#7020C0"/><rect x="966.0" y="522.2" width="1.5" height="2.3" fill="#B030FF"/><rect x="965.6" y="527.7" width="3.2" height="2.2" fill="#4040FF"/><rect x="968.7" y="531.6" width="1.5" height="2.1" fill="#7020C0"/><rect x="985.3" y="506.8" width="1.6" height="1.6" fill="#B030FF"/><rect x="987.2" y="526.2" width="3.0" height="1.5" fill="#7020C0"/><rect x="982.8" y="517.4" width="1.2" height="1.7" fill="#20D0FF"/><rect x="967.2" y="513.9" width="3.3" height="1.3" fill="#B030FF"/><rect x="967.4" y="502.6" width="2.3" height="2.0" fill="#FF40FF"/><rect x="968.9" y="548.0" width="3.3" height="1.8" fill="#7020C0"/><rect x="976.8" y="545.5" width="2.2" height="2.4" fill="#B030FF"/><rect x="979.3" y="521.7" width="2.4" height="2.2" fill="#20D0FF"/><rect x="975.0" y="525.6" width="3.1" height="1.8" fill="#4040FF"/><rect x="976.2" y="545.9" width="3.2" height="1.9" fill="#4040FF"/><rect x="982.6" y="546.5" width="2.3" height="1.9" fill="#FF40FF"/><rect x="966.8" y="506.4" width="1.0" height="1.6" fill="#20D0FF"/><rect x="986.9" y="525.3" width="2.0" height="2.2" fill="#20D0FF"/><rect x="956.4" y="505.4" width="1.4" height="2.4" fill="#D070FF"/><rect x="966.9" y="546.0" width="3.3" height="1.4" fill="#D070FF"/><rect x="969.7" y="517.0" width="3.3" height="2.4" fill="#D070FF"/><rect x="970.9" y="506.1" width="2.0" height="1.0" fill="#4040FF"/><rect x="956.7" y="537.6" width="1.1" height="1.3" fill="#FF40FF"/><rect x="952.4" y="514.4" width="2.8" height="1.4" fill="#D070FF"/><rect x="955.8" y="535.4" width="1.3" height="1.8" fill="#4040FF"/><rect x="977.8" y="534.0" width="3.2" height="1.0" fill="#7020C0"/><rect x="966.9" y="525.9" width="1.4" height="1.3" fill="#7020C0"/><rect x="971.2" y="511.3" width="1.5" height="1.8" fill="#20D0FF"/><rect x="982.8" y="511.9" width="2.9" height="2.2" fill="#FF40FF"/><rect x="963.4" y="515.8" width="3.3" height="1.3" fill="#FF40FF"/><rect x="984.0" y="507.3" width="1.6" height="2.1" fill="#4040FF"/><rect x="966.0" y="521.4" width="3.4" height="1.8" fill="#7020C0"/><rect x="956.5" y="519.9" width="2.7" height="1.0" fill="#FF40FF"/><rect x="972.5" y="517.8" width="3.1" height="1.5" fill="#7020C0"/><rect x="970.2" y="536.6" width="2.3" height="2.0" fill="#FF40FF"/><rect x="980.9" y="523.7" width="1.1" height="2.1" fill="#20D0FF"/><rect x="970.5" y="527.7" width="1.4" height="1.3" fill="#FF40FF"/><rect x="958.2" y="508.4" width="1.7" height="2.0" fill="#20D0FF"/><rect x="954.2" y="545.7" width="2.2" height="2.1" fill="#4040FF"/><rect x="966.1" y="521.0" width="1.9" height="1.3" fill="#4040FF"/><rect x="952.5" y="533.9" width="3.1" height="1.3" fill="#D070FF"/><rect x="964.9" y="518.4" width="3.3" height="1.9" fill="#B030FF"/><rect x="970.5" y="501.7" width="3.2" height="2.2" fill="#7020C0"/><rect x="983.5" y="543.7" width="3.3" height="1.9" fill="#FF40FF"/><rect x="970.2" y="547.2" width="3.0" height="1.4" fill="#B030FF"/><rect x="978.8" y="537.6" width="3.0" height="1.6" fill="#4040FF"/><rect x="983.7" y="533.7" width="2.9" height="2.1" fill="#D070FF"/><rect x="959.4" y="509.7" width="3.0" height="1.5" fill="#B030FF"/><rect x="952.4" y="517.7" width="2.6" height="1.9" fill="#FF40FF"/><rect x="961.8" y="546.2" width="1.7" height="1.3" fill="#D070FF"/><rect x="972.5" y="526.1" width="2.0" height="2.5" fill="#7020C0"/><rect x="959.7" y="506.6" width="2.0" height="1.9" fill="#B030FF"/><rect x="974.2" y="535.7" width="1.6" height="1.6" fill="#B030FF"/><rect x="979.4" y="531.5" width="1.0" height="1.4" fill="#4040FF"/><rect x="984.6" y="526.9" width="2.3" height="2.5" fill="#20D0FF"/><rect x="982.5" y="505.7" width="2.1" height="2.0" fill="#20D0FF"/><rect x="973.5" y="536.7" width="1.1" height="2.4" fill="#FF40FF"/><rect x="965.9" y="546.6" width="3.1" height="1.8" fill="#20D0FF"/><rect x="954.1" y="545.4" width="2.1" height="1.8" fill="#20D0FF"/><rect x="963.2" y="525.9" width="2.2" height="1.4" fill="#4040FF"/><rect x="975.9" y="536.1" width="1.1" height="2.2" fill="#20D0FF"/><rect x="953.5" y="508.4" width="2.9" height="1.6" fill="#4040FF"/><rect x="978.9" y="503.4" width="3.5" height="2.4" fill="#B030FF"/><rect x="980.7" y="511.5" width="2.8" height="1.4" fill="#FF40FF"/><rect x="953.6" y="505.6" width="3.0" height="2.4" fill="#FF40FF"/><rect x="987.2" y="539.4" width="2.5" height="1.2" fill="#20D0FF"/><rect x="967.0" y="506.5" width="3.2" height="1.5" fill="#FF40FF"/><rect x="956.5" y="521.8" width="2.7" height="1.7" fill="#4040FF"/><rect x="975.0" y="533.1" width="1.9" height="2.1" fill="#FF40FF"/><rect x="986.3" y="535.5" width="1.6" height="1.2" fill="#4040FF"/><rect x="980.2" y="530.4" width="1.9" height="1.4" fill="#7020C0"/><rect x="978.1" y="533.9" width="1.5" height="1.4" fill="#FF40FF"/><rect x="958.8" y="512.7" width="3.4" height="2.4" fill="#7020C0"/><rect x="953.4" y="503.9" width="1.7" height="1.6" fill="#20D0FF"/><rect x="953.4" y="511.5" width="1.7" height="2.1" fill="#7020C0"/><rect x="957.8" y="512.0" width="3.5" height="1.7" fill="#4040FF"/><rect x="959.6" y="517.2" width="2.9" height="2.3" fill="#B030FF"/><rect x="980.9" y="522.0" width="3.1" height="2.3" fill="#FF40FF"/><rect x="968.0" y="536.1" width="2.0" height="1.2" fill="#FF40FF"/><rect x="975.5" y="547.5" width="1.8" height="1.8" fill="#7020C0"/><rect x="981.7" y="509.6" width="2.6" height="1.9" fill="#D070FF"/><rect x="983.5" y="504.7" width="1.2" height="1.8" fill="#D070FF"/><rect x="981.4" y="522.8" width="3.1" height="1.0" fill="#4040FF"/><rect x="959.7" y="532.1" width="1.2" height="1.5" fill="#7020C0"/><rect x="979.5" y="516.4" width="3.2" height="1.3" fill="#7020C0"/><rect x="978.1" y="518.2" width="1.3" height="2.1" fill="#20D0FF"/><rect x="973.4" y="543.4" width="2.7" height="1.4" fill="#20D0FF"/><rect x="980.9" y="515.3" width="1.8" height="1.6" fill="#7020C0"/><rect x="984.2" y="512.7" width="1.9" height="1.5" fill="#4040FF"/><rect x="976.4" y="528.5" width="3.0" height="2.1" fill="#4040FF"/><rect x="980.7" y="526.4" width="3.1" height="1.8" fill="#FF40FF"/><rect x="955.2" y="522.4" width="3.1" height="2.2" fill="#FF40FF"/><rect x="970.6" y="526.6" width="2.4" height="2.4" fill="#7020C0"/><rect x="982.3" y="520.9" width="2.5" height="1.5" fill="#20D0FF"/><rect x="955.0" y="504.8" width="2.8" height="2.3" fill="#B030FF"/></g><circle cx="964.3" cy="521.0" r="2.0" fill="#30F0A0"/><circle cx="975.7" cy="521.0" r="2.0" fill="#30F0A0"/><rect x="997.3" y="503.0" width="54.8" height="2.0" fill="#FFA500"/><rect x="1005.9" y="504.6" width="46.3" height="2.0" fill="#F0F020"/><rect x="1005.5" y="506.2" width="48.6" height="2.0" fill="#A8D030"/><rect x="1006.2" y="507.8" width="49.1" height="2.0" fill="#A8D030"/><rect x="1006.7" y="509.4" width="49.3" height="2.0" fill="#FF8C00"/><rect x="1002.9" y="511.0" width="50.6" height="2.0" fill="#FFA500"/><rect x="1005.5" y="512.6" width="43.5" height="2.0" fill="#FF7000"/><rect x="1006.1" y="514.2" width="42.1" height="2.0" fill="#A8D030"/><rect x="1007.2" y="515.8" width="43.1" height="2.0" fill="#FFA500"/><rect x="1007.7" y="517.4" width="40.8" height="2.0" fill="#FFD000"/><rect x="1003.3" y="519.0" width="48.2" height="2.0" fill="#FFA500"/><rect x="1002.1" y="520.6" width="52.9" height="2.0" fill="#FF8C00"/><rect x="999.9" y="522.2" width="58.1" height="2.0" fill="#FF7000"/><rect x="1005.2" y="523.8" width="50.9" height="2.0" fill="#FF7000"/><rect x="1002.1" y="525.4" width="54.4" height="2.0" fill="#FFD000"/><rect x="1002.7" y="527.0" width="48.6" height="2.0" fill="#FFB800"/><rect x="1004.8" y="528.6" width="45.9" height="2.0" fill="#FF8C00"/><rect x="1007.9" y="530.2" width="43.0" height="2.0" fill="#FFD000"/><rect x="1004.0" y="531.8" width="45.1" height="2.0" fill="#FFD000"/><rect x="1000.8" y="533.4" width="56.9" height="2.0" fill="#A8D030"/><rect x="999.6" y="535.0" width="57.6" height="2.0" fill="#FFE040"/><rect x="1004.1" y="536.6" width="53.2" height="2.0" fill="#FF8C00"/><rect x="1007.7" y="538.2" width="47.4" height="2.0" fill="#FFB800"/><rect x="1004.5" y="539.8" width="44.2" height="2.0" fill="#FFE040"/><rect x="1007.2" y="541.4" width="46.9" height="2.0" fill="#FF7000"/><rect x="1008.0" y="543.0" width="47.9" height="2.0" fill="#FFA500"/><rect x="1002.8" y="544.6" width="54.6" height="2.0" fill="#FFD000"/><rect x="999.6" y="546.2" width="58.8" height="2.0" fill="#FF7000"/><rect x="1008.7" y="547.8" width="41.8" height="2.0" fill="#FFB800"/><clipPath id="c845763128"><path d="M1007.0,549.0 Q1008.8,538.1 1018.0,536.5 Q1010.3,528.8 1011.0,522.0 A14.0,17.0 0 0 1 1039.0,522.0 Q1039.7,528.8 1032.0,536.5 Q1041.2,538.1 1043.0,549.0 Z"/></clipPath><path d="M1007.0,549.0 Q1008.8,538.1 1018.0,536.5 Q1010.3,528.8 1011.0,522.0 A14.0,17.0 0 0 1 1039.0,522.0 Q1039.7,528.8 1032.0,536.5 Q1041.2,538.1 1043.0,549.0 Z" fill="#5030E0"/><g clip-path="url(#c845763128)"><rect x="1042.6" y="533.9" width="1.6" height="1.0" fill="#30F090"/><rect x="1039.6" y="524.8" width="1.6" height="1.6" fill="#60E0FF"/><rect x="1012.7" y="511.9" width="1.8" height="1.4" fill="#60E0FF"/><rect x="1036.2" y="510.8" width="2.9" height="1.9" fill="#FF30C0"/><rect x="1026.2" y="511.6" width="2.9" height="1.0" fill="#60E0FF"/><rect x="1040.0" y="511.6" width="1.3" height="1.5" fill="#FF30C0"/><rect x="1032.8" y="509.3" width="2.2" height="1.7" fill="#2020A0"/><rect x="1028.1" y="542.7" width="1.8" height="2.2" fill="#30F090"/><rect x="1014.0" y="535.0" width="3.0" height="1.7" fill="#3040FF"/><rect x="1026.6" y="528.1" width="1.4" height="2.2" fill="#8030FF"/><rect x="1018.4" y="522.8" width="2.4" height="2.5" fill="#2020A0"/><rect x="1032.7" y="520.8" width="2.7" height="1.2" fill="#30F090"/><rect x="1031.3" y="537.9" width="3.0" height="1.2" fill="#30F090"/><rect x="1007.4" y="521.6" width="2.8" height="1.4" fill="#FF30C0"/><rect x="1011.1" y="539.0" width="3.1" height="2.3" fill="#2020A0"/><rect x="1014.4" y="532.1" width="1.7" height="1.6" fill="#FF30C0"/><rect x="1034.0" y="547.0" width="2.9" height="1.8" fill="#3040FF"/><rect x="1016.2" y="513.8" width="2.8" height="1.5" fill="#8030FF"/><rect x="1027.3" y="536.8" width="1.8" height="2.2" fill="#3040FF"/><rect x="1010.7" y="532.4" width="1.3" height="1.9" fill="#00C0FF"/><rect x="1013.5" y="522.7" width="3.1" height="1.9" fill="#3040FF"/><rect x="1010.6" y="506.4" width="3.5" height="1.7" fill="#60E0FF"/><rect x="1009.6" y="545.5" width="2.1" height="1.8" fill="#2020A0"/><rect x="1014.4" y="511.5" width="2.7" height="1.7" fill="#30F090"/><rect x="1029.4" y="537.0" width="2.5" height="1.5" fill="#60E0FF"/><rect x="1035.4" y="534.1" width="2.5" height="1.0" fill="#8030FF"/><rect x="1013.8" y="518.5" width="2.1" height="1.8" fill="#00C0FF"/><rect x="1025.3" y="539.7" width="3.1" height="1.9" fill="#00C0FF"/><rect x="1016.1" y="528.7" width="1.7" height="1.4" fill="#FF30C0"/><rect x="1025.0" y="511.2" width="2.8" height="2.5" fill="#FF30C0"/><rect x="1042.9" y="536.1" width="3.3" height="1.9" fill="#3040FF"/><rect x="1029.6" y="513.7" width="1.2" height="1.4" fill="#FF30C0"/><rect x="1022.0" y="519.7" width="1.2" height="2.3" fill="#8030FF"/><rect x="1023.7" y="510.5" width="3.4" height="1.2" fill="#FF30C0"/><rect x="1026.6" y="529.7" width="2.4" height="1.4" fill="#2020A0"/><rect x="1042.7" y="541.0" width="2.5" height="1.2" fill="#60E0FF"/><rect x="1007.1" y="535.1" width="1.9" height="2.1" fill="#8030FF"/><rect x="1036.9" y="513.2" width="2.4" height="1.1" fill="#3040FF"/><rect x="1021.5" y="539.4" width="3.3" height="2.5" fill="#00C0FF"/><rect x="1018.1" y="534.5" width="2.8" height="1.6" fill="#FF30C0"/><rect x="1030.1" y="538.6" width="1.4" height="1.6" fill="#3040FF"/><rect x="1012.1" y="522.0" width="2.4" height="1.3" fill="#FF30C0"/><rect x="1011.7" y="515.7" width="3.3" height="1.1" fill="#60E0FF"/><rect x="1008.4" y="534.5" width="1.4" height="2.4" fill="#FF30C0"/><rect x="1010.7" y="520.2" width="3.2" height="2.4" fill="#FF30C0"/><rect x="1034.3" y="538.1" width="2.2" height="2.5" fill="#60E0FF"/><rect x="1039.6" y="535.4" width="3.1" height="1.2" fill="#3040FF"/><rect x="1039.6" y="528.1" width="2.3" height="1.6" fill="#3040FF"/><rect x="1018.5" y="507.4" width="2.8" height="2.4" fill="#2020A0"/><rect x="1020.6" y="519.2" width="3.0" height="2.3" fill="#3040FF"/><rect x="1015.8" y="542.2" width="1.6" height="2.3" fill="#3040FF"/><rect x="1024.1" y="509.6" width="3.3" height="1.8" fill="#2020A0"/><rect x="1021.2" y="515.4" width="1.2" height="2.4" fill="#60E0FF"/><rect x="1031.0" y="543.1" width="2.1" height="2.2" fill="#00C0FF"/><rect x="1030.4" y="523.5" width="1.3" height="1.1" fill="#FF30C0"/><rect x="1035.5" y="510.4" width="2.3" height="2.4" fill="#3040FF"/><rect x="1017.7" y="537.0" width="1.1" height="1.3" fill="#30F090"/><rect x="1039.2" y="540.9" width="2.0" height="1.5" fill="#FF30C0"/><rect x="1015.3" y="518.5" width="2.1" height="1.5" fill="#8030FF"/><rect x="1024.9" y="546.1" width="3.4" height="1.7" fill="#00C0FF"/><rect x="1014.3" y="542.8" width="2.7" height="1.1" fill="#8030FF"/><rect x="1037.2" y="520.6" width="2.2" height="1.3" fill="#2020A0"/><rect x="1042.8" y="513.9" width="2.6" height="1.3" fill="#3040FF"/><rect x="1030.4" y="518.5" width="3.0" height="2.4" fill="#8030FF"/><rect x="1038.3" y="536.4" width="1.3" height="2.0" fill="#60E0FF"/><rect x="1023.0" y="508.5" width="1.6" height="1.5" fill="#2020A0"/><rect x="1031.9" y="516.8" width="2.8" height="1.8" fill="#8030FF"/><rect x="1035.5" y="521.4" width="2.7" height="2.3" fill="#FF30C0"/><rect x="1025.6" y="548.0" width="3.2" height="1.3" fill="#00C0FF"/><rect x="1017.0" y="533.2" width="1.2" height="2.5" fill="#30F090"/><rect x="1040.0" y="508.2" width="3.3" height="1.0" fill="#FF30C0"/><rect x="1017.2" y="516.0" width="3.0" height="1.1" fill="#8030FF"/><rect x="1042.6" y="513.3" width="1.4" height="2.1" fill="#3040FF"/><rect x="1013.7" y="544.5" width="3.5" height="1.1" fill="#30F090"/><rect x="1040.0" y="530.7" width="1.0" height="2.3" fill="#3040FF"/><rect x="1013.5" y="529.5" width="2.6" height="1.5" fill="#2020A0"/><rect x="1024.4" y="506.4" width="1.7" height="2.2" fill="#2020A0"/><rect x="1031.6" y="527.9" width="3.4" height="1.3" fill="#60E0FF"/><rect x="1034.8" y="509.9" width="2.1" height="2.0" fill="#FF30C0"/><rect x="1034.8" y="539.6" width="3.0" height="1.4" fill="#30F090"/><rect x="1026.6" y="542.5" width="2.5" height="1.4" fill="#00C0FF"/><rect x="1028.5" y="536.4" width="2.4" height="2.3" fill="#00C0FF"/><rect x="1018.7" y="531.8" width="2.5" height="2.2" fill="#FF30C0"/><rect x="1022.9" y="516.6" width="3.0" height="1.1" fill="#00C0FF"/><rect x="1027.5" y="528.9" width="3.0" height="1.4" fill="#00C0FF"/><rect x="1008.9" y="523.7" width="2.7" height="2.2" fill="#2020A0"/><rect x="1025.9" y="516.6" width="2.5" height="1.1" fill="#60E0FF"/><rect x="1025.4" y="521.7" width="1.6" height="1.7" fill="#2020A0"/><rect x="1036.9" y="539.6" width="1.2" height="1.6" fill="#8030FF"/><rect x="1032.2" y="536.0" width="3.4" height="1.2" fill="#60E0FF"/><rect x="1034.4" y="548.4" width="1.4" height="1.7" fill="#2020A0"/><rect x="1042.5" y="505.1" width="2.0" height="1.8" fill="#3040FF"/><rect x="1021.1" y="518.1" width="2.1" height="1.1" fill="#3040FF"/><rect x="1031.5" y="536.5" width="3.4" height="1.9" fill="#8030FF"/><rect x="1016.1" y="529.3" width="1.6" height="1.7" fill="#00C0FF"/><rect x="1020.1" y="519.8" width="3.5" height="1.9" fill="#3040FF"/><rect x="1012.8" y="530.8" width="3.5" height="2.1" fill="#FF30C0"/><rect x="1032.0" y="543.0" width="2.5" height="2.3" fill="#30F090"/><rect x="1038.0" y="546.2" width="1.5" height="1.6" fill="#3040FF"/><rect x="1014.8" y="520.3" width="1.5" height="1.8" fill="#00C0FF"/><rect x="1024.3" y="522.6" width="2.5" height="2.1" fill="#30F090"/><rect x="1023.1" y="548.7" width="2.7" height="2.3" fill="#00C0FF"/><rect x="1026.5" y="523.4" width="1.1" height="1.4" fill="#8030FF"/><rect x="1029.4" y="527.8" width="2.9" height="1.8" fill="#FF30C0"/><rect x="1040.2" y="536.5" width="1.7" height="1.5" fill="#00C0FF"/><rect x="1033.2" y="539.2" width="1.3" height="1.4" fill="#60E0FF"/><rect x="1039.7" y="505.9" width="1.8" height="1.6" fill="#3040FF"/><rect x="1037.8" y="521.8" width="1.6" height="2.3" fill="#2020A0"/><rect x="1009.0" y="522.3" width="1.6" height="1.1" fill="#00C0FF"/><rect x="1025.5" y="510.6" width="1.5" height="1.6" fill="#30F090"/></g><path d="M1007.0,549.0 Q1008.8,538.1 1018.0,536.5 Q1010.3,528.8 1011.0,522.0 A14.0,17.0 0 0 1 1039.0,522.0 Q1039.7,528.8 1032.0,536.5 Q1041.2,538.1 1043.0,549.0 Z" fill="none" stroke="#FF2020" stroke-width="1.5"/><ellipse cx="1025.0" cy="524.5" rx="10.5" ry="11.9" fill="none" stroke="#FF2020" stroke-width="1.2"/><rect x="1068.5" y="503.0" width="45.8" height="2.0" fill="#A8F030"/><rect x="1065.8" y="504.6" width="44.8" height="2.0" fill="#00C8D0"/><rect x="1063.8" y="506.2" width="49.8" height="2.0" fill="#A8F030"/><rect x="1068.4" y="507.8" width="42.2" height="2.0" fill="#00E0A0"/><rect x="1066.6" y="509.4" width="39.0" height="2.0" fill="#40D8D0"/><rect x="1063.2" y="511.0" width="48.3" height="2.0" fill="#40D8D0"/><rect x="1063.7" y="512.6" width="42.1" height="2.0" fill="#C0F040"/><rect x="1068.8" y="514.2" width="37.5" height="2.0" fill="#A8F030"/><rect x="1069.9" y="515.8" width="45.3" height="2.0" fill="#40D8D0"/><rect x="1068.7" y="517.4" width="43.1" height="2.0" fill="#70F000"/><rect x="1073.5" y="519.0" width="32.1" height="2.0" fill="#40D8D0"/><rect x="1071.4" y="520.6" width="41.5" height="2.0" fill="#00C8D0"/><rect x="1063.4" y="522.2" width="46.6" height="2.0" fill="#C0F040"/><rect x="1066.6" y="523.8" width="45.5" height="2.0" fill="#C0F040"/><rect x="1070.4" y="525.4" width="42.9" height="2.0" fill="#00C8D0"/><rect x="1064.4" y="527.0" width="42.4" height="2.0" fill="#22CC88"/><rect x="1070.0" y="528.6" width="43.1" height="2.0" fill="#70F000"/><rect x="1070.9" y="530.2" width="34.2" height="2.0" fill="#00E0A0"/><rect x="1067.7" y="531.8" width="45.2" height="2.0" fill="#A8F030"/><rect x="1070.4" y="533.4" width="45.3" height="2.0" fill="#00C8D0"/><rect x="1063.4" y="535.0" width="41.6" height="2.0" fill="#00C8D0"/><rect x="1065.3" y="536.6" width="46.2" height="2.0" fill="#A8F030"/><rect x="1067.6" y="538.2" width="44.5" height="2.0" fill="#A8F030"/><rect x="1062.9" y="539.8" width="52.7" height="2.0" fill="#22CC88"/><rect x="1072.7" y="541.4" width="36.5" height="2.0" fill="#A8F030"/><clipPath id="c875273230"><path d="M1071.0,544.0 Q1072.8,535.2 1082.5,533.6 Q1075.3,526.4 1076.0,520.0 A13.0,16.0 0 0 1 1102.0,520.0 Q1102.7,526.4 1095.5,533.6 Q1105.2,535.2 1107.0,544.0 Z"/></clipPath><path d="M1071.0,544.0 Q1072.8,535.2 1082.5,533.6 Q1075.3,526.4 1076.0,520.0 A13.0,16.0 0 0 1 1102.0,520.0 Q1102.7,526.4 1095.5,533.6 Q1105.2,535.2 1107.0,544.0 Z" fill="#3030D0"/><g clip-path="url(#c875273230)"><rect x="1095.1" y="511.4" width="2.2" height="1.9" fill="#8030FF"/><rect x="1072.1" y="532.3" width="1.5" height="1.1" fill="#3040FF"/><rect x="1093.3" y="520.4" width="2.0" height="1.4" fill="#60E0FF"/><rect x="1087.7" y="522.0" width="3.4" height="1.6" fill="#60E0FF"/><rect x="1075.9" y="524.3" width="1.8" height="1.5" fill="#3040FF"/><rect x="1076.4" y="511.7" width="1.6" height="2.0" fill="#00C0FF"/><rect x="1089.7" y="541.1" width="3.4" height="1.0" fill="#FF30C0"/><rect x="1088.8" y="530.0" width="2.4" height="1.9" fill="#FF30C0"/><rect x="1102.8" y="531.6" width="3.0" height="1.4" fill="#3040FF"/><rect x="1102.9" y="516.5" width="2.8" height="2.0" fill="#2020A0"/><rect x="1076.6" y="511.7" width="1.4" height="1.5" fill="#2020A0"/><rect x="1088.7" y="526.6" width="1.9" height="1.4" fill="#2020A0"/><rect x="1095.0" y="523.9" width="2.6" height="1.5" fill="#2020A0"/><rect x="1077.4" y="524.5" width="1.3" height="1.1" fill="#3040FF"/><rect x="1100.4" y="539.4" width="1.8" height="2.3" fill="#FF30C0"/><rect x="1098.8" y="523.2" width="1.4" height="2.3" fill="#60E0FF"/><rect x="1088.4" y="517.8" width="2.0" height="2.1" fill="#2020A0"/><rect x="1085.1" y="532.6" width="1.6" height="2.1" fill="#8030FF"/><rect x="1077.6" y="538.2" width="1.5" height="1.8" fill="#00C0FF"/><rect x="1091.4" y="520.8" width="2.8" height="1.9" fill="#60E0FF"/><rect x="1080.7" y="510.4" width="1.5" height="1.9" fill="#8030FF"/><rect x="1079.3" y="511.4" width="1.0" height="1.9" fill="#60E0FF"/><rect x="1105.9" y="509.3" width="2.7" height="1.6" fill="#2020A0"/><rect x="1095.0" y="519.5" width="2.7" height="1.2" fill="#00C0FF"/><rect x="1096.7" y="508.7" width="1.1" height="1.4" fill="#2020A0"/><rect x="1090.4" y="536.1" width="2.0" height="2.4" fill="#60E0FF"/><rect x="1090.5" y="523.3" width="1.9" height="1.5" fill="#60E0FF"/><rect x="1102.3" y="530.0" width="1.6" height="2.1" fill="#30F090"/><rect x="1098.6" y="543.2" width="2.0" height="2.0" fill="#FF30C0"/><rect x="1081.2" y="538.7" width="2.1" height="2.3" fill="#FF30C0"/><rect x="1104.6" y="514.1" width="2.2" height="1.2" fill="#8030FF"/><rect x="1102.8" y="514.8" width="2.4" height="1.4" fill="#30F090"/><rect x="1080.9" y="513.1" width="2.2" height="1.5" fill="#8030FF"/><rect x="1091.1" y="510.1" width="1.0" height="2.1" fill="#2020A0"/><rect x="1073.8" y="511.3" width="2.2" height="2.5" fill="#00C0FF"/><rect x="1106.7" y="520.3" width="1.1" height="1.5" fill="#FF30C0"/><rect x="1085.3" y="506.3" width="2.4" height="2.0" fill="#FF30C0"/><rect x="1080.1" y="511.5" width="1.7" height="1.4" fill="#60E0FF"/><rect x="1087.0" y="537.3" width="2.8" height="1.3" fill="#3040FF"/><rect x="1105.0" y="525.6" width="2.7" height="1.4" fill="#3040FF"/><rect x="1098.1" y="516.4" width="2.3" height="1.0" fill="#00C0FF"/><rect x="1073.3" y="518.6" width="2.9" height="1.4" fill="#00C0FF"/><rect x="1099.5" y="533.4" width="2.0" height="2.2" fill="#60E0FF"/><rect x="1095.0" y="536.1" width="2.9" height="2.4" fill="#30F090"/><rect x="1085.5" y="532.2" width="1.6" height="2.4" fill="#3040FF"/><rect x="1071.3" y="509.6" width="1.8" height="2.1" fill="#FF30C0"/><rect x="1094.7" y="536.4" width="1.9" height="2.0" fill="#8030FF"/><rect x="1082.2" y="506.7" width="2.6" height="1.9" fill="#8030FF"/><rect x="1083.1" y="533.7" width="1.5" height="2.1" fill="#FF30C0"/><rect x="1082.0" y="512.2" width="1.9" height="1.2" fill="#8030FF"/><rect x="1083.6" y="521.2" width="1.0" height="1.8" fill="#30F090"/><rect x="1074.4" y="542.0" width="3.1" height="2.1" fill="#3040FF"/><rect x="1102.7" y="516.8" width="2.9" height="1.2" fill="#8030FF"/><rect x="1086.5" y="542.5" width="1.5" height="1.6" fill="#2020A0"/><rect x="1103.0" y="536.5" width="1.2" height="1.6" fill="#8030FF"/><rect x="1102.7" y="535.1" width="2.3" height="1.0" fill="#2020A0"/><rect x="1093.9" y="519.1" width="2.6" height="1.3" fill="#FF30C0"/><rect x="1083.4" y="521.6" width="2.8" height="1.6" fill="#FF30C0"/><rect x="1104.3" y="508.9" width="2.8" height="2.1" fill="#30F090"/><rect x="1095.0" y="520.8" width="2.0" height="1.3" fill="#FF30C0"/><rect x="1090.5" y="505.7" width="3.3" height="1.8" fill="#30F090"/><rect x="1087.1" y="527.7" width="2.5" height="2.4" fill="#00C0FF"/><rect x="1090.3" y="517.1" width="1.6" height="1.9" fill="#00C0FF"/><rect x="1097.5" y="543.6" width="2.0" height="2.3" fill="#00C0FF"/><rect x="1098.1" y="539.9" width="1.3" height="1.3" fill="#2020A0"/><rect x="1099.4" y="509.7" width="1.3" height="1.2" fill="#8030FF"/><rect x="1106.8" y="506.6" width="3.2" height="2.1" fill="#8030FF"/><rect x="1089.6" y="518.0" width="1.5" height="1.0" fill="#30F090"/><rect x="1078.1" y="515.2" width="2.6" height="1.1" fill="#FF30C0"/><rect x="1086.9" y="534.3" width="3.2" height="1.1" fill="#30F090"/><rect x="1101.8" y="534.8" width="2.4" height="2.4" fill="#60E0FF"/><rect x="1104.9" y="536.5" width="1.4" height="1.5" fill="#8030FF"/><rect x="1105.4" y="512.8" width="1.7" height="1.6" fill="#FF30C0"/><rect x="1085.0" y="538.0" width="2.5" height="2.4" fill="#3040FF"/><rect x="1074.2" y="530.0" width="2.3" height="1.5" fill="#2020A0"/><rect x="1105.9" y="526.4" width="3.5" height="1.6" fill="#60E0FF"/><rect x="1083.2" y="516.6" width="2.6" height="1.4" fill="#FF30C0"/><rect x="1078.5" y="512.4" width="2.9" height="1.3" fill="#FF30C0"/><rect x="1087.8" y="509.2" width="1.3" height="2.4" fill="#FF30C0"/><rect x="1093.4" y="516.3" width="1.0" height="1.1" fill="#00C0FF"/><rect x="1097.5" y="518.4" width="1.8" height="1.6" fill="#00C0FF"/><rect x="1073.6" y="514.6" width="1.9" height="1.9" fill="#8030FF"/><rect x="1087.4" y="524.3" width="3.4" height="1.5" fill="#2020A0"/><rect x="1086.0" y="523.7" width="1.3" height="1.2" fill="#8030FF"/><rect x="1105.3" y="507.1" width="2.6" height="1.3" fill="#30F090"/><rect x="1085.0" y="533.7" width="2.5" height="1.7" fill="#3040FF"/><rect x="1084.2" y="517.3" width="2.5" height="2.0" fill="#8030FF"/><rect x="1081.5" y="531.8" width="2.7" height="1.4" fill="#30F090"/><rect x="1084.5" y="527.7" width="3.2" height="1.6" fill="#8030FF"/><rect x="1083.3" y="536.8" width="3.1" height="1.9" fill="#FF30C0"/><rect x="1094.7" y="522.1" width="1.5" height="2.2" fill="#3040FF"/><rect x="1084.5" y="532.9" width="2.7" height="1.5" fill="#60E0FF"/><rect x="1105.2" y="504.9" width="2.6" height="1.7" fill="#8030FF"/><rect x="1077.1" y="524.2" width="2.2" height="2.0" fill="#3040FF"/><rect x="1105.9" y="543.1" width="3.5" height="1.6" fill="#60E0FF"/><rect x="1079.3" y="525.7" width="1.3" height="1.1" fill="#30F090"/><rect x="1094.6" y="535.6" width="3.3" height="1.8" fill="#FF30C0"/><rect x="1078.5" y="518.8" width="1.4" height="1.6" fill="#2020A0"/><rect x="1099.6" y="504.1" width="3.4" height="2.0" fill="#60E0FF"/><rect x="1097.7" y="514.1" width="3.0" height="2.1" fill="#60E0FF"/></g><circle cx="1084.1" cy="520.8" r="1.7" fill="#FF8000"/><circle cx="1093.9" cy="520.8" r="1.7" fill="#FF8000"/><path d="M1071.0,544.0 Q1072.8,535.2 1082.5,533.6 Q1075.3,526.4 1076.0,520.0 A13.0,16.0 0 0 1 1102.0,520.0 Q1102.7,526.4 1095.5,533.6 Q1105.2,535.2 1107.0,544.0 Z" fill="none" stroke="#FF3030" stroke-width="1.2"/><ellipse cx="1089.0" cy="522.4" rx="9.8" ry="11.2" fill="none" stroke="#FF3030" stroke-width="1.0"/><rect x="1129.6" y="503.0" width="43.2" height="2.0" fill="#7FEFD0"/><rect x="1119.2" y="504.6" width="48.5" height="2.0" fill="#9AF0A0"/><rect x="1129.7" y="506.2" width="48.0" height="2.0" fill="#50C0E8"/><rect x="1124.0" y="507.8" width="47.3" height="2.0" fill="#66D8D8"/><rect x="1128.3" y="509.4" width="48.6" height="2.0" fill="#A0E0F0"/><rect x="1125.8" y="511.0" width="51.4" height="2.0" fill="#7FEFD0"/><rect x="1120.6" y="512.6" width="56.4" height="2.0" fill="#A0E0F0"/><rect x="1122.7" y="514.2" width="51.1" height="2.0" fill="#7FEFD0"/><rect x="1122.0" y="515.8" width="51.1" height="2.0" fill="#66D8D8"/><rect x="1130.9" y="517.4" width="40.1" height="2.0" fill="#7FEFD0"/><rect x="1125.7" y="519.0" width="46.8" height="2.0" fill="#9AF0A0"/><rect x="1129.8" y="520.6" width="38.5" height="2.0" fill="#A0E0F0"/><rect x="1120.9" y="522.2" width="45.5" height="2.0" fill="#A0E0F0"/><rect x="1121.1" y="523.8" width="49.5" height="2.0" fill="#9AF0A0"/><rect x="1127.6" y="525.4" width="49.0" height="2.0" fill="#9AF0A0"/><rect x="1119.1" y="527.0" width="57.0" height="2.0" fill="#9AF0A0"/><rect x="1120.3" y="528.6" width="48.8" height="2.0" fill="#90E8B8"/><rect x="1120.9" y="530.2" width="50.7" height="2.0" fill="#66D8D8"/><rect x="1123.9" y="531.8" width="48.2" height="2.0" fill="#A0E0F0"/><rect x="1126.7" y="533.4" width="41.1" height="2.0" fill="#66D8D8"/><rect x="1123.7" y="535.0" width="50.7" height="2.0" fill="#7FEFD0"/><rect x="1122.1" y="536.6" width="54.5" height="2.0" fill="#90E8B8"/><rect x="1122.9" y="538.2" width="49.2" height="2.0" fill="#5ACCCC"/><rect x="1130.9" y="539.8" width="40.4" height="2.0" fill="#7FEFD0"/><ellipse cx="1147" cy="522" rx="17" ry="20" fill="#EEEEEE"/><path d="M1127.4,542.0 Q1129.4,530.4 1141.9,529.0 Q1135.9,523.2 1136.4,518.0 A11.0,13.0 0 0 1 1158.4,518.0 Q1159.0,523.2 1152.9,529.0 Q1165.4,530.4 1167.4,542.0 Z" fill="#D8D8D8"/><ellipse cx="1147.4" cy="516.7" rx="11.6" ry="12.3" fill="#262626"/><ellipse cx="1147.4" cy="520.6" rx="9.3" ry="10.1" fill="#B8B8B8"/><ellipse cx="1143.6" cy="519.3" rx="1.6" ry="0.8" fill="#3a3a3a"/><ellipse cx="1151.2" cy="519.3" rx="1.6" ry="0.8" fill="#3a3a3a"/><path d="M1144.1,525.1 Q1147.4,526.6 1150.7,525.1" stroke="#555" fill="none" stroke-width="0.9"/><rect x="915.0" y="527.0" width="60.0" height="2.0" fill="#FFD000"/><rect x="912.5" y="528.6" width="65.3" height="2.0" fill="#F0F030"/><rect x="915.4" y="530.2" width="63.5" height="2.0" fill="#FFD000"/><rect x="913.0" y="531.8" width="62.3" height="2.0" fill="#33DD33"/><rect x="916.1" y="533.4" width="61.2" height="2.0" fill="#FFD000"/><rect x="907.7" y="535.0" width="62.6" height="2.0" fill="#FFD000"/><rect x="909.3" y="536.6" width="67.4" height="2.0" fill="#33DD33"/><rect x="912.6" y="538.2" width="66.3" height="2.0" fill="#FFD000"/><rect x="917.0" y="539.8" width="64.6" height="2.0" fill="#33DD33"/><rect x="913.8" y="541.4" width="65.0" height="2.0" fill="#F0F030"/><rect x="914.4" y="543.0" width="57.4" height="2.0" fill="#33DD33"/><rect x="912.7" y="544.6" width="55.8" height="2.0" fill="#FFD000"/><rect x="916.6" y="546.2" width="60.4" height="2.0" fill="#80F000"/><rect x="912.1" y="547.8" width="61.5" height="2.0" fill="#33DD33"/><rect x="918.8" y="549.4" width="60.3" height="2.0" fill="#FF7000"/><rect x="915.3" y="551.0" width="62.3" height="2.0" fill="#FF9900"/><rect x="908.7" y="552.6" width="62.7" height="2.0" fill="#33DD33"/><rect x="907.7" y="554.2" width="73.0" height="2.0" fill="#33DD33"/><rect x="915.3" y="555.8" width="55.4" height="2.0" fill="#FF9900"/><rect x="916.1" y="557.4" width="60.7" height="2.0" fill="#FFD000"/><rect x="911.0" y="559.0" width="61.5" height="2.0" fill="#FFD000"/><rect x="912.6" y="560.6" width="66.3" height="2.0" fill="#33DD33"/><rect x="911.6" y="562.2" width="66.0" height="2.0" fill="#FF7000"/><rect x="909.2" y="563.8" width="68.8" height="2.0" fill="#33DD33"/><rect x="907.8" y="565.4" width="63.5" height="2.0" fill="#FFD000"/><rect x="912.5" y="567.0" width="68.3" height="2.0" fill="#80F000"/><rect x="920.0" y="568.6" width="53.1" height="2.0" fill="#FFD000"/><rect x="915.6" y="570.2" width="56.8" height="2.0" fill="#80F000"/><rect x="915.1" y="571.8" width="66.8" height="2.0" fill="#F0F030"/><rect x="913.7" y="573.4" width="63.6" height="2.0" fill="#F0F030"/><clipPath id="c980880262"><path d="M917.0,574.0 Q919.4,565.0 933.0,563.1 Q924.2,554.6 925.0,547.0 A16.0,19.0 0 0 1 957.0,547.0 Q957.8,554.6 949.0,563.1 Q962.6,565.0 965.0,574.0 Z"/></clipPath><path d="M917.0,574.0 Q919.4,565.0 933.0,563.1 Q924.2,554.6 925.0,547.0 A16.0,19.0 0 0 1 957.0,547.0 Q957.8,554.6 949.0,563.1 Q962.6,565.0 965.0,574.0 Z" fill="#4030D0"/><g clip-path="url(#c980880262)"><rect x="961.0" y="531.4" width="3.0" height="1.7" fill="#60E0FF"/><rect x="923.7" y="562.8" width="2.7" height="2.2" fill="#30F090"/><rect x="932.4" y="561.8" width="1.2" height="1.2" fill="#60E0FF"/><rect x="934.1" y="566.3" width="2.8" height="2.1" fill="#30F090"/><rect x="931.9" y="571.9" width="2.4" height="2.4" fill="#00C0FF"/><rect x="921.7" y="542.9" width="1.3" height="2.4" fill="#00C0FF"/><rect x="958.9" y="549.7" width="1.1" height="1.6" fill="#30F090"/><rect x="926.6" y="560.3" width="2.2" height="1.7" fill="#60E0FF"/><rect x="935.6" y="563.8" width="1.3" height="2.1" fill="#00C0FF"/><rect x="954.1" y="542.9" width="1.0" height="2.2" fill="#2020A0"/><rect x="933.8" y="555.2" width="2.3" height="1.6" fill="#FF30C0"/><rect x="945.3" y="549.3" width="2.9" height="1.2" fill="#2020A0"/><rect x="964.1" y="543.1" width="2.7" height="1.4" fill="#8030FF"/><rect x="933.8" y="546.9" width="1.1" height="2.4" fill="#60E0FF"/><rect x="956.6" y="545.4" width="2.8" height="1.6" fill="#FF30C0"/><rect x="920.1" y="536.3" width="2.0" height="1.8" fill="#30F090"/><rect x="940.4" y="538.6" width="2.9" height="1.2" fill="#8030FF"/><rect x="941.0" y="534.9" width="3.5" height="1.5" fill="#00C0FF"/><rect x="943.5" y="543.3" width="1.4" height="2.4" fill="#60E0FF"/><rect x="934.1" y="541.9" width="1.6" height="1.2" fill="#00C0FF"/><rect x="958.3" y="561.9" width="1.9" height="1.2" fill="#00C0FF"/><rect x="945.0" y="569.4" width="3.3" height="2.0" fill="#8030FF"/><rect x="922.2" y="564.2" width="3.0" height="1.9" fill="#60E0FF"/><rect x="951.9" y="540.2" width="1.6" height="1.0" fill="#FF30C0"/><rect x="959.7" y="558.7" width="1.7" height="1.8" fill="#8030FF"/><rect x="940.3" y="540.5" width="1.7" height="1.4" fill="#FF30C0"/><rect x="924.3" y="545.9" width="3.1" height="1.8" fill="#00C0FF"/><rect x="946.3" y="553.0" width="2.8" height="1.8" fill="#2020A0"/><rect x="950.7" y="555.1" width="2.6" height="1.5" fill="#30F090"/><rect x="962.0" y="544.7" width="3.0" height="1.4" fill="#30F090"/><rect x="949.9" y="543.9" width="1.5" height="2.0" fill="#8030FF"/><rect x="944.2" y="544.0" width="1.6" height="2.4" fill="#3040FF"/><rect x="944.6" y="570.6" width="2.9" height="1.5" fill="#3040FF"/><rect x="921.9" y="554.0" width="1.3" height="2.5" fill="#8030FF"/><rect x="934.0" y="534.5" width="3.4" height="2.0" fill="#00C0FF"/><rect x="918.4" y="554.3" width="3.5" height="2.0" fill="#60E0FF"/><rect x="963.8" y="570.3" width="2.4" height="1.7" fill="#2020A0"/><rect x="925.9" y="552.2" width="1.9" height="1.7" fill="#00C0FF"/><rect x="959.2" y="532.7" width="1.3" height="1.3" fill="#2020A0"/><rect x="940.4" y="553.6" width="3.4" height="1.8" fill="#00C0FF"/><rect x="960.2" y="539.8" width="1.5" height="1.4" fill="#00C0FF"/><rect x="963.8" y="571.7" width="3.3" height="2.3" fill="#60E0FF"/><rect x="918.0" y="550.5" width="2.5" height="2.0" fill="#FF30C0"/><rect x="960.1" y="542.5" width="1.4" height="2.2" fill="#00C0FF"/><rect x="963.1" y="529.5" width="1.3" height="2.3" fill="#3040FF"/><rect x="936.9" y="534.9" width="1.5" height="1.9" fill="#60E0FF"/><rect x="944.8" y="562.8" width="3.0" height="1.0" fill="#3040FF"/><rect x="963.0" y="537.9" width="2.0" height="1.3" fill="#8030FF"/><rect x="933.1" y="543.9" width="1.0" height="2.2" fill="#8030FF"/><rect x="919.3" y="545.0" width="2.8" height="1.8" fill="#8030FF"/><rect x="938.8" y="538.8" width="3.2" height="1.3" fill="#00C0FF"/><rect x="927.1" y="548.8" width="1.6" height="2.4" fill="#00C0FF"/><rect x="928.4" y="558.1" width="1.7" height="1.8" fill="#8030FF"/><rect x="944.5" y="529.0" width="1.8" height="1.1" fill="#FF30C0"/><rect x="932.8" y="561.4" width="2.7" height="2.2" fill="#FF30C0"/><rect x="921.4" y="559.5" width="2.3" height="1.7" fill="#3040FF"/><rect x="936.9" y="573.5" width="1.9" height="1.5" fill="#3040FF"/><rect x="964.5" y="545.8" width="1.3" height="2.2" fill="#60E0FF"/><rect x="928.2" y="573.7" width="1.5" height="2.4" fill="#FF30C0"/><rect x="945.5" y="562.1" width="2.2" height="2.2" fill="#3040FF"/><rect x="919.5" y="529.5" width="3.4" height="1.6" fill="#00C0FF"/><rect x="923.9" y="537.5" width="3.2" height="2.4" fill="#8030FF"/><rect x="933.4" y="570.8" width="1.4" height="2.1" fill="#3040FF"/><rect x="926.2" y="534.2" width="2.7" height="2.3" fill="#2020A0"/><rect x="959.5" y="558.7" width="1.9" height="2.1" fill="#8030FF"/><rect x="924.0" y="568.1" width="3.5" height="2.1" fill="#2020A0"/><rect x="919.4" y="542.1" width="1.5" height="1.2" fill="#FF30C0"/><rect x="942.1" y="565.5" width="2.1" height="2.2" fill="#8030FF"/><rect x="962.5" y="531.7" width="1.6" height="1.1" fill="#8030FF"/><rect x="963.8" y="571.0" width="2.7" height="1.3" fill="#8030FF"/><rect x="947.6" y="532.8" width="2.2" height="2.3" fill="#FF30C0"/><rect x="939.1" y="555.7" width="3.1" height="1.7" fill="#00C0FF"/><rect x="924.1" y="549.6" width="2.7" height="1.7" fill="#FF30C0"/><rect x="936.2" y="530.4" width="1.4" height="1.3" fill="#2020A0"/><rect x="956.5" y="572.2" width="1.1" height="1.6" fill="#30F090"/><rect x="946.4" y="530.9" width="1.1" height="1.5" fill="#00C0FF"/><rect x="931.6" y="529.9" width="1.7" height="1.9" fill="#8030FF"/><rect x="950.0" y="539.5" width="2.9" height="1.2" fill="#00C0FF"/><rect x="959.4" y="554.7" width="2.0" height="1.8" fill="#30F090"/><rect x="929.3" y="571.7" width="2.2" height="2.0" fill="#FF30C0"/><rect x="957.9" y="568.6" width="1.4" height="1.8" fill="#8030FF"/><rect x="953.7" y="571.0" width="1.8" height="1.8" fill="#30F090"/><rect x="924.6" y="571.6" width="1.7" height="1.1" fill="#2020A0"/><rect x="917.2" y="550.1" width="1.3" height="2.1" fill="#60E0FF"/><rect x="941.7" y="545.4" width="1.0" height="1.7" fill="#8030FF"/><rect x="940.9" y="567.0" width="2.4" height="1.1" fill="#8030FF"/><rect x="940.9" y="550.2" width="2.6" height="2.5" fill="#8030FF"/><rect x="942.8" y="530.3" width="1.7" height="1.1" fill="#FF30C0"/><rect x="956.8" y="564.7" width="1.6" height="2.4" fill="#FF30C0"/><rect x="921.9" y="544.2" width="1.1" height="1.1" fill="#60E0FF"/><rect x="940.1" y="541.4" width="3.1" height="1.8" fill="#8030FF"/><rect x="961.5" y="557.7" width="2.7" height="1.7" fill="#8030FF"/><rect x="964.0" y="570.2" width="2.7" height="2.2" fill="#2020A0"/><rect x="930.1" y="541.7" width="3.2" height="1.2" fill="#30F090"/><rect x="931.6" y="539.2" width="3.3" height="1.0" fill="#FF30C0"/><rect x="948.6" y="549.7" width="2.6" height="2.0" fill="#30F090"/><rect x="961.8" y="557.6" width="1.2" height="2.0" fill="#3040FF"/><rect x="929.5" y="541.3" width="2.0" height="1.4" fill="#FF30C0"/><rect x="950.3" y="562.9" width="3.5" height="1.9" fill="#00C0FF"/><rect x="953.0" y="558.8" width="2.1" height="1.6" fill="#30F090"/><rect x="954.7" y="568.2" width="2.4" height="2.4" fill="#2020A0"/><rect x="961.4" y="538.3" width="2.8" height="1.1" fill="#00C0FF"/><rect x="941.0" y="573.0" width="1.6" height="1.9" fill="#3040FF"/><rect x="950.3" y="551.7" width="1.8" height="1.4" fill="#00C0FF"/><rect x="918.3" y="540.3" width="2.9" height="1.2" fill="#8030FF"/><rect x="961.5" y="569.9" width="1.7" height="2.4" fill="#FF30C0"/><rect x="931.5" y="549.4" width="1.1" height="1.2" fill="#00C0FF"/><rect x="942.1" y="550.4" width="1.1" height="2.3" fill="#FF30C0"/><rect x="919.4" y="562.8" width="2.3" height="1.4" fill="#FF30C0"/><rect x="934.5" y="548.0" width="2.0" height="1.5" fill="#8030FF"/><rect x="931.2" y="567.6" width="3.1" height="1.8" fill="#00C0FF"/><rect x="936.5" y="538.8" width="2.2" height="2.4" fill="#3040FF"/><rect x="937.6" y="549.9" width="2.0" height="1.9" fill="#60E0FF"/><rect x="947.8" y="571.2" width="3.3" height="1.4" fill="#FF30C0"/><rect x="937.1" y="528.6" width="1.2" height="1.3" fill="#3040FF"/><rect x="946.5" y="536.4" width="3.4" height="2.2" fill="#FF30C0"/><rect x="951.9" y="542.7" width="2.9" height="2.0" fill="#2020A0"/><rect x="919.8" y="530.8" width="3.4" height="2.4" fill="#00C0FF"/><rect x="962.8" y="568.9" width="1.1" height="1.1" fill="#8030FF"/><rect x="939.3" y="556.3" width="3.2" height="2.5" fill="#30F090"/><rect x="944.5" y="562.2" width="2.0" height="2.0" fill="#2020A0"/><rect x="958.4" y="546.8" width="1.2" height="1.8" fill="#00C0FF"/><rect x="919.6" y="549.8" width="1.0" height="1.1" fill="#30F090"/><rect x="952.1" y="556.5" width="1.5" height="1.4" fill="#2020A0"/><rect x="940.4" y="555.0" width="1.8" height="2.5" fill="#3040FF"/><rect x="933.1" y="529.0" width="3.1" height="2.1" fill="#FF30C0"/><rect x="936.7" y="546.3" width="3.2" height="1.4" fill="#60E0FF"/><rect x="921.4" y="540.3" width="1.5" height="2.0" fill="#00C0FF"/><rect x="938.7" y="542.5" width="2.6" height="1.6" fill="#8030FF"/><rect x="946.9" y="532.1" width="2.8" height="1.9" fill="#FF30C0"/><rect x="938.8" y="545.3" width="3.2" height="2.5" fill="#60E0FF"/><rect x="961.6" y="568.8" width="1.2" height="1.3" fill="#00C0FF"/><rect x="951.8" y="571.7" width="2.6" height="2.0" fill="#30F090"/><rect x="927.2" y="541.7" width="2.5" height="1.1" fill="#FF30C0"/><rect x="964.0" y="543.7" width="2.8" height="1.0" fill="#30F090"/><rect x="933.5" y="547.6" width="1.2" height="1.6" fill="#60E0FF"/><rect x="936.1" y="573.7" width="1.5" height="2.4" fill="#3040FF"/><rect x="940.9" y="530.4" width="1.5" height="2.0" fill="#3040FF"/><rect x="945.3" y="560.8" width="2.9" height="2.1" fill="#FF30C0"/><rect x="940.0" y="539.8" width="2.7" height="1.6" fill="#00C0FF"/><rect x="964.4" y="534.3" width="3.0" height="1.5" fill="#2020A0"/><rect x="941.4" y="529.0" width="2.9" height="1.5" fill="#30F090"/><rect x="932.7" y="570.4" width="3.0" height="1.7" fill="#30F090"/><rect x="930.9" y="565.1" width="2.1" height="1.2" fill="#FF30C0"/><rect x="919.3" y="549.3" width="2.4" height="1.7" fill="#3040FF"/><rect x="962.8" y="544.2" width="2.9" height="1.1" fill="#8030FF"/><rect x="943.2" y="535.7" width="1.9" height="1.3" fill="#2020A0"/><rect x="930.1" y="544.5" width="2.3" height="1.0" fill="#8030FF"/><rect x="936.1" y="546.6" width="3.0" height="1.9" fill="#60E0FF"/><rect x="961.8" y="539.5" width="1.4" height="1.2" fill="#3040FF"/><rect x="947.6" y="529.2" width="1.5" height="1.0" fill="#3040FF"/><rect x="950.4" y="529.3" width="3.0" height="2.3" fill="#00C0FF"/><rect x="947.0" y="544.7" width="1.8" height="2.2" fill="#00C0FF"/><rect x="957.6" y="560.3" width="1.1" height="2.4" fill="#60E0FF"/><rect x="944.4" y="556.0" width="3.5" height="1.3" fill="#00C0FF"/><rect x="945.9" y="542.7" width="2.6" height="2.4" fill="#60E0FF"/><rect x="938.1" y="547.8" width="3.1" height="2.4" fill="#2020A0"/><rect x="953.7" y="549.8" width="2.5" height="1.5" fill="#60E0FF"/><rect x="959.4" y="568.1" width="1.6" height="1.5" fill="#00C0FF"/><rect x="940.7" y="558.8" width="3.1" height="2.1" fill="#60E0FF"/><rect x="957.4" y="553.0" width="2.5" height="1.1" fill="#3040FF"/><rect x="945.5" y="563.0" width="2.2" height="1.8" fill="#30F090"/><rect x="920.0" y="532.7" width="1.1" height="2.0" fill="#00C0FF"/><rect x="943.6" y="530.0" width="1.4" height="2.0" fill="#3040FF"/><rect x="939.4" y="541.3" width="2.4" height="1.5" fill="#8030FF"/><rect x="917.2" y="570.5" width="1.7" height="1.0" fill="#8030FF"/><rect x="931.9" y="555.2" width="1.7" height="1.2" fill="#60E0FF"/><rect x="921.6" y="559.2" width="1.5" height="1.8" fill="#60E0FF"/><rect x="958.9" y="564.8" width="2.1" height="2.1" fill="#00C0FF"/><rect x="936.8" y="545.9" width="2.3" height="1.7" fill="#FF30C0"/></g><path d="M917.0,574.0 Q919.4,565.0 933.0,563.1 Q924.2,554.6 925.0,547.0 A16.0,19.0 0 0 1 957.0,547.0 Q957.8,554.6 949.0,563.1 Q962.6,565.0 965.0,574.0 Z" fill="none" stroke="#FF3090" stroke-width="1.3"/><ellipse cx="941.0" cy="549.9" rx="12.0" ry="13.3" fill="none" stroke="#FF3090" stroke-width="1.0"/><clipPath id="c617739606"><path d="M974.0,573.0 Q976.6,564.0 992.5,562.1 Q984.2,553.6 985.0,546.0 A15.0,19.0 0 0 1 1015.0,546.0 Q1015.8,553.6 1007.5,562.1 Q1023.4,564.0 1026.0,573.0 Z"/></clipPath><path d="M974.0,573.0 Q976.6,564.0 992.5,562.1 Q984.2,553.6 985.0,546.0 A15.0,19.0 0 0 1 1015.0,546.0 Q1015.8,553.6 1007.5,562.1 Q1023.4,564.0 1026.0,573.0 Z" fill="#4028B0"/><g clip-path="url(#c617739606)"><rect x="1001.7" y="563.3" width="3.2" height="1.3" fill="#3040FF"/><rect x="989.4" y="545.0" width="2.6" height="1.1" fill="#30F090"/><rect x="988.8" y="535.8" width="3.2" height="2.3" fill="#2020A0"/><rect x="998.1" y="544.1" width="3.4" height="1.1" fill="#FF30C0"/><rect x="1002.7" y="567.5" width="3.5" height="2.4" fill="#60E0FF"/><rect x="984.1" y="532.0" width="2.3" height="1.5" fill="#30F090"/><rect x="1000.8" y="541.3" width="3.2" height="1.8" fill="#3040FF"/><rect x="1001.7" y="532.2" width="3.2" height="2.2" fill="#2020A0"/><rect x="1007.3" y="532.1" width="2.4" height="2.4" fill="#30F090"/><rect x="1004.8" y="552.1" width="1.1" height="2.1" fill="#3040FF"/><rect x="998.1" y="568.4" width="2.7" height="1.3" fill="#30F090"/><rect x="1007.9" y="564.4" width="3.5" height="2.4" fill="#FF30C0"/><rect x="974.9" y="537.1" width="2.6" height="1.3" fill="#3040FF"/><rect x="986.6" y="541.3" width="1.4" height="2.3" fill="#FF30C0"/><rect x="979.3" y="556.3" width="1.7" height="2.2" fill="#2020A0"/><rect x="985.6" y="534.6" width="1.9" height="2.1" fill="#2020A0"/><rect x="981.3" y="536.3" width="1.1" height="1.2" fill="#30F090"/><rect x="1007.5" y="572.3" width="3.0" height="2.4" fill="#2020A0"/><rect x="983.6" y="556.2" width="2.5" height="2.4" fill="#3040FF"/><rect x="1019.0" y="541.0" width="3.2" height="2.0" fill="#30F090"/><rect x="1011.2" y="535.5" width="2.2" height="2.5" fill="#00C0FF"/><rect x="1004.7" y="539.4" width="1.5" height="1.1" fill="#8030FF"/><rect x="983.7" y="537.9" width="1.7" height="2.3" fill="#2020A0"/><rect x="980.2" y="556.1" width="2.6" height="2.0" fill="#2020A0"/><rect x="990.6" y="527.3" width="2.0" height="1.9" fill="#3040FF"/><rect x="1001.6" y="529.2" width="1.1" height="2.5" fill="#8030FF"/><rect x="1003.0" y="544.9" width="3.4" height="2.0" fill="#FF30C0"/><rect x="983.4" y="550.0" width="2.2" height="2.1" fill="#FF30C0"/><rect x="1006.6" y="547.6" width="2.2" height="1.1" fill="#FF30C0"/><rect x="1019.0" y="528.5" width="1.5" height="1.7" fill="#60E0FF"/><rect x="996.7" y="544.3" width="1.4" height="1.5" fill="#3040FF"/><rect x="992.2" y="530.1" width="1.7" height="1.9" fill="#3040FF"/><rect x="986.6" y="556.8" width="1.4" height="2.1" fill="#00C0FF"/><rect x="1018.0" y="554.7" width="3.3" height="1.1" fill="#3040FF"/><rect x="986.0" y="535.3" width="2.1" height="1.7" fill="#3040FF"/><rect x="1007.3" y="534.7" width="1.4" height="1.8" fill="#30F090"/><rect x="995.3" y="544.4" width="2.9" height="1.1" fill="#3040FF"/><rect x="998.7" y="528.8" width="2.5" height="1.3" fill="#8030FF"/><rect x="1022.6" y="546.4" width="3.0" height="2.3" fill="#8030FF"/><rect x="1002.2" y="570.2" width="1.3" height="1.6" fill="#2020A0"/><rect x="1019.8" y="569.5" width="1.3" height="2.0" fill="#8030FF"/><rect x="988.8" y="540.5" width="2.9" height="2.2" fill="#2020A0"/><rect x="1012.1" y="556.6" width="2.6" height="2.3" fill="#8030FF"/><rect x="1013.8" y="532.2" width="3.4" height="2.1" fill="#60E0FF"/><rect x="1009.6" y="554.2" width="2.7" height="1.9" fill="#FF30C0"/><rect x="1020.2" y="539.8" width="1.6" height="1.7" fill="#8030FF"/><rect x="1023.9" y="533.6" width="2.0" height="1.8" fill="#00C0FF"/><rect x="1014.4" y="557.2" width="2.1" height="1.9" fill="#00C0FF"/><rect x="990.8" y="554.9" width="1.5" height="1.7" fill="#60E0FF"/><rect x="1018.8" y="528.4" width="1.5" height="1.8" fill="#FF30C0"/><rect x="983.9" y="566.1" width="1.5" height="1.8" fill="#8030FF"/><rect x="1012.1" y="532.3" width="2.7" height="1.9" fill="#2020A0"/><rect x="988.3" y="572.6" width="2.6" height="1.1" fill="#2020A0"/><rect x="1021.8" y="563.9" width="1.4" height="1.7" fill="#30F090"/><rect x="1022.6" y="546.4" width="1.8" height="1.6" fill="#8030FF"/><rect x="1011.6" y="562.9" width="2.3" height="1.9" fill="#60E0FF"/><rect x="1008.1" y="571.1" width="1.3" height="1.9" fill="#2020A0"/><rect x="975.8" y="546.0" width="1.5" height="2.1" fill="#FF30C0"/><rect x="1009.0" y="543.5" width="2.6" height="1.6" fill="#3040FF"/><rect x="981.2" y="558.1" width="1.6" height="1.4" fill="#30F090"/><rect x="1018.5" y="544.1" width="1.3" height="2.0" fill="#3040FF"/><rect x="998.8" y="531.6" width="2.5" height="2.3" fill="#00C0FF"/><rect x="1001.6" y="532.9" width="2.5" height="2.2" fill="#8030FF"/><rect x="1021.8" y="544.2" width="2.6" height="1.6" fill="#30F090"/><rect x="1002.8" y="553.8" width="3.2" height="2.0" fill="#8030FF"/><rect x="988.9" y="562.6" width="2.6" height="1.7" fill="#3040FF"/><rect x="997.0" y="566.2" width="2.2" height="2.4" fill="#00C0FF"/><rect x="1000.5" y="529.7" width="1.3" height="1.9" fill="#2020A0"/><rect x="979.0" y="571.1" width="2.8" height="1.1" fill="#FF30C0"/><rect x="1000.3" y="564.0" width="2.0" height="2.4" fill="#30F090"/><rect x="1022.3" y="558.4" width="3.1" height="1.1" fill="#3040FF"/><rect x="976.4" y="545.4" width="1.2" height="2.0" fill="#00C0FF"/><rect x="997.1" y="553.2" width="1.2" height="1.3" fill="#00C0FF"/><rect x="997.1" y="540.6" width="1.9" height="2.3" fill="#00C0FF"/><rect x="1011.9" y="527.1" width="1.4" height="1.2" fill="#00C0FF"/><rect x="981.1" y="568.0" width="2.9" height="1.1" fill="#2020A0"/><rect x="982.0" y="542.3" width="1.5" height="2.5" fill="#8030FF"/><rect x="1022.6" y="542.4" width="1.4" height="2.2" fill="#3040FF"/><rect x="1002.7" y="571.9" width="1.8" height="1.6" fill="#60E0FF"/><rect x="1013.7" y="565.1" width="3.3" height="1.3" fill="#30F090"/><rect x="989.7" y="569.2" width="1.5" height="2.0" fill="#3040FF"/><rect x="995.8" y="534.2" width="2.1" height="1.3" fill="#3040FF"/><rect x="1011.6" y="568.6" width="3.0" height="1.1" fill="#FF30C0"/><rect x="986.4" y="565.8" width="2.3" height="1.8" fill="#8030FF"/><rect x="986.9" y="552.4" width="1.8" height="1.3" fill="#2020A0"/><rect x="987.7" y="538.2" width="2.7" height="2.3" fill="#2020A0"/><rect x="985.6" y="529.9" width="2.3" height="1.3" fill="#00C0FF"/><rect x="1017.0" y="549.8" width="2.6" height="1.5" fill="#8030FF"/><rect x="978.0" y="537.4" width="2.5" height="1.4" fill="#3040FF"/><rect x="1010.5" y="554.5" width="2.5" height="2.2" fill="#FF30C0"/><rect x="1015.2" y="563.0" width="2.1" height="1.4" fill="#8030FF"/><rect x="1021.4" y="563.0" width="1.3" height="1.4" fill="#30F090"/><rect x="992.3" y="566.0" width="3.0" height="2.0" fill="#60E0FF"/><rect x="989.0" y="558.4" width="1.1" height="1.6" fill="#FF30C0"/><rect x="979.2" y="563.7" width="3.3" height="1.5" fill="#30F090"/><rect x="1007.1" y="559.2" width="3.5" height="1.8" fill="#2020A0"/><rect x="978.4" y="538.7" width="2.9" height="1.3" fill="#3040FF"/><rect x="992.3" y="548.8" width="1.5" height="1.4" fill="#30F090"/><rect x="1015.9" y="541.1" width="2.2" height="1.3" fill="#FF30C0"/><rect x="1015.7" y="542.0" width="1.5" height="1.2" fill="#3040FF"/><rect x="978.3" y="561.4" width="2.4" height="1.4" fill="#30F090"/><rect x="1005.1" y="541.7" width="1.1" height="1.6" fill="#8030FF"/><rect x="987.4" y="533.1" width="2.6" height="2.1" fill="#2020A0"/><rect x="1003.9" y="532.8" width="3.0" height="1.1" fill="#FF30C0"/><rect x="1008.1" y="550.2" width="1.4" height="1.9" fill="#8030FF"/><rect x="1025.6" y="553.6" width="3.2" height="2.4" fill="#60E0FF"/><rect x="997.6" y="528.6" width="1.3" height="1.5" fill="#3040FF"/><rect x="982.2" y="551.4" width="2.0" height="1.8" fill="#2020A0"/><rect x="1020.6" y="555.0" width="3.1" height="2.1" fill="#30F090"/><rect x="978.8" y="533.7" width="1.1" height="1.2" fill="#60E0FF"/><rect x="990.1" y="547.2" width="2.2" height="1.8" fill="#8030FF"/><rect x="1006.7" y="555.1" width="1.3" height="1.5" fill="#30F090"/><rect x="974.1" y="552.2" width="1.2" height="2.3" fill="#3040FF"/><rect x="992.1" y="556.8" width="2.7" height="2.1" fill="#00C0FF"/><rect x="995.5" y="550.9" width="1.5" height="1.7" fill="#8030FF"/><rect x="977.1" y="548.4" width="2.4" height="1.9" fill="#FF30C0"/><rect x="1001.7" y="553.8" width="1.0" height="2.5" fill="#60E0FF"/><rect x="1007.9" y="555.8" width="2.2" height="2.0" fill="#30F090"/><rect x="983.3" y="561.8" width="3.0" height="2.4" fill="#00C0FF"/><rect x="1007.6" y="543.8" width="2.1" height="2.4" fill="#3040FF"/><rect x="1021.3" y="548.8" width="1.3" height="1.5" fill="#00C0FF"/><rect x="988.8" y="566.0" width="2.3" height="1.5" fill="#30F090"/><rect x="975.4" y="562.7" width="3.0" height="1.8" fill="#2020A0"/><rect x="1019.5" y="571.7" width="2.7" height="1.2" fill="#FF30C0"/><rect x="994.1" y="543.5" width="1.1" height="1.1" fill="#30F090"/><rect x="1008.8" y="537.3" width="1.9" height="1.1" fill="#00C0FF"/><rect x="993.2" y="541.3" width="1.3" height="1.9" fill="#60E0FF"/><rect x="1006.2" y="542.5" width="1.5" height="1.5" fill="#30F090"/><rect x="1013.8" y="537.6" width="2.8" height="2.2" fill="#3040FF"/><rect x="984.4" y="544.4" width="2.2" height="1.1" fill="#60E0FF"/></g><path d="M974.0,573.0 Q976.6,564.0 992.5,562.1 Q984.2,553.6 985.0,546.0 A15.0,19.0 0 0 1 1015.0,546.0 Q1015.8,553.6 1007.5,562.1 Q1023.4,564.0 1026.0,573.0 Z" fill="none" stroke="#FF2020" stroke-width="1.6"/><ellipse cx="1000.0" cy="548.9" rx="11.2" ry="13.3" fill="none" stroke="#FF2020" stroke-width="1.3"/><rect x="1037.0" y="531.0" width="46.5" height="2.0" fill="#90E8C0"/><rect x="1034.9" y="532.6" width="52.1" height="2.0" fill="#90E8C0"/><rect x="1043.3" y="534.2" width="44.0" height="2.0" fill="#90E8C0"/><rect x="1040.0" y="535.8" width="38.4" height="2.0" fill="#40C8C0"/><rect x="1035.7" y="537.4" width="42.4" height="2.0" fill="#60E0A0"/><rect x="1043.3" y="539.0" width="42.5" height="2.0" fill="#50B8D0"/><rect x="1037.0" y="540.6" width="46.6" height="2.0" fill="#90E8C0"/><rect x="1036.0" y="542.2" width="43.0" height="2.0" fill="#40C8C0"/><rect x="1034.5" y="543.8" width="50.6" height="2.0" fill="#90E8C0"/><rect x="1042.1" y="545.4" width="41.9" height="2.0" fill="#40C8C0"/><rect x="1040.0" y="547.0" width="39.9" height="2.0" fill="#40C8C0"/><rect x="1038.1" y="548.6" width="45.8" height="2.0" fill="#90E8C0"/><rect x="1038.4" y="550.2" width="44.6" height="2.0" fill="#40C8C0"/><rect x="1037.1" y="551.8" width="48.2" height="2.0" fill="#90E8C0"/><rect x="1038.0" y="553.4" width="44.4" height="2.0" fill="#90E8C0"/><rect x="1037.7" y="555.0" width="45.7" height="2.0" fill="#40C8C0"/><rect x="1037.4" y="556.6" width="45.7" height="2.0" fill="#50B8D0"/><rect x="1034.9" y="558.2" width="46.8" height="2.0" fill="#40C8C0"/><rect x="1037.0" y="559.8" width="48.1" height="2.0" fill="#40C8C0"/><rect x="1036.4" y="561.4" width="43.6" height="2.0" fill="#40C8C0"/><rect x="1041.3" y="563.0" width="46.4" height="2.0" fill="#40C8C0"/><rect x="1038.4" y="564.6" width="44.3" height="2.0" fill="#40C8C0"/><rect x="1038.2" y="566.2" width="45.8" height="2.0" fill="#50B8D0"/><rect x="1035.0" y="567.8" width="49.2" height="2.0" fill="#90E8C0"/><rect x="1039.0" y="569.4" width="41.0" height="2.0" fill="#60E0A0"/><path d="M1037.0,575.0 Q1039.5,562.2 1055.2,560.6 Q1047.8,553.4 1048.5,547.0 A13.5,16.0 0 0 1 1075.5,547.0 Q1076.2,553.4 1068.8,560.6 Q1084.5,562.2 1087.0,575.0 Z" fill="#8C8C8C"/><ellipse cx="1062" cy="545.4" rx="14.2" ry="15.2" fill="#5A5252"/><ellipse cx="1062" cy="550.2" rx="11.5" ry="12.5" fill="#A4A4A4"/><ellipse cx="1057.3" cy="548.6" rx="2.0" ry="1.0" fill="#3a3a3a"/><ellipse cx="1066.7" cy="548.6" rx="2.0" ry="1.0" fill="#3a3a3a"/><path d="M1058.0,555.8 Q1062.0,557.6 1066.0,555.8" stroke="#555" fill="none" stroke-width="0.9"/><rect x="1106.1" y="528.0" width="53.4" height="2.0" fill="#00B8F0"/><rect x="1108.8" y="529.6" width="46.2" height="2.0" fill="#00B8F0"/><rect x="1107.8" y="531.2" width="46.9" height="2.0" fill="#33DD33"/><rect x="1108.0" y="532.8" width="47.1" height="2.0" fill="#00B8F0"/><rect x="1105.2" y="534.4" width="48.9" height="2.0" fill="#33DD33"/><rect x="1105.2" y="536.0" width="58.2" height="2.0" fill="#33DD33"/><rect x="1109.4" y="537.6" width="53.6" height="2.0" fill="#A8F030"/><rect x="1099.7" y="539.2" width="56.2" height="2.0" fill="#C0F040"/><rect x="1099.3" y="540.8" width="58.0" height="2.0" fill="#00C8D0"/><rect x="1098.1" y="542.4" width="64.2" height="2.0" fill="#00C8D0"/><rect x="1108.5" y="544.0" width="47.1" height="2.0" fill="#A8F030"/><rect x="1109.5" y="545.6" width="50.6" height="2.0" fill="#C0F040"/><rect x="1106.8" y="547.2" width="57.5" height="2.0" fill="#00B8F0"/><rect x="1098.9" y="548.8" width="60.8" height="2.0" fill="#40D8D0"/><rect x="1102.1" y="550.4" width="61.7" height="2.0" fill="#00C8D0"/><rect x="1109.2" y="552.0" width="54.3" height="2.0" fill="#C0F040"/><rect x="1099.5" y="553.6" width="58.9" height="2.0" fill="#00B8F0"/><rect x="1099.3" y="555.2" width="61.7" height="2.0" fill="#00C8D0"/><rect x="1104.2" y="556.8" width="54.5" height="2.0" fill="#00E0A0"/><rect x="1105.2" y="558.4" width="48.6" height="2.0" fill="#00B8F0"/><rect x="1100.7" y="560.0" width="61.3" height="2.0" fill="#C0F040"/><rect x="1109.0" y="561.6" width="50.3" height="2.0" fill="#22CC88"/><rect x="1105.9" y="563.2" width="55.6" height="2.0" fill="#33DD33"/><rect x="1099.6" y="564.8" width="54.3" height="2.0" fill="#33DD33"/><rect x="1105.9" y="566.4" width="57.9" height="2.0" fill="#70F000"/><rect x="1107.4" y="568.0" width="46.8" height="2.0" fill="#A8F030"/><rect x="1104.6" y="569.6" width="55.1" height="2.0" fill="#A8F030"/><rect x="1109.7" y="571.2" width="46.7" height="2.0" fill="#C0F040"/><rect x="1099.5" y="572.8" width="61.2" height="2.0" fill="#00B8F0"/><rect x="1107.2" y="574.4" width="46.4" height="2.0" fill="#22CC88"/><clipPath id="c796572932"><path d="M1101.0,576.0 Q1103.4,565.0 1117.5,563.1 Q1109.2,554.6 1110.0,547.0 A15.0,19.0 0 0 1 1140.0,547.0 Q1140.8,554.6 1132.5,563.1 Q1146.6,565.0 1149.0,576.0 Z"/></clipPath><path d="M1101.0,576.0 Q1103.4,565.0 1117.5,563.1 Q1109.2,554.6 1110.0,547.0 A15.0,19.0 0 0 1 1140.0,547.0 Q1140.8,554.6 1132.5,563.1 Q1146.6,565.0 1149.0,576.0 Z" fill="#5020E0"/><g clip-path="url(#c796572932)"><rect x="1131.7" y="535.0" width="3.4" height="1.3" fill="#FF40FF"/><rect x="1136.7" y="533.6" width="1.1" height="2.1" fill="#D070FF"/><rect x="1141.7" y="567.4" width="2.4" height="1.1" fill="#7020C0"/><rect x="1145.9" y="563.7" width="1.1" height="1.6" fill="#20D0FF"/><rect x="1136.1" y="551.4" width="3.2" height="2.5" fill="#D070FF"/><rect x="1142.0" y="537.6" width="1.8" height="1.7" fill="#B030FF"/><rect x="1131.7" y="531.3" width="3.3" height="2.1" fill="#2040FF"/><rect x="1120.4" y="573.3" width="1.4" height="1.7" fill="#2040FF"/><rect x="1127.3" y="533.2" width="1.0" height="1.6" fill="#FF40FF"/><rect x="1141.1" y="534.6" width="3.4" height="2.2" fill="#20D0FF"/><rect x="1144.8" y="560.5" width="1.1" height="2.3" fill="#20D0FF"/><rect x="1109.3" y="542.7" width="1.4" height="1.1" fill="#7020C0"/><rect x="1104.4" y="559.9" width="1.1" height="2.0" fill="#B030FF"/><rect x="1133.1" y="557.1" width="3.0" height="2.4" fill="#2040FF"/><rect x="1140.5" y="550.2" width="2.9" height="1.9" fill="#20D0FF"/><rect x="1131.6" y="569.4" width="2.5" height="1.5" fill="#B030FF"/><rect x="1132.0" y="543.5" width="2.2" height="1.7" fill="#FF40FF"/><rect x="1141.9" y="565.1" width="3.5" height="1.7" fill="#7020C0"/><rect x="1120.0" y="528.5" width="1.8" height="1.5" fill="#20D0FF"/><rect x="1120.0" y="541.2" width="2.7" height="1.1" fill="#4040FF"/><rect x="1136.7" y="563.7" width="1.2" height="1.8" fill="#4040FF"/><rect x="1139.5" y="544.3" width="3.4" height="1.3" fill="#20D0FF"/><rect x="1115.4" y="543.6" width="2.3" height="1.6" fill="#7020C0"/><rect x="1115.0" y="551.4" width="2.3" height="1.4" fill="#20D0FF"/><rect x="1118.2" y="547.6" width="3.2" height="2.4" fill="#2040FF"/><rect x="1138.0" y="561.6" width="2.5" height="2.3" fill="#7020C0"/><rect x="1119.1" y="544.6" width="1.6" height="1.1" fill="#2040FF"/><rect x="1148.5" y="565.2" width="1.4" height="1.9" fill="#20D0FF"/><rect x="1122.0" y="550.2" width="2.0" height="1.5" fill="#4040FF"/><rect x="1103.9" y="549.1" width="3.1" height="2.1" fill="#B030FF"/><rect x="1113.5" y="538.5" width="1.8" height="1.9" fill="#4040FF"/><rect x="1141.7" y="574.9" width="2.4" height="1.3" fill="#7020C0"/><rect x="1145.2" y="540.2" width="3.1" height="1.1" fill="#20D0FF"/><rect x="1139.9" y="551.1" width="2.3" height="2.0" fill="#FF40FF"/><rect x="1135.4" y="553.3" width="1.0" height="2.2" fill="#B030FF"/><rect x="1141.6" y="564.9" width="2.8" height="2.3" fill="#D070FF"/><rect x="1102.3" y="561.6" width="1.1" height="1.8" fill="#D070FF"/><rect x="1133.5" y="533.6" width="2.8" height="2.1" fill="#4040FF"/><rect x="1135.5" y="568.4" width="1.3" height="1.8" fill="#2040FF"/><rect x="1114.2" y="541.8" width="3.2" height="1.5" fill="#2040FF"/><rect x="1120.0" y="537.8" width="3.3" height="1.2" fill="#B030FF"/><rect x="1137.1" y="575.1" width="2.5" height="1.1" fill="#FF40FF"/><rect x="1144.5" y="561.9" width="1.8" height="1.6" fill="#4040FF"/><rect x="1114.0" y="532.1" width="1.0" height="2.3" fill="#FF40FF"/><rect x="1124.7" y="548.2" width="1.9" height="2.4" fill="#4040FF"/><rect x="1115.7" y="537.0" width="2.1" height="1.7" fill="#4040FF"/><rect x="1130.2" y="570.0" width="1.1" height="2.1" fill="#FF40FF"/><rect x="1116.5" y="568.8" width="3.0" height="1.3" fill="#4040FF"/><rect x="1108.5" y="574.4" width="3.3" height="2.4" fill="#20D0FF"/><rect x="1124.6" y="567.4" width="3.1" height="1.3" fill="#FF40FF"/><rect x="1115.2" y="530.0" width="3.2" height="1.5" fill="#B030FF"/><rect x="1142.6" y="530.2" width="3.4" height="1.4" fill="#2040FF"/><rect x="1132.6" y="532.6" width="2.3" height="1.1" fill="#D070FF"/><rect x="1105.8" y="563.5" width="2.1" height="1.2" fill="#20D0FF"/><rect x="1119.9" y="566.0" width="1.0" height="1.8" fill="#20D0FF"/><rect x="1112.6" y="549.5" width="1.4" height="1.7" fill="#FF40FF"/><rect x="1107.0" y="568.8" width="1.6" height="2.5" fill="#20D0FF"/><rect x="1134.3" y="548.0" width="1.1" height="1.2" fill="#7020C0"/><rect x="1141.8" y="570.3" width="2.0" height="2.5" fill="#FF40FF"/><rect x="1104.0" y="549.6" width="2.4" height="2.5" fill="#FF40FF"/><rect x="1107.1" y="532.0" width="3.0" height="1.9" fill="#D070FF"/><rect x="1121.0" y="573.9" width="1.0" height="1.4" fill="#B030FF"/><rect x="1129.5" y="558.9" width="3.0" height="2.2" fill="#FF40FF"/><rect x="1129.1" y="549.7" width="2.0" height="1.8" fill="#7020C0"/><rect x="1142.6" y="560.7" width="3.0" height="1.7" fill="#FF40FF"/><rect x="1141.1" y="567.8" width="3.0" height="1.3" fill="#4040FF"/><rect x="1110.7" y="549.4" width="2.1" height="1.7" fill="#FF40FF"/><rect x="1114.9" y="548.7" width="3.2" height="2.5" fill="#2040FF"/><rect x="1110.2" y="564.9" width="3.2" height="1.5" fill="#20D0FF"/><rect x="1104.1" y="560.5" width="3.4" height="1.8" fill="#FF40FF"/><rect x="1127.6" y="553.7" width="1.9" height="2.5" fill="#2040FF"/><rect x="1121.0" y="567.3" width="2.8" height="2.3" fill="#D070FF"/><rect x="1125.2" y="566.2" width="3.4" height="1.2" fill="#20D0FF"/><rect x="1120.6" y="535.0" width="2.1" height="1.1" fill="#B030FF"/><rect x="1125.4" y="559.4" width="1.3" height="1.2" fill="#B030FF"/><rect x="1130.3" y="569.6" width="2.4" height="1.2" fill="#4040FF"/><rect x="1145.0" y="557.5" width="3.4" height="1.9" fill="#20D0FF"/><rect x="1103.3" y="537.6" width="2.1" height="2.3" fill="#FF40FF"/><rect x="1129.4" y="540.5" width="1.1" height="1.8" fill="#D070FF"/><rect x="1141.6" y="552.6" width="2.2" height="1.3" fill="#D070FF"/><rect x="1102.4" y="566.8" width="3.2" height="1.2" fill="#B030FF"/><rect x="1117.8" y="544.5" width="1.5" height="1.3" fill="#7020C0"/><rect x="1126.4" y="562.9" width="2.4" height="1.4" fill="#FF40FF"/><rect x="1113.4" y="569.7" width="2.7" height="2.3" fill="#4040FF"/><rect x="1109.1" y="554.7" width="1.1" height="2.2" fill="#B030FF"/><rect x="1115.9" y="533.4" width="1.1" height="1.9" fill="#FF40FF"/><rect x="1104.2" y="537.2" width="2.7" height="2.3" fill="#D070FF"/><rect x="1114.1" y="545.4" width="3.3" height="2.2" fill="#2040FF"/><rect x="1135.8" y="536.3" width="2.5" height="1.4" fill="#FF40FF"/><rect x="1128.9" y="543.5" width="1.9" height="1.9" fill="#FF40FF"/><rect x="1148.5" y="546.8" width="1.4" height="2.3" fill="#7020C0"/><rect x="1102.3" y="545.6" width="2.1" height="2.3" fill="#20D0FF"/><rect x="1115.2" y="570.7" width="3.1" height="1.1" fill="#FF40FF"/><rect x="1127.8" y="554.5" width="1.6" height="1.2" fill="#D070FF"/><rect x="1116.0" y="533.1" width="3.3" height="1.0" fill="#D070FF"/><rect x="1125.9" y="549.8" width="1.4" height="2.2" fill="#B030FF"/><rect x="1134.3" y="560.8" width="3.1" height="1.0" fill="#7020C0"/><rect x="1104.8" y="553.1" width="1.4" height="2.0" fill="#20D0FF"/><rect x="1139.2" y="565.6" width="2.2" height="1.2" fill="#20D0FF"/><rect x="1123.3" y="561.1" width="1.5" height="2.1" fill="#20D0FF"/><rect x="1145.7" y="542.4" width="1.7" height="2.1" fill="#FF40FF"/><rect x="1114.8" y="545.9" width="2.1" height="2.1" fill="#7020C0"/><rect x="1127.4" y="545.1" width="1.4" height="1.8" fill="#20D0FF"/><rect x="1148.8" y="557.8" width="2.0" height="1.1" fill="#B030FF"/><rect x="1116.2" y="564.1" width="3.1" height="1.3" fill="#2040FF"/><rect x="1121.9" y="563.6" width="2.5" height="2.0" fill="#20D0FF"/><rect x="1118.4" y="568.7" width="1.7" height="2.3" fill="#20D0FF"/><rect x="1134.8" y="548.5" width="3.4" height="1.7" fill="#FF40FF"/><rect x="1119.8" y="557.8" width="1.7" height="1.0" fill="#FF40FF"/><rect x="1109.5" y="562.2" width="1.4" height="1.8" fill="#4040FF"/><rect x="1105.3" y="569.2" width="1.0" height="2.5" fill="#D070FF"/><rect x="1104.7" y="565.7" width="3.4" height="2.3" fill="#4040FF"/><rect x="1122.2" y="569.7" width="1.3" height="1.8" fill="#D070FF"/><rect x="1140.2" y="528.2" width="2.4" height="1.6" fill="#FF40FF"/><rect x="1146.8" y="556.7" width="1.7" height="1.8" fill="#2040FF"/><rect x="1129.3" y="572.1" width="1.6" height="1.5" fill="#D070FF"/><rect x="1108.7" y="539.1" width="2.1" height="1.6" fill="#20D0FF"/><rect x="1143.6" y="550.4" width="2.6" height="2.0" fill="#2040FF"/><rect x="1109.5" y="557.7" width="2.7" height="2.1" fill="#4040FF"/><rect x="1113.2" y="562.2" width="2.1" height="2.0" fill="#4040FF"/><rect x="1130.2" y="557.9" width="2.0" height="2.5" fill="#D070FF"/><rect x="1120.2" y="555.7" width="2.3" height="1.8" fill="#20D0FF"/><rect x="1112.2" y="535.3" width="1.5" height="1.5" fill="#B030FF"/><rect x="1101.7" y="530.5" width="3.0" height="1.4" fill="#B030FF"/><rect x="1138.9" y="572.5" width="1.3" height="1.7" fill="#FF40FF"/><rect x="1116.7" y="560.9" width="2.0" height="1.7" fill="#2040FF"/><rect x="1147.5" y="559.1" width="3.1" height="1.9" fill="#B030FF"/><rect x="1133.3" y="539.5" width="1.9" height="1.7" fill="#B030FF"/><rect x="1120.9" y="548.5" width="1.6" height="1.2" fill="#2040FF"/><rect x="1139.7" y="541.1" width="2.5" height="1.1" fill="#FF40FF"/><rect x="1103.6" y="543.9" width="2.0" height="1.2" fill="#B030FF"/><rect x="1134.1" y="556.1" width="2.9" height="2.5" fill="#4040FF"/><rect x="1112.6" y="551.1" width="1.5" height="1.9" fill="#4040FF"/><rect x="1105.1" y="559.0" width="1.3" height="1.1" fill="#B030FF"/><rect x="1103.1" y="529.4" width="3.2" height="2.2" fill="#20D0FF"/><rect x="1122.4" y="535.1" width="2.7" height="2.5" fill="#20D0FF"/><rect x="1112.1" y="562.4" width="1.5" height="2.1" fill="#D070FF"/><rect x="1138.7" y="539.9" width="3.0" height="1.2" fill="#FF40FF"/><rect x="1105.0" y="538.7" width="2.6" height="1.4" fill="#B030FF"/><rect x="1146.3" y="548.8" width="3.0" height="2.4" fill="#D070FF"/><rect x="1113.4" y="528.5" width="3.5" height="1.4" fill="#D070FF"/><rect x="1132.6" y="572.2" width="2.7" height="1.5" fill="#20D0FF"/><rect x="1141.2" y="568.6" width="1.5" height="1.5" fill="#2040FF"/><rect x="1124.1" y="552.6" width="1.4" height="2.1" fill="#4040FF"/><rect x="1143.3" y="528.8" width="1.8" height="1.8" fill="#7020C0"/><rect x="1133.8" y="548.4" width="3.0" height="1.8" fill="#B030FF"/><rect x="1124.6" y="557.0" width="2.9" height="1.6" fill="#20D0FF"/><rect x="1124.0" y="563.5" width="1.4" height="1.9" fill="#B030FF"/><rect x="1120.0" y="568.6" width="2.9" height="1.2" fill="#20D0FF"/><rect x="1147.3" y="545.7" width="1.0" height="2.1" fill="#7020C0"/><rect x="1109.2" y="554.3" width="2.2" height="1.7" fill="#B030FF"/><rect x="1138.4" y="564.8" width="1.6" height="1.8" fill="#2040FF"/><rect x="1128.3" y="536.9" width="2.3" height="1.3" fill="#2040FF"/><rect x="1110.0" y="553.2" width="2.5" height="1.7" fill="#7020C0"/><rect x="1131.5" y="555.8" width="2.2" height="1.7" fill="#2040FF"/><rect x="1126.5" y="570.3" width="3.5" height="2.2" fill="#2040FF"/><rect x="1143.9" y="571.5" width="2.3" height="1.9" fill="#B030FF"/><rect x="1132.7" y="539.9" width="2.5" height="1.8" fill="#20D0FF"/><rect x="1118.0" y="571.2" width="1.4" height="2.4" fill="#B030FF"/><rect x="1143.5" y="543.3" width="1.8" height="1.7" fill="#D070FF"/><rect x="1128.6" y="571.2" width="1.1" height="1.8" fill="#7020C0"/><rect x="1129.0" y="547.5" width="2.7" height="1.8" fill="#4040FF"/><rect x="1116.1" y="567.8" width="2.0" height="1.8" fill="#20D0FF"/><rect x="1121.6" y="541.5" width="3.0" height="2.0" fill="#20D0FF"/><rect x="1146.7" y="534.6" width="3.3" height="2.5" fill="#2040FF"/><rect x="1133.7" y="566.2" width="2.6" height="1.2" fill="#4040FF"/><rect x="1117.7" y="558.8" width="2.3" height="1.9" fill="#FF40FF"/><rect x="1144.3" y="571.4" width="2.9" height="1.3" fill="#4040FF"/><rect x="1140.2" y="541.9" width="2.7" height="1.2" fill="#4040FF"/><rect x="1137.8" y="575.2" width="2.5" height="2.0" fill="#20D0FF"/></g><circle cx="1119.3" cy="548.0" r="2.0" fill="#40F080"/><circle cx="1130.7" cy="548.0" r="2.0" fill="#40F080"/><rect x="932.7" y="583.0" width="30.3" height="2.0" fill="#FFE030"/><rect x="926.9" y="584.6" width="42.2" height="2.0" fill="#00D0E0"/><rect x="934.0" y="586.2" width="32.6" height="2.0" fill="#40F080"/><rect x="935.1" y="587.8" width="28.5" height="2.0" fill="#FFE030"/><rect x="933.2" y="589.4" width="30.1" height="2.0" fill="#C0F020"/><rect x="932.6" y="591.0" width="43.6" height="2.0" fill="#20E0A0"/><rect x="933.2" y="592.6" width="44.4" height="2.0" fill="#80F040"/><rect x="933.6" y="594.2" width="42.4" height="2.0" fill="#30B8FF"/><rect x="928.5" y="595.8" width="51.2" height="2.0" fill="#80F040"/><rect x="933.7" y="597.4" width="44.6" height="2.0" fill="#C0F020"/><rect x="927.3" y="599.0" width="47.5" height="2.0" fill="#FFE030"/><rect x="928.4" y="600.6" width="41.1" height="2.0" fill="#30B8FF"/><rect x="933.1" y="602.2" width="46.2" height="2.0" fill="#C0F020"/><rect x="930.5" y="603.8" width="46.7" height="2.0" fill="#C0F020"/><rect x="931.9" y="605.4" width="38.9" height="2.0" fill="#00D0E0"/><rect x="935.2" y="607.0" width="36.3" height="2.0" fill="#00D0E0"/><rect x="921.4" y="608.6" width="59.6" height="2.0" fill="#C0F020"/><rect x="926.2" y="610.2" width="50.8" height="2.0" fill="#C0F020"/><rect x="924.8" y="611.8" width="54.6" height="2.0" fill="#00D0E0"/><rect x="926.4" y="613.4" width="55.7" height="2.0" fill="#20E0A0"/><rect x="932.6" y="615.0" width="47.1" height="2.0" fill="#00D0E0"/><rect x="926.8" y="616.6" width="41.8" height="2.0" fill="#40F080"/><rect x="931.3" y="618.2" width="39.8" height="2.0" fill="#30B8FF"/><rect x="934.9" y="619.8" width="43.3" height="2.0" fill="#80F040"/><rect x="927.3" y="621.4" width="57.3" height="2.0" fill="#80F040"/><rect x="925.2" y="623.0" width="50.2" height="2.0" fill="#40F080"/><rect x="935.5" y="624.6" width="42.4" height="2.0" fill="#20E0A0"/><rect x="926.8" y="626.2" width="51.5" height="2.0" fill="#20E0A0"/><rect x="920.8" y="627.8" width="64.2" height="2.0" fill="#FFE030"/><rect x="925.1" y="629.4" width="50.5" height="2.0" fill="#00D0E0"/><rect x="926.6" y="631.0" width="45.0" height="2.0" fill="#30B8FF"/><rect x="923.9" y="632.6" width="54.9" height="2.0" fill="#20E0A0"/><rect x="935.3" y="634.2" width="46.6" height="2.0" fill="#00D0E0"/><rect x="921.0" y="635.8" width="54.9" height="2.0" fill="#FFE030"/><clipPath id="c977984264"><path d="M923.0,637.0 Q926.0,620.0 944.5,618.1 Q935.1,609.6 936.0,602.0 A17.0,19.0 0 0 1 970.0,602.0 Q970.9,609.6 961.5,618.1 Q980.0,620.0 983.0,637.0 Z"/></clipPath><path d="M923.0,637.0 Q926.0,620.0 944.5,618.1 Q935.1,609.6 936.0,602.0 A17.0,19.0 0 0 1 970.0,602.0 Q970.9,609.6 961.5,618.1 Q980.0,620.0 983.0,637.0 Z" fill="#2A20B0"/><g clip-path="url(#c977984264)"><rect x="927.8" y="600.8" width="2.8" height="1.7" fill="#8060FF"/><rect x="965.8" y="628.7" width="2.6" height="1.9" fill="#20D0C0"/><rect x="941.2" y="592.8" width="1.7" height="1.2" fill="#3050FF"/><rect x="963.7" y="623.8" width="3.3" height="2.0" fill="#8060FF"/><rect x="952.1" y="611.8" width="2.7" height="1.2" fill="#20D0C0"/><rect x="970.1" y="610.3" width="2.3" height="1.6" fill="#3050FF"/><rect x="964.3" y="584.9" width="1.5" height="2.4" fill="#8060FF"/><rect x="948.9" y="612.1" width="1.4" height="1.1" fill="#5040FF"/><rect x="983.0" y="612.4" width="2.8" height="1.9" fill="#20D0C0"/><rect x="929.3" y="633.7" width="2.1" height="2.5" fill="#1010A0"/><rect x="925.5" y="598.9" width="1.3" height="2.1" fill="#20D0C0"/><rect x="942.4" y="596.0" width="1.8" height="2.1" fill="#5040FF"/><rect x="946.5" y="583.1" width="1.2" height="1.1" fill="#5040FF"/><rect x="955.7" y="633.8" width="2.3" height="2.0" fill="#3050FF"/><rect x="957.7" y="626.0" width="2.6" height="1.1" fill="#5040FF"/><rect x="950.0" y="619.5" width="3.1" height="1.7" fill="#20A0E0"/><rect x="954.6" y="586.0" width="1.6" height="2.1" fill="#20A0E0"/><rect x="981.5" y="635.3" width="2.9" height="1.5" fill="#1010A0"/><rect x="969.2" y="635.3" width="2.0" height="1.6" fill="#20D0C0"/><rect x="924.5" y="608.3" width="1.7" height="1.8" fill="#8060FF"/><rect x="932.0" y="587.4" width="2.5" height="1.7" fill="#8060FF"/><rect x="925.7" y="626.7" width="3.0" height="1.4" fill="#3050FF"/><rect x="947.7" y="592.7" width="1.5" height="2.2" fill="#1010A0"/><rect x="980.4" y="628.6" width="2.8" height="1.6" fill="#20A0E0"/><rect x="951.4" y="588.9" width="3.2" height="1.3" fill="#20A0E0"/><rect x="932.9" y="597.4" width="1.5" height="1.3" fill="#3050FF"/><rect x="977.2" y="586.2" width="1.5" height="2.1" fill="#8060FF"/><rect x="948.4" y="607.6" width="3.3" height="2.0" fill="#20D0C0"/><rect x="980.8" y="620.8" width="3.0" height="2.4" fill="#5040FF"/><rect x="966.9" y="623.4" width="2.5" height="1.2" fill="#8060FF"/><rect x="940.8" y="584.9" width="2.7" height="1.3" fill="#3050FF"/><rect x="982.3" y="622.4" width="2.4" height="1.9" fill="#20D0C0"/><rect x="947.8" y="629.0" width="2.6" height="1.3" fill="#3050FF"/><rect x="969.1" y="629.6" width="2.0" height="2.2" fill="#20D0C0"/><rect x="968.0" y="583.5" width="1.4" height="1.5" fill="#3050FF"/><rect x="967.4" y="603.3" width="1.6" height="1.7" fill="#20A0E0"/><rect x="927.6" y="629.1" width="3.4" height="2.4" fill="#1010A0"/><rect x="971.9" y="614.1" width="2.9" height="1.8" fill="#20D0C0"/><rect x="953.2" y="635.7" width="2.2" height="1.7" fill="#8060FF"/><rect x="981.6" y="601.1" width="2.1" height="1.2" fill="#20D0C0"/><rect x="976.8" y="630.4" width="1.9" height="1.0" fill="#1010A0"/><rect x="950.8" y="633.1" width="2.7" height="2.4" fill="#1010A0"/><rect x="968.6" y="592.1" width="2.7" height="1.7" fill="#20A0E0"/><rect x="974.1" y="635.4" width="3.3" height="1.4" fill="#3050FF"/><rect x="942.2" y="586.0" width="3.0" height="2.1" fill="#20A0E0"/><rect x="970.2" y="586.4" width="1.7" height="1.7" fill="#5040FF"/><rect x="951.6" y="629.5" width="2.6" height="1.5" fill="#20D0C0"/><rect x="926.0" y="584.5" width="2.5" height="1.9" fill="#1010A0"/><rect x="982.4" y="609.5" width="2.1" height="1.1" fill="#20A0E0"/><rect x="936.4" y="591.4" width="2.2" height="1.6" fill="#1010A0"/><rect x="982.5" y="636.0" width="1.5" height="1.7" fill="#5040FF"/><rect x="967.7" y="594.0" width="2.5" height="2.1" fill="#8060FF"/><rect x="954.8" y="632.2" width="3.5" height="2.2" fill="#5040FF"/><rect x="923.3" y="602.0" width="1.3" height="2.5" fill="#3050FF"/><rect x="963.4" y="634.4" width="2.9" height="1.8" fill="#1010A0"/><rect x="952.5" y="603.2" width="3.5" height="1.4" fill="#20D0C0"/><rect x="975.3" y="599.1" width="1.0" height="2.5" fill="#20D0C0"/><rect x="956.5" y="594.4" width="3.1" height="2.4" fill="#5040FF"/><rect x="951.4" y="618.0" width="1.1" height="2.4" fill="#5040FF"/><rect x="928.7" y="616.3" width="2.6" height="2.1" fill="#20D0C0"/><rect x="970.3" y="633.9" width="3.3" height="1.8" fill="#3050FF"/><rect x="940.5" y="589.6" width="1.2" height="1.3" fill="#20D0C0"/><rect x="957.0" y="592.2" width="1.4" height="1.1" fill="#20D0C0"/><rect x="947.0" y="621.9" width="2.5" height="1.6" fill="#3050FF"/><rect x="930.2" y="588.6" width="3.3" height="1.3" fill="#1010A0"/><rect x="957.5" y="594.7" width="1.4" height="2.2" fill="#1010A0"/><rect x="964.7" y="603.1" width="2.5" height="2.2" fill="#3050FF"/><rect x="928.1" y="616.8" width="1.1" height="1.9" fill="#20D0C0"/><rect x="934.8" y="607.8" width="1.0" height="1.8" fill="#3050FF"/><rect x="942.0" y="604.5" width="2.8" height="1.9" fill="#20D0C0"/><rect x="958.0" y="599.8" width="2.8" height="1.1" fill="#1010A0"/><rect x="949.9" y="592.3" width="1.7" height="1.9" fill="#3050FF"/><rect x="961.6" y="606.3" width="2.7" height="2.4" fill="#8060FF"/><rect x="950.4" y="634.9" width="1.5" height="1.3" fill="#1010A0"/><rect x="938.3" y="617.0" width="2.4" height="1.0" fill="#20A0E0"/><rect x="937.4" y="584.5" width="2.7" height="2.3" fill="#8060FF"/><rect x="974.3" y="594.5" width="1.8" height="1.9" fill="#1010A0"/><rect x="953.4" y="597.4" width="3.4" height="1.6" fill="#20D0C0"/><rect x="928.1" y="586.1" width="2.5" height="1.1" fill="#20A0E0"/><rect x="980.5" y="590.9" width="3.4" height="1.9" fill="#3050FF"/><rect x="948.4" y="606.1" width="1.5" height="2.2" fill="#20A0E0"/><rect x="951.8" y="583.3" width="2.5" height="1.5" fill="#8060FF"/><rect x="978.5" y="630.8" width="2.2" height="2.2" fill="#5040FF"/><rect x="977.9" y="601.4" width="1.3" height="1.2" fill="#20A0E0"/><rect x="944.1" y="592.4" width="2.0" height="1.2" fill="#8060FF"/><rect x="924.9" y="608.8" width="3.0" height="1.1" fill="#1010A0"/><rect x="977.5" y="622.2" width="2.7" height="2.1" fill="#8060FF"/><rect x="951.5" y="629.4" width="3.0" height="2.4" fill="#20D0C0"/><rect x="955.0" y="633.8" width="1.8" height="1.3" fill="#1010A0"/><rect x="957.6" y="595.0" width="1.9" height="1.7" fill="#5040FF"/><rect x="935.5" y="616.4" width="2.0" height="2.0" fill="#20D0C0"/><rect x="943.8" y="633.3" width="2.0" height="1.5" fill="#1010A0"/><rect x="960.0" y="616.1" width="2.5" height="1.8" fill="#1010A0"/><rect x="938.7" y="620.3" width="3.3" height="1.4" fill="#8060FF"/><rect x="951.3" y="634.1" width="3.3" height="2.5" fill="#3050FF"/><rect x="936.9" y="627.2" width="3.3" height="1.3" fill="#20D0C0"/><rect x="976.9" y="591.8" width="1.6" height="2.3" fill="#8060FF"/><rect x="978.4" y="587.9" width="3.4" height="1.4" fill="#1010A0"/><rect x="924.6" y="609.3" width="2.3" height="1.5" fill="#20A0E0"/><rect x="970.5" y="635.7" width="1.2" height="1.9" fill="#8060FF"/><rect x="939.5" y="611.0" width="2.9" height="1.5" fill="#20A0E0"/><rect x="940.1" y="619.7" width="2.5" height="1.6" fill="#3050FF"/><rect x="928.2" y="620.0" width="3.0" height="1.2" fill="#1010A0"/><rect x="925.0" y="597.8" width="1.2" height="2.0" fill="#3050FF"/><rect x="924.4" y="630.1" width="2.9" height="2.1" fill="#5040FF"/><rect x="931.9" y="632.1" width="2.3" height="1.8" fill="#8060FF"/><rect x="979.3" y="629.1" width="2.4" height="2.5" fill="#3050FF"/><rect x="970.3" y="613.5" width="2.6" height="1.1" fill="#20A0E0"/><rect x="927.8" y="600.3" width="2.7" height="2.3" fill="#3050FF"/><rect x="941.9" y="605.4" width="1.8" height="1.3" fill="#3050FF"/><rect x="923.5" y="586.6" width="3.0" height="1.9" fill="#20A0E0"/><rect x="953.9" y="620.8" width="1.5" height="2.1" fill="#1010A0"/><rect x="973.6" y="591.4" width="2.7" height="1.3" fill="#20A0E0"/><rect x="928.1" y="613.3" width="1.6" height="2.0" fill="#5040FF"/><rect x="961.8" y="605.6" width="2.4" height="1.2" fill="#20A0E0"/><rect x="954.2" y="586.1" width="2.9" height="2.1" fill="#3050FF"/><rect x="982.6" y="604.8" width="1.2" height="1.8" fill="#3050FF"/><rect x="939.9" y="607.3" width="2.4" height="2.0" fill="#20D0C0"/><rect x="943.1" y="601.9" width="1.5" height="2.1" fill="#5040FF"/><rect x="925.5" y="584.6" width="1.9" height="1.7" fill="#8060FF"/><rect x="949.3" y="626.9" width="2.2" height="1.9" fill="#5040FF"/><rect x="972.8" y="607.1" width="1.6" height="2.1" fill="#20A0E0"/><rect x="938.2" y="598.7" width="1.8" height="1.3" fill="#1010A0"/><rect x="946.0" y="594.8" width="3.1" height="2.0" fill="#20A0E0"/><rect x="964.2" y="630.9" width="1.3" height="1.3" fill="#5040FF"/><rect x="957.0" y="603.5" width="1.4" height="2.3" fill="#3050FF"/><rect x="924.0" y="584.5" width="1.8" height="1.6" fill="#3050FF"/><rect x="942.3" y="616.1" width="1.0" height="1.9" fill="#20D0C0"/><rect x="942.1" y="592.4" width="3.1" height="1.2" fill="#20D0C0"/><rect x="942.0" y="623.5" width="1.2" height="1.2" fill="#5040FF"/><rect x="967.2" y="602.2" width="3.4" height="2.4" fill="#8060FF"/><rect x="968.3" y="611.5" width="2.0" height="1.2" fill="#5040FF"/><rect x="974.8" y="636.9" width="3.0" height="1.4" fill="#3050FF"/><rect x="959.8" y="585.1" width="1.5" height="2.4" fill="#8060FF"/><rect x="967.4" y="618.7" width="1.1" height="2.4" fill="#5040FF"/><rect x="941.9" y="623.3" width="2.2" height="1.1" fill="#8060FF"/><rect x="973.1" y="604.3" width="3.1" height="1.3" fill="#5040FF"/><rect x="966.7" y="622.5" width="3.0" height="2.0" fill="#8060FF"/><rect x="981.1" y="627.2" width="2.2" height="1.1" fill="#5040FF"/><rect x="968.9" y="629.9" width="3.2" height="1.6" fill="#1010A0"/><rect x="960.3" y="610.1" width="3.1" height="1.5" fill="#20D0C0"/><rect x="949.4" y="629.9" width="2.7" height="1.8" fill="#5040FF"/><rect x="955.7" y="592.4" width="3.0" height="2.3" fill="#20A0E0"/><rect x="952.0" y="619.1" width="3.3" height="1.7" fill="#20D0C0"/><rect x="966.2" y="613.6" width="2.0" height="1.5" fill="#5040FF"/><rect x="970.0" y="634.1" width="1.2" height="1.9" fill="#8060FF"/><rect x="941.7" y="591.3" width="1.2" height="1.4" fill="#5040FF"/><rect x="965.8" y="601.0" width="2.1" height="2.2" fill="#3050FF"/><rect x="930.2" y="606.6" width="2.0" height="2.1" fill="#5040FF"/><rect x="960.9" y="630.7" width="1.5" height="1.6" fill="#5040FF"/><rect x="961.6" y="620.7" width="2.5" height="1.9" fill="#20A0E0"/><rect x="974.2" y="635.7" width="2.8" height="2.1" fill="#3050FF"/><rect x="966.4" y="586.3" width="2.9" height="2.4" fill="#20A0E0"/><rect x="945.4" y="596.1" width="1.2" height="1.8" fill="#5040FF"/><rect x="944.4" y="587.1" width="1.3" height="2.4" fill="#20D0C0"/><rect x="925.9" y="620.2" width="2.5" height="1.7" fill="#1010A0"/><rect x="937.8" y="597.2" width="2.5" height="2.1" fill="#20D0C0"/><rect x="970.6" y="600.0" width="1.8" height="1.6" fill="#5040FF"/><rect x="953.3" y="630.0" width="1.7" height="1.1" fill="#5040FF"/><rect x="963.6" y="596.3" width="2.8" height="1.8" fill="#20A0E0"/><rect x="942.1" y="613.3" width="2.5" height="1.7" fill="#3050FF"/><rect x="946.3" y="635.9" width="3.3" height="2.2" fill="#1010A0"/><rect x="960.3" y="595.5" width="1.3" height="1.1" fill="#1010A0"/><rect x="964.4" y="608.3" width="1.7" height="1.9" fill="#8060FF"/><rect x="973.9" y="597.5" width="2.0" height="2.5" fill="#1010A0"/><rect x="961.4" y="617.0" width="1.9" height="1.1" fill="#5040FF"/><rect x="926.8" y="615.4" width="3.3" height="1.5" fill="#5040FF"/><rect x="977.7" y="583.0" width="1.5" height="1.1" fill="#5040FF"/><rect x="932.5" y="625.0" width="2.6" height="2.0" fill="#5040FF"/><rect x="931.8" y="630.1" width="1.6" height="1.5" fill="#8060FF"/><rect x="924.1" y="620.8" width="1.1" height="1.8" fill="#5040FF"/><rect x="956.5" y="621.6" width="3.0" height="1.2" fill="#1010A0"/><rect x="960.4" y="604.0" width="1.7" height="1.4" fill="#20A0E0"/><rect x="974.2" y="600.8" width="2.2" height="2.3" fill="#20D0C0"/><rect x="982.4" y="625.2" width="2.7" height="2.1" fill="#20A0E0"/><rect x="969.0" y="585.2" width="3.0" height="2.2" fill="#3050FF"/><rect x="950.4" y="585.3" width="2.8" height="1.1" fill="#1010A0"/><rect x="927.6" y="589.6" width="3.4" height="2.5" fill="#20A0E0"/><rect x="956.1" y="583.2" width="1.6" height="2.1" fill="#20D0C0"/><rect x="961.9" y="635.1" width="3.3" height="2.3" fill="#5040FF"/><rect x="927.9" y="613.2" width="1.8" height="1.1" fill="#8060FF"/><rect x="968.7" y="625.5" width="2.8" height="1.6" fill="#1010A0"/><rect x="982.0" y="606.8" width="1.1" height="1.3" fill="#8060FF"/><rect x="975.3" y="621.3" width="2.2" height="2.4" fill="#20A0E0"/><rect x="968.9" y="634.5" width="3.2" height="1.7" fill="#3050FF"/><rect x="948.9" y="628.8" width="1.0" height="1.5" fill="#5040FF"/><rect x="935.4" y="617.0" width="1.3" height="2.3" fill="#3050FF"/><rect x="977.6" y="589.2" width="1.7" height="1.6" fill="#8060FF"/><rect x="967.3" y="636.5" width="3.2" height="1.8" fill="#8060FF"/><rect x="971.0" y="627.4" width="2.8" height="1.1" fill="#5040FF"/><rect x="932.4" y="584.6" width="2.8" height="2.2" fill="#20A0E0"/><rect x="934.1" y="627.2" width="1.9" height="2.1" fill="#8060FF"/><rect x="945.5" y="634.6" width="2.2" height="2.5" fill="#20D0C0"/><rect x="973.0" y="634.1" width="1.3" height="2.1" fill="#1010A0"/><rect x="948.7" y="587.9" width="2.6" height="2.2" fill="#3050FF"/><rect x="942.2" y="632.2" width="1.1" height="2.3" fill="#3050FF"/><rect x="940.4" y="619.6" width="1.2" height="1.6" fill="#8060FF"/><rect x="947.8" y="586.5" width="3.1" height="1.7" fill="#5040FF"/><rect x="925.1" y="591.8" width="1.6" height="2.2" fill="#3050FF"/><rect x="943.7" y="608.4" width="1.3" height="1.9" fill="#3050FF"/><rect x="974.5" y="595.9" width="2.9" height="1.5" fill="#20D0C0"/><rect x="962.6" y="586.8" width="2.2" height="1.6" fill="#20D0C0"/><rect x="938.6" y="608.1" width="1.8" height="2.5" fill="#20D0C0"/><rect x="972.6" y="619.8" width="1.5" height="1.2" fill="#5040FF"/><rect x="935.0" y="629.9" width="2.5" height="1.7" fill="#20D0C0"/><rect x="964.9" y="602.9" width="2.9" height="1.8" fill="#1010A0"/><rect x="953.1" y="617.4" width="2.7" height="1.9" fill="#20A0E0"/><rect x="974.6" y="594.2" width="2.4" height="1.9" fill="#20A0E0"/><rect x="970.2" y="584.5" width="2.4" height="2.4" fill="#5040FF"/><rect x="950.0" y="635.1" width="3.0" height="2.3" fill="#1010A0"/><rect x="940.4" y="607.6" width="2.1" height="1.7" fill="#3050FF"/><rect x="950.1" y="608.9" width="3.4" height="1.8" fill="#20A0E0"/><rect x="943.3" y="621.5" width="2.6" height="2.3" fill="#20D0C0"/><rect x="978.6" y="610.2" width="1.6" height="1.0" fill="#20A0E0"/><rect x="952.7" y="596.5" width="2.5" height="1.7" fill="#1010A0"/><rect x="980.9" y="623.1" width="2.5" height="1.8" fill="#3050FF"/><rect x="958.6" y="607.7" width="2.8" height="1.6" fill="#3050FF"/><rect x="938.9" y="629.6" width="2.4" height="2.5" fill="#3050FF"/><rect x="940.0" y="609.6" width="2.4" height="1.2" fill="#1010A0"/><rect x="950.8" y="623.9" width="1.0" height="1.8" fill="#8060FF"/></g><rect x="1074.8" y="586.0" width="55.5" height="2.0" fill="#90F000"/><rect x="1071.8" y="587.6" width="56.3" height="2.0" fill="#FF3000"/><rect x="1079.0" y="589.2" width="43.6" height="2.0" fill="#33EE33"/><rect x="1079.8" y="590.8" width="53.2" height="2.0" fill="#00E8C0"/><rect x="1078.7" y="592.4" width="47.6" height="2.0" fill="#00E8C0"/><rect x="1075.3" y="594.0" width="52.9" height="2.0" fill="#FFE000"/><rect x="1077.8" y="595.6" width="44.1" height="2.0" fill="#FFB000"/><rect x="1072.0" y="597.2" width="51.5" height="2.0" fill="#FF6000"/><rect x="1072.8" y="598.8" width="47.6" height="2.0" fill="#FF6000"/><rect x="1079.9" y="600.4" width="41.6" height="2.0" fill="#FFB000"/><rect x="1073.2" y="602.0" width="59.8" height="2.0" fill="#FF9000"/><rect x="1068.3" y="603.6" width="58.5" height="2.0" fill="#33EE33"/><rect x="1072.8" y="605.2" width="59.8" height="2.0" fill="#33EE33"/><rect x="1078.2" y="606.8" width="53.8" height="2.0" fill="#FFB000"/><rect x="1074.9" y="608.4" width="47.0" height="2.0" fill="#FF3000"/><rect x="1076.1" y="610.0" width="47.3" height="2.0" fill="#FF6000"/><rect x="1072.6" y="611.6" width="50.5" height="2.0" fill="#FF9000"/><rect x="1069.9" y="613.2" width="53.6" height="2.0" fill="#FF3000"/><rect x="1079.3" y="614.8" width="53.8" height="2.0" fill="#90F000"/><rect x="1076.8" y="616.4" width="47.7" height="2.0" fill="#FFB000"/><rect x="1071.9" y="618.0" width="59.6" height="2.0" fill="#33EE33"/><rect x="1074.5" y="619.6" width="52.3" height="2.0" fill="#FFB000"/><rect x="1077.9" y="621.2" width="46.0" height="2.0" fill="#FFB000"/><rect x="1071.2" y="622.8" width="59.0" height="2.0" fill="#FFB000"/><rect x="1068.1" y="624.4" width="59.5" height="2.0" fill="#FF9000"/><rect x="1070.3" y="626.0" width="50.3" height="2.0" fill="#33EE33"/><rect x="1074.7" y="627.6" width="45.6" height="2.0" fill="#90F000"/><rect x="1069.2" y="629.2" width="61.3" height="2.0" fill="#00E8C0"/><rect x="1069.2" y="630.8" width="58.2" height="2.0" fill="#FFB000"/><rect x="1070.8" y="632.4" width="62.6" height="2.0" fill="#33EE33"/><rect x="1068.5" y="634.0" width="55.8" height="2.0" fill="#FF9000"/><rect x="1067.8" y="635.6" width="62.8" height="2.0" fill="#90F000"/><clipPath id="c894667231"><path d="M1074.0,636.0 Q1076.3,623.0 1088.5,621.0 Q1079.2,612.0 1080.0,604.0 A17.0,20.0 0 0 1 1114.0,604.0 Q1114.8,612.0 1105.5,621.0 Q1117.7,623.0 1120.0,636.0 Z"/></clipPath><path d="M1074.0,636.0 Q1076.3,623.0 1088.5,621.0 Q1079.2,612.0 1080.0,604.0 A17.0,20.0 0 0 1 1114.0,604.0 Q1114.8,612.0 1105.5,621.0 Q1117.7,623.0 1120.0,636.0 Z" fill="#607090"/><g clip-path="url(#c894667231)"><rect x="1094.2" y="627.6" width="1.1" height="1.4" fill="#E07030"/><rect x="1091.0" y="586.0" width="1.6" height="1.5" fill="#30B0E0"/><rect x="1112.8" y="594.6" width="1.0" height="2.3" fill="#C08040"/><rect x="1082.4" y="610.9" width="2.4" height="1.9" fill="#A0A0A0"/><rect x="1079.7" y="589.5" width="2.6" height="2.4" fill="#E07030"/><rect x="1088.0" y="605.7" width="2.0" height="1.3" fill="#FFC040"/><rect x="1100.9" y="634.5" width="1.1" height="2.5" fill="#C08040"/><rect x="1093.8" y="590.9" width="2.4" height="2.1" fill="#FFC040"/><rect x="1116.6" y="627.2" width="3.4" height="1.0" fill="#80C060"/><rect x="1091.2" y="633.1" width="2.2" height="2.3" fill="#C08040"/><rect x="1097.7" y="628.9" width="1.5" height="1.0" fill="#FFC040"/><rect x="1113.5" y="623.5" width="2.0" height="2.1" fill="#30B0E0"/><rect x="1107.4" y="602.7" width="2.1" height="1.0" fill="#4080FF"/><rect x="1085.1" y="612.2" width="1.7" height="2.4" fill="#30B0E0"/><rect x="1116.2" y="606.0" width="1.3" height="2.1" fill="#4080FF"/><rect x="1104.3" y="598.4" width="1.5" height="1.4" fill="#80C060"/><rect x="1115.6" y="597.9" width="1.3" height="1.8" fill="#A0A0A0"/><rect x="1086.0" y="599.3" width="2.3" height="1.0" fill="#A0A0A0"/><rect x="1099.9" y="608.7" width="2.1" height="1.2" fill="#E07030"/><rect x="1119.6" y="600.2" width="1.0" height="1.2" fill="#4080FF"/><rect x="1091.0" y="633.6" width="1.2" height="1.9" fill="#80C060"/><rect x="1081.5" y="595.9" width="2.4" height="1.8" fill="#FFC040"/><rect x="1104.1" y="612.9" width="2.6" height="1.7" fill="#A0A0A0"/><rect x="1100.4" y="595.0" width="2.4" height="2.4" fill="#C08040"/><rect x="1103.3" y="598.3" width="2.9" height="2.5" fill="#A0A0A0"/><rect x="1103.8" y="591.0" width="2.8" height="2.3" fill="#C08040"/><rect x="1080.3" y="622.1" width="3.3" height="1.3" fill="#80C060"/><rect x="1097.3" y="605.1" width="2.4" height="2.4" fill="#30B0E0"/><rect x="1107.4" y="622.7" width="3.1" height="1.5" fill="#30B0E0"/><rect x="1097.6" y="589.2" width="2.9" height="2.0" fill="#A0A0A0"/><rect x="1077.3" y="611.1" width="2.1" height="1.9" fill="#80C060"/><rect x="1079.5" y="601.8" width="3.1" height="1.3" fill="#E07030"/><rect x="1114.8" y="612.4" width="2.4" height="1.7" fill="#C08040"/><rect x="1099.9" y="611.8" width="1.9" height="1.7" fill="#80C060"/><rect x="1114.3" y="630.6" width="2.9" height="1.4" fill="#A0A0A0"/><rect x="1075.3" y="618.5" width="1.2" height="2.4" fill="#80C060"/><rect x="1113.3" y="617.5" width="2.9" height="1.4" fill="#C08040"/><rect x="1088.0" y="631.9" width="1.1" height="1.1" fill="#4080FF"/><rect x="1105.7" y="597.7" width="2.6" height="1.5" fill="#30B0E0"/><rect x="1079.5" y="611.3" width="1.8" height="1.3" fill="#C08040"/><rect x="1085.8" y="613.6" width="2.4" height="2.3" fill="#E07030"/><rect x="1101.9" y="632.3" width="2.3" height="1.1" fill="#A0A0A0"/><rect x="1118.6" y="614.1" width="2.3" height="2.2" fill="#30B0E0"/><rect x="1093.6" y="623.8" width="1.2" height="1.0" fill="#A0A0A0"/><rect x="1074.4" y="621.5" width="3.1" height="2.1" fill="#FFC040"/><rect x="1108.8" y="589.6" width="1.8" height="2.4" fill="#C08040"/><rect x="1092.5" y="632.8" width="3.4" height="1.8" fill="#A0A0A0"/><rect x="1107.7" y="618.0" width="1.1" height="1.8" fill="#4080FF"/><rect x="1111.1" y="600.9" width="2.2" height="2.4" fill="#C08040"/><rect x="1108.2" y="613.6" width="1.2" height="1.1" fill="#30B0E0"/><rect x="1117.1" y="597.7" width="2.6" height="2.1" fill="#30B0E0"/><rect x="1117.6" y="621.2" width="2.7" height="2.2" fill="#FFC040"/><rect x="1091.3" y="632.5" width="2.0" height="1.2" fill="#A0A0A0"/><rect x="1102.7" y="610.3" width="1.5" height="1.5" fill="#FFC040"/><rect x="1096.0" y="607.2" width="1.1" height="1.9" fill="#4080FF"/><rect x="1116.0" y="601.8" width="2.5" height="1.1" fill="#4080FF"/><rect x="1119.1" y="619.6" width="1.3" height="2.0" fill="#E07030"/><rect x="1097.3" y="608.0" width="1.5" height="1.2" fill="#30B0E0"/><rect x="1091.6" y="614.0" width="2.9" height="1.8" fill="#FFC040"/><rect x="1087.9" y="618.1" width="2.1" height="2.2" fill="#80C060"/><rect x="1093.5" y="597.8" width="3.2" height="1.9" fill="#E07030"/><rect x="1074.8" y="606.1" width="1.9" height="2.3" fill="#C08040"/><rect x="1111.3" y="607.5" width="2.7" height="1.1" fill="#80C060"/><rect x="1085.3" y="615.8" width="1.9" height="1.0" fill="#4080FF"/><rect x="1113.9" y="610.5" width="2.7" height="1.2" fill="#E07030"/><rect x="1109.4" y="601.8" width="2.3" height="1.4" fill="#E07030"/><rect x="1107.8" y="628.5" width="1.5" height="1.4" fill="#A0A0A0"/><rect x="1094.8" y="626.3" width="2.3" height="1.5" fill="#A0A0A0"/><rect x="1084.3" y="625.9" width="1.4" height="1.7" fill="#FFC040"/><rect x="1102.2" y="635.5" width="1.8" height="1.6" fill="#C08040"/><rect x="1110.0" y="590.8" width="2.1" height="2.0" fill="#30B0E0"/><rect x="1106.0" y="610.1" width="2.9" height="1.7" fill="#C08040"/><rect x="1074.5" y="605.3" width="2.5" height="2.4" fill="#C08040"/><rect x="1112.4" y="584.7" width="3.2" height="1.5" fill="#80C060"/><rect x="1100.5" y="614.1" width="2.6" height="2.1" fill="#E07030"/><rect x="1109.6" y="634.4" width="1.1" height="2.4" fill="#C08040"/><rect x="1105.6" y="631.5" width="1.4" height="1.2" fill="#FFC040"/><rect x="1117.7" y="626.1" width="3.3" height="2.4" fill="#A0A0A0"/><rect x="1102.7" y="595.7" width="1.2" height="1.7" fill="#30B0E0"/><rect x="1105.9" y="596.8" width="1.7" height="1.0" fill="#E07030"/><rect x="1112.2" y="599.0" width="1.5" height="1.3" fill="#E07030"/><rect x="1114.0" y="605.1" width="1.8" height="1.6" fill="#FFC040"/><rect x="1115.8" y="633.5" width="3.1" height="2.0" fill="#C08040"/><rect x="1111.8" y="604.2" width="3.2" height="2.1" fill="#30B0E0"/><rect x="1075.7" y="618.2" width="1.6" height="2.3" fill="#4080FF"/><rect x="1097.0" y="623.1" width="1.1" height="2.4" fill="#A0A0A0"/><rect x="1088.2" y="624.3" width="2.9" height="2.4" fill="#4080FF"/><rect x="1085.1" y="634.9" width="2.6" height="2.1" fill="#FFC040"/><rect x="1098.0" y="595.1" width="2.5" height="2.3" fill="#A0A0A0"/><rect x="1087.4" y="608.0" width="3.3" height="2.1" fill="#E07030"/><rect x="1101.6" y="629.0" width="1.9" height="1.2" fill="#A0A0A0"/><rect x="1109.4" y="621.7" width="2.3" height="2.1" fill="#80C060"/><rect x="1098.2" y="618.5" width="2.9" height="2.2" fill="#A0A0A0"/><rect x="1116.2" y="608.4" width="3.4" height="1.7" fill="#30B0E0"/><rect x="1088.6" y="610.8" width="2.4" height="1.8" fill="#FFC040"/><rect x="1113.8" y="630.9" width="2.9" height="1.3" fill="#30B0E0"/><rect x="1092.6" y="590.0" width="3.3" height="2.5" fill="#A0A0A0"/><rect x="1119.3" y="588.2" width="1.8" height="1.4" fill="#E07030"/><rect x="1078.0" y="603.5" width="1.9" height="1.6" fill="#C08040"/><rect x="1080.9" y="586.1" width="2.7" height="1.6" fill="#E07030"/><rect x="1094.7" y="602.9" width="2.2" height="1.3" fill="#A0A0A0"/><rect x="1084.4" y="596.7" width="2.4" height="2.1" fill="#4080FF"/><rect x="1098.7" y="611.1" width="2.7" height="1.6" fill="#C08040"/><rect x="1110.2" y="631.5" width="1.0" height="1.2" fill="#4080FF"/><rect x="1112.0" y="586.4" width="2.3" height="1.3" fill="#80C060"/><rect x="1080.0" y="636.0" width="1.9" height="1.3" fill="#80C060"/><rect x="1097.3" y="587.1" width="1.1" height="1.1" fill="#4080FF"/><rect x="1078.8" y="599.8" width="2.8" height="1.3" fill="#E07030"/><rect x="1090.5" y="608.9" width="3.0" height="1.3" fill="#30B0E0"/><rect x="1101.1" y="622.3" width="3.2" height="2.3" fill="#E07030"/><rect x="1087.9" y="616.9" width="2.3" height="1.7" fill="#A0A0A0"/><rect x="1083.0" y="616.3" width="2.0" height="2.0" fill="#A0A0A0"/><rect x="1111.3" y="619.5" width="3.0" height="1.3" fill="#4080FF"/><rect x="1090.0" y="588.6" width="2.4" height="2.3" fill="#80C060"/><rect x="1080.2" y="598.2" width="3.3" height="1.3" fill="#FFC040"/><rect x="1111.2" y="613.8" width="1.8" height="1.5" fill="#80C060"/><rect x="1105.5" y="621.3" width="1.5" height="2.0" fill="#4080FF"/><rect x="1080.9" y="620.3" width="2.2" height="2.0" fill="#C08040"/><rect x="1092.2" y="625.3" width="3.3" height="1.3" fill="#A0A0A0"/><rect x="1094.5" y="610.0" width="1.1" height="1.4" fill="#C08040"/><rect x="1095.5" y="621.4" width="1.1" height="1.1" fill="#80C060"/><rect x="1108.1" y="617.9" width="1.7" height="1.5" fill="#80C060"/><rect x="1091.8" y="615.5" width="3.4" height="2.3" fill="#A0A0A0"/><rect x="1102.8" y="598.6" width="2.7" height="1.3" fill="#C08040"/><rect x="1091.1" y="605.1" width="2.0" height="1.3" fill="#80C060"/><rect x="1090.4" y="616.8" width="1.5" height="2.2" fill="#C08040"/><rect x="1113.6" y="625.0" width="1.1" height="1.8" fill="#30B0E0"/><rect x="1115.0" y="589.5" width="1.2" height="2.3" fill="#FFC040"/><rect x="1093.9" y="624.5" width="1.1" height="1.6" fill="#30B0E0"/><rect x="1113.0" y="598.0" width="3.3" height="2.2" fill="#C08040"/><rect x="1077.9" y="632.4" width="2.5" height="1.4" fill="#4080FF"/><rect x="1111.3" y="594.1" width="2.0" height="1.1" fill="#80C060"/><rect x="1105.4" y="602.3" width="3.3" height="1.8" fill="#E07030"/><rect x="1116.6" y="588.6" width="2.8" height="2.0" fill="#80C060"/><rect x="1110.8" y="616.7" width="2.2" height="2.5" fill="#E07030"/><rect x="1102.3" y="634.8" width="3.3" height="2.2" fill="#FFC040"/><rect x="1085.9" y="635.8" width="3.5" height="2.0" fill="#A0A0A0"/><rect x="1113.5" y="609.8" width="3.3" height="2.1" fill="#A0A0A0"/><rect x="1100.0" y="618.0" width="1.6" height="1.1" fill="#4080FF"/><rect x="1112.9" y="584.1" width="2.6" height="2.4" fill="#FFC040"/><rect x="1081.7" y="605.8" width="1.4" height="1.4" fill="#E07030"/><rect x="1094.0" y="590.9" width="2.1" height="1.0" fill="#4080FF"/><rect x="1098.0" y="593.1" width="2.7" height="1.8" fill="#A0A0A0"/><rect x="1117.9" y="616.6" width="1.2" height="1.8" fill="#80C060"/><rect x="1113.6" y="628.0" width="3.4" height="1.3" fill="#4080FF"/><rect x="1086.6" y="596.0" width="3.5" height="1.8" fill="#A0A0A0"/><rect x="1118.5" y="598.0" width="1.6" height="1.1" fill="#4080FF"/><rect x="1079.1" y="606.7" width="1.1" height="1.3" fill="#FFC040"/><rect x="1083.4" y="598.1" width="1.2" height="2.4" fill="#30B0E0"/><rect x="1081.6" y="605.6" width="2.3" height="1.1" fill="#30B0E0"/><rect x="1116.8" y="606.3" width="1.6" height="2.1" fill="#C08040"/><rect x="1094.1" y="599.6" width="1.8" height="1.5" fill="#4080FF"/><rect x="1094.2" y="606.9" width="2.2" height="1.6" fill="#FFC040"/><rect x="1075.8" y="625.0" width="1.7" height="1.4" fill="#FFC040"/><rect x="1077.5" y="622.6" width="1.6" height="2.0" fill="#30B0E0"/><rect x="1109.1" y="584.9" width="1.7" height="2.3" fill="#E07030"/><rect x="1118.2" y="596.3" width="2.5" height="2.0" fill="#E07030"/><rect x="1105.9" y="635.3" width="2.8" height="1.0" fill="#C08040"/><rect x="1094.1" y="617.5" width="1.0" height="2.4" fill="#FFC040"/><rect x="1104.7" y="619.1" width="1.1" height="2.4" fill="#80C060"/><rect x="1102.0" y="612.7" width="2.7" height="2.0" fill="#A0A0A0"/><rect x="1076.7" y="616.4" width="1.4" height="2.2" fill="#FFC040"/><rect x="1094.8" y="590.7" width="2.8" height="1.0" fill="#4080FF"/><rect x="1106.9" y="602.7" width="1.0" height="2.5" fill="#C08040"/><rect x="1107.5" y="628.8" width="1.8" height="1.3" fill="#4080FF"/><rect x="1083.6" y="585.0" width="1.4" height="1.5" fill="#80C060"/><rect x="1077.6" y="626.4" width="3.5" height="2.5" fill="#4080FF"/><rect x="1107.9" y="591.5" width="1.3" height="1.0" fill="#C08040"/><rect x="1088.5" y="624.8" width="1.5" height="2.2" fill="#FFC040"/><rect x="1113.9" y="607.7" width="3.2" height="1.0" fill="#30B0E0"/><rect x="1118.1" y="596.5" width="2.7" height="2.1" fill="#FFC040"/><rect x="1091.9" y="610.2" width="2.2" height="2.3" fill="#80C060"/><rect x="1089.9" y="594.6" width="2.2" height="1.6" fill="#E07030"/><rect x="1107.8" y="627.9" width="1.5" height="1.6" fill="#FFC040"/><rect x="1076.3" y="593.2" width="2.7" height="1.1" fill="#FFC040"/><rect x="1095.8" y="597.9" width="2.3" height="1.8" fill="#30B0E0"/><rect x="1119.0" y="609.8" width="1.9" height="2.3" fill="#80C060"/><rect x="1075.9" y="595.2" width="1.8" height="2.1" fill="#FFC040"/><rect x="1084.7" y="625.5" width="1.8" height="1.0" fill="#80C060"/><rect x="1099.7" y="618.1" width="2.8" height="1.6" fill="#E07030"/><rect x="1103.6" y="588.0" width="1.5" height="1.7" fill="#4080FF"/><rect x="1076.0" y="623.5" width="1.4" height="2.3" fill="#FFC040"/><rect x="1110.5" y="605.5" width="1.5" height="2.3" fill="#E07030"/><rect x="1119.0" y="625.9" width="1.1" height="1.0" fill="#30B0E0"/><rect x="1101.6" y="609.4" width="3.4" height="2.3" fill="#4080FF"/><rect x="1080.2" y="634.4" width="2.1" height="1.7" fill="#4080FF"/><rect x="1107.5" y="612.7" width="2.2" height="1.1" fill="#A0A0A0"/><rect x="1085.9" y="598.0" width="1.3" height="1.1" fill="#C08040"/><rect x="1094.2" y="607.5" width="1.3" height="2.5" fill="#C08040"/><rect x="1091.9" y="600.1" width="1.7" height="1.6" fill="#80C060"/><rect x="1094.9" y="620.6" width="2.4" height="2.1" fill="#C08040"/><rect x="1119.7" y="593.1" width="3.0" height="1.3" fill="#C08040"/><rect x="1096.8" y="629.9" width="2.4" height="2.0" fill="#E07030"/><rect x="1118.3" y="614.9" width="1.5" height="1.9" fill="#E07030"/><rect x="1087.3" y="609.6" width="2.1" height="2.2" fill="#E07030"/><rect x="1076.1" y="596.6" width="3.3" height="1.7" fill="#A0A0A0"/><rect x="1077.1" y="596.7" width="1.3" height="1.0" fill="#80C060"/><rect x="1098.3" y="628.9" width="2.9" height="1.1" fill="#C08040"/><rect x="1096.0" y="611.6" width="3.3" height="2.3" fill="#FFC040"/><rect x="1094.5" y="599.3" width="3.1" height="1.2" fill="#E07030"/><rect x="1082.6" y="626.0" width="3.2" height="1.2" fill="#C08040"/><rect x="1082.5" y="627.5" width="2.7" height="1.8" fill="#E07030"/><rect x="1078.9" y="633.0" width="1.3" height="2.1" fill="#30B0E0"/><rect x="1090.9" y="612.0" width="2.1" height="2.4" fill="#FFC040"/><rect x="1105.3" y="588.2" width="2.2" height="1.4" fill="#C08040"/><rect x="1104.6" y="616.3" width="2.3" height="2.0" fill="#C08040"/><rect x="1091.1" y="624.3" width="2.0" height="1.5" fill="#FFC040"/><rect x="1084.4" y="632.2" width="3.4" height="1.9" fill="#FFC040"/><rect x="1118.2" y="596.6" width="1.8" height="1.5" fill="#80C060"/><rect x="1115.1" y="602.2" width="3.3" height="2.2" fill="#C08040"/><rect x="1091.2" y="599.5" width="2.8" height="2.1" fill="#80C060"/><rect x="1113.6" y="599.8" width="1.0" height="2.3" fill="#E07030"/><rect x="1076.6" y="587.3" width="2.3" height="2.0" fill="#C08040"/><rect x="1119.0" y="619.8" width="1.9" height="1.3" fill="#30B0E0"/><rect x="1088.5" y="615.1" width="1.3" height="1.7" fill="#30B0E0"/><rect x="1080.8" y="596.4" width="1.8" height="1.7" fill="#E07030"/><rect x="1086.5" y="595.9" width="2.9" height="2.4" fill="#4080FF"/><rect x="1088.7" y="594.5" width="3.1" height="2.4" fill="#4080FF"/><rect x="1099.4" y="596.8" width="1.6" height="2.2" fill="#E07030"/><rect x="1075.6" y="590.7" width="3.0" height="2.2" fill="#80C060"/><rect x="1118.6" y="589.8" width="2.9" height="1.0" fill="#C08040"/><rect x="1109.8" y="612.8" width="1.8" height="1.0" fill="#80C060"/><rect x="1111.4" y="624.9" width="2.3" height="1.8" fill="#A0A0A0"/><rect x="1078.5" y="612.2" width="3.1" height="1.5" fill="#80C060"/><rect x="1095.7" y="634.8" width="1.5" height="1.5" fill="#30B0E0"/><rect x="1114.1" y="606.9" width="1.9" height="2.1" fill="#E07030"/><rect x="1116.8" y="586.6" width="3.2" height="1.8" fill="#A0A0A0"/><rect x="1092.0" y="617.8" width="1.1" height="1.3" fill="#A0A0A0"/><rect x="1090.1" y="591.1" width="2.0" height="1.6" fill="#C08040"/><rect x="1104.8" y="613.3" width="1.6" height="2.5" fill="#E07030"/><rect x="1091.8" y="602.7" width="3.5" height="1.5" fill="#E07030"/><rect x="1092.8" y="588.6" width="2.2" height="2.4" fill="#30B0E0"/><rect x="1099.2" y="614.8" width="2.0" height="2.2" fill="#E07030"/><rect x="1113.8" y="584.9" width="2.1" height="1.9" fill="#A0A0A0"/><rect x="1106.4" y="634.9" width="3.0" height="1.1" fill="#80C060"/><rect x="1083.3" y="618.9" width="2.0" height="1.5" fill="#FFC040"/><rect x="1104.5" y="612.2" width="2.8" height="1.8" fill="#FFC040"/><rect x="1117.5" y="585.8" width="2.7" height="1.4" fill="#E07030"/><rect x="1099.9" y="631.6" width="1.2" height="2.1" fill="#A0A0A0"/><rect x="1114.6" y="621.4" width="2.1" height="2.4" fill="#80C060"/></g></svg><div class="t" style="left:923px;top:646px;font-size:14px;color:#1F7AC8;-webkit-text-stroke:0.2px #1F7AC8;">正常状态</div><div class="t" style="left:1069px;top:646px;font-size:14px;color:#E8141E;-webkit-text-stroke:0.2px #E8141E;">可疑状态</div>

</body>
</html>
